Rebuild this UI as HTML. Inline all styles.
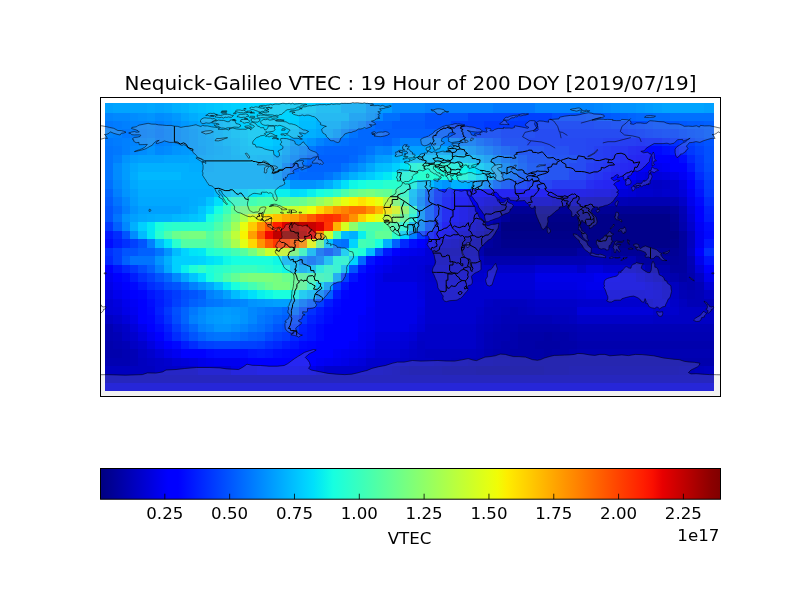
<!DOCTYPE html>
<html lang="en"><head><meta charset="utf-8"><title>Nequick-Galileo VTEC</title>
<style>html,body{margin:0;padding:0;background:#fff}svg{display:block}text{font-family:"DejaVu Sans","Liberation Sans",sans-serif;fill:#000}</style></head><body>
<svg width="800" height="600" viewBox="0 0 800 600">
<rect width="800" height="600" fill="#fff"/>
<defs><linearGradient id="jet" x1="0" x2="1" y1="0" y2="0"><stop offset="0.0000" stop-color="#000080"/><stop offset="0.0156" stop-color="#000092"/><stop offset="0.0312" stop-color="#0000a4"/><stop offset="0.0469" stop-color="#0000b6"/><stop offset="0.0625" stop-color="#0000c8"/><stop offset="0.0781" stop-color="#0000da"/><stop offset="0.0938" stop-color="#0000ed"/><stop offset="0.1094" stop-color="#0000ff"/><stop offset="0.1250" stop-color="#0000ff"/><stop offset="0.1406" stop-color="#0010ff"/><stop offset="0.1562" stop-color="#0020ff"/><stop offset="0.1719" stop-color="#0030ff"/><stop offset="0.1875" stop-color="#0040ff"/><stop offset="0.2031" stop-color="#0050ff"/><stop offset="0.2188" stop-color="#0060ff"/><stop offset="0.2344" stop-color="#0070ff"/><stop offset="0.2500" stop-color="#0080ff"/><stop offset="0.2656" stop-color="#0090ff"/><stop offset="0.2812" stop-color="#00a0ff"/><stop offset="0.2969" stop-color="#00b0ff"/><stop offset="0.3125" stop-color="#00c0ff"/><stop offset="0.3281" stop-color="#00d0ff"/><stop offset="0.3438" stop-color="#00e0fb"/><stop offset="0.3594" stop-color="#09f0ee"/><stop offset="0.3750" stop-color="#16ffe1"/><stop offset="0.3906" stop-color="#23ffd4"/><stop offset="0.4062" stop-color="#30ffc7"/><stop offset="0.4219" stop-color="#3cffba"/><stop offset="0.4375" stop-color="#49ffad"/><stop offset="0.4531" stop-color="#56ffa0"/><stop offset="0.4688" stop-color="#63ff94"/><stop offset="0.4844" stop-color="#70ff87"/><stop offset="0.5000" stop-color="#7dff7a"/><stop offset="0.5156" stop-color="#8aff6d"/><stop offset="0.5312" stop-color="#97ff60"/><stop offset="0.5469" stop-color="#a4ff53"/><stop offset="0.5625" stop-color="#b1ff46"/><stop offset="0.5781" stop-color="#beff39"/><stop offset="0.5938" stop-color="#caff2c"/><stop offset="0.6094" stop-color="#d7ff1f"/><stop offset="0.6250" stop-color="#e4ff13"/><stop offset="0.6406" stop-color="#f1fc06"/><stop offset="0.6562" stop-color="#feed00"/><stop offset="0.6719" stop-color="#ffde00"/><stop offset="0.6875" stop-color="#ffd000"/><stop offset="0.7031" stop-color="#ffc100"/><stop offset="0.7188" stop-color="#ffb200"/><stop offset="0.7344" stop-color="#ffa300"/><stop offset="0.7500" stop-color="#ff9400"/><stop offset="0.7656" stop-color="#ff8600"/><stop offset="0.7812" stop-color="#ff7700"/><stop offset="0.7969" stop-color="#ff6800"/><stop offset="0.8125" stop-color="#ff5900"/><stop offset="0.8281" stop-color="#ff4a00"/><stop offset="0.8438" stop-color="#ff3b00"/><stop offset="0.8594" stop-color="#ff2d00"/><stop offset="0.8750" stop-color="#ff1e00"/><stop offset="0.8906" stop-color="#fa0f00"/><stop offset="0.9062" stop-color="#e80000"/><stop offset="0.9219" stop-color="#d60000"/><stop offset="0.9375" stop-color="#c40000"/><stop offset="0.9531" stop-color="#b20000"/><stop offset="0.9688" stop-color="#9f0000"/><stop offset="0.9844" stop-color="#8d0000"/><stop offset="1.0000" stop-color="#800000"/></linearGradient>
<clipPath id="axclip"><rect x="100.5" y="97.5" width="620" height="299"/></clipPath></defs>
<g shape-rendering="crispEdges">
<rect x="104.66" y="102.90" width="8.74" height="9.90" fill="#00a0ff"/><rect x="113.10" y="102.90" width="34.06" height="9.90" fill="#00a4ff"/><rect x="146.86" y="102.90" width="8.74" height="9.90" fill="#00a8ff"/><rect x="155.30" y="102.90" width="8.74" height="9.90" fill="#00a4ff"/><rect x="163.74" y="102.90" width="8.74" height="9.90" fill="#00a8ff"/><rect x="172.18" y="102.90" width="8.74" height="9.90" fill="#00b0ff"/><rect x="180.62" y="102.90" width="8.74" height="9.90" fill="#00b4ff"/><rect x="189.06" y="102.90" width="8.74" height="9.90" fill="#00bcff"/><rect x="197.50" y="102.90" width="8.74" height="9.90" fill="#00c0ff"/><rect x="205.94" y="102.90" width="8.74" height="9.90" fill="#00c4ff"/><rect x="214.38" y="102.90" width="8.74" height="9.90" fill="#00c8ff"/><rect x="222.82" y="102.90" width="8.74" height="9.90" fill="#00ccff"/><rect x="231.26" y="102.90" width="17.18" height="9.90" fill="#00d0ff"/><rect x="248.14" y="102.90" width="42.50" height="9.90" fill="#00d4ff"/><rect x="290.34" y="102.90" width="17.18" height="9.90" fill="#00d0ff"/><rect x="307.22" y="102.90" width="8.74" height="9.90" fill="#00ccff"/><rect x="315.66" y="102.90" width="25.62" height="9.90" fill="#00c0ff"/><rect x="340.98" y="102.90" width="25.62" height="9.90" fill="#00b0ff"/><rect x="366.30" y="102.90" width="25.62" height="9.90" fill="#009cff"/><rect x="391.62" y="102.90" width="34.06" height="9.90" fill="#0088ff"/><rect x="425.38" y="102.90" width="67.82" height="9.90" fill="#0080ff"/><rect x="492.90" y="102.90" width="42.50" height="9.90" fill="#0078ff"/><rect x="535.10" y="102.90" width="59.38" height="9.90" fill="#0084ff"/><rect x="594.18" y="102.90" width="8.74" height="9.90" fill="#0088ff"/><rect x="602.62" y="102.90" width="8.74" height="9.90" fill="#008cff"/><rect x="611.06" y="102.90" width="8.74" height="9.90" fill="#0090ff"/><rect x="619.50" y="102.90" width="17.18" height="9.90" fill="#0094ff"/><rect x="636.38" y="102.90" width="8.74" height="9.90" fill="#0098ff"/><rect x="644.82" y="102.90" width="8.74" height="9.90" fill="#009cff"/><rect x="653.26" y="102.90" width="8.74" height="9.90" fill="#00a0ff"/><rect x="661.70" y="102.90" width="42.50" height="9.90" fill="#00a4ff"/><rect x="703.90" y="102.90" width="10.40" height="9.90" fill="#00a0ff"/>
<rect x="104.66" y="112.50" width="8.74" height="8.76" fill="#0084ff"/><rect x="113.10" y="112.50" width="17.18" height="8.76" fill="#0088ff"/><rect x="129.98" y="112.50" width="8.74" height="8.76" fill="#008cff"/><rect x="138.42" y="112.50" width="8.74" height="8.76" fill="#0090ff"/><rect x="146.86" y="112.50" width="8.74" height="8.76" fill="#0094ff"/><rect x="155.30" y="112.50" width="8.74" height="8.76" fill="#008cff"/><rect x="163.74" y="112.50" width="8.74" height="8.76" fill="#0090ff"/><rect x="172.18" y="112.50" width="8.74" height="8.76" fill="#0098ff"/><rect x="180.62" y="112.50" width="8.74" height="8.76" fill="#00a4ff"/><rect x="189.06" y="112.50" width="8.74" height="8.76" fill="#00acff"/><rect x="197.50" y="112.50" width="8.74" height="8.76" fill="#00b4ff"/><rect x="205.94" y="112.50" width="8.74" height="8.76" fill="#00b8ff"/><rect x="214.38" y="112.50" width="8.74" height="8.76" fill="#00c0ff"/><rect x="222.82" y="112.50" width="8.74" height="8.76" fill="#00c4ff"/><rect x="231.26" y="112.50" width="8.74" height="8.76" fill="#00ccff"/><rect x="239.70" y="112.50" width="8.74" height="8.76" fill="#00d0ff"/><rect x="248.14" y="112.50" width="42.50" height="8.76" fill="#00d4ff"/><rect x="290.34" y="112.50" width="8.74" height="8.76" fill="#00d0ff"/><rect x="298.78" y="112.50" width="17.18" height="8.76" fill="#00c0ff"/><rect x="315.66" y="112.50" width="34.06" height="8.76" fill="#00b8ff"/><rect x="349.42" y="112.50" width="17.18" height="8.76" fill="#00a0ff"/><rect x="366.30" y="112.50" width="8.74" height="8.76" fill="#0094ff"/><rect x="374.74" y="112.50" width="8.74" height="8.76" fill="#0088ff"/><rect x="383.18" y="112.50" width="17.18" height="8.76" fill="#0070ff"/><rect x="400.06" y="112.50" width="25.62" height="8.76" fill="#0060ff"/><rect x="425.38" y="112.50" width="42.50" height="8.76" fill="#0054ff"/><rect x="467.58" y="112.50" width="50.94" height="8.76" fill="#0044ff"/><rect x="518.22" y="112.50" width="34.06" height="8.76" fill="#0040ff"/><rect x="551.98" y="112.50" width="34.06" height="8.76" fill="#004cff"/><rect x="585.74" y="112.50" width="8.74" height="8.76" fill="#0050ff"/><rect x="594.18" y="112.50" width="8.74" height="8.76" fill="#0054ff"/><rect x="602.62" y="112.50" width="8.74" height="8.76" fill="#0058ff"/><rect x="611.06" y="112.50" width="8.74" height="8.76" fill="#005cff"/><rect x="619.50" y="112.50" width="8.74" height="8.76" fill="#0060ff"/><rect x="627.94" y="112.50" width="8.74" height="8.76" fill="#0064ff"/><rect x="636.38" y="112.50" width="17.18" height="8.76" fill="#0068ff"/><rect x="653.26" y="112.50" width="17.18" height="8.76" fill="#006cff"/><rect x="670.14" y="112.50" width="44.16" height="8.76" fill="#0070ff"/>
<rect x="104.66" y="120.96" width="8.74" height="8.76" fill="#0078ff"/><rect x="113.10" y="120.96" width="8.74" height="8.76" fill="#007cff"/><rect x="121.54" y="120.96" width="8.74" height="8.76" fill="#0080ff"/><rect x="129.98" y="120.96" width="17.18" height="8.76" fill="#0084ff"/><rect x="146.86" y="120.96" width="8.74" height="8.76" fill="#0088ff"/><rect x="155.30" y="120.96" width="8.74" height="8.76" fill="#0080ff"/><rect x="163.74" y="120.96" width="8.74" height="8.76" fill="#0088ff"/><rect x="172.18" y="120.96" width="8.74" height="8.76" fill="#0090ff"/><rect x="180.62" y="120.96" width="8.74" height="8.76" fill="#0098ff"/><rect x="189.06" y="120.96" width="8.74" height="8.76" fill="#00a0ff"/><rect x="197.50" y="120.96" width="8.74" height="8.76" fill="#00a8ff"/><rect x="205.94" y="120.96" width="8.74" height="8.76" fill="#00b0ff"/><rect x="214.38" y="120.96" width="8.74" height="8.76" fill="#00b8ff"/><rect x="222.82" y="120.96" width="8.74" height="8.76" fill="#00c0ff"/><rect x="231.26" y="120.96" width="8.74" height="8.76" fill="#00c8ff"/><rect x="239.70" y="120.96" width="8.74" height="8.76" fill="#00d0ff"/><rect x="248.14" y="120.96" width="34.06" height="8.76" fill="#00d4ff"/><rect x="281.90" y="120.96" width="8.74" height="8.76" fill="#00d0ff"/><rect x="290.34" y="120.96" width="8.74" height="8.76" fill="#00ccff"/><rect x="298.78" y="120.96" width="17.18" height="8.76" fill="#00bcff"/><rect x="315.66" y="120.96" width="25.62" height="8.76" fill="#00b0ff"/><rect x="340.98" y="120.96" width="8.74" height="8.76" fill="#00a0ff"/><rect x="349.42" y="120.96" width="8.74" height="8.76" fill="#0094ff"/><rect x="357.86" y="120.96" width="8.74" height="8.76" fill="#0088ff"/><rect x="366.30" y="120.96" width="8.74" height="8.76" fill="#0070ff"/><rect x="374.74" y="120.96" width="17.18" height="8.76" fill="#0064ff"/><rect x="391.62" y="120.96" width="34.06" height="8.76" fill="#005cff"/><rect x="425.38" y="120.96" width="25.62" height="8.76" fill="#0054ff"/><rect x="450.70" y="120.96" width="34.06" height="8.76" fill="#0040ff"/><rect x="484.46" y="120.96" width="110.02" height="8.76" fill="#0038ff"/><rect x="594.18" y="120.96" width="17.18" height="8.76" fill="#003cff"/><rect x="611.06" y="120.96" width="17.18" height="8.76" fill="#0040ff"/><rect x="627.94" y="120.96" width="8.74" height="8.76" fill="#0044ff"/><rect x="636.38" y="120.96" width="8.74" height="8.76" fill="#0048ff"/><rect x="644.82" y="120.96" width="8.74" height="8.76" fill="#004cff"/><rect x="653.26" y="120.96" width="17.18" height="8.76" fill="#0050ff"/><rect x="670.14" y="120.96" width="8.74" height="8.76" fill="#0054ff"/><rect x="678.58" y="120.96" width="8.74" height="8.76" fill="#0058ff"/><rect x="687.02" y="120.96" width="17.18" height="8.76" fill="#005cff"/><rect x="703.90" y="120.96" width="10.40" height="8.76" fill="#0060ff"/>
<rect x="104.66" y="129.41" width="8.74" height="8.76" fill="#0084ff"/><rect x="113.10" y="129.41" width="8.74" height="8.76" fill="#0080ff"/><rect x="121.54" y="129.41" width="8.74" height="8.76" fill="#0078ff"/><rect x="129.98" y="129.41" width="8.74" height="8.76" fill="#007cff"/><rect x="138.42" y="129.41" width="8.74" height="8.76" fill="#0080ff"/><rect x="146.86" y="129.41" width="8.74" height="8.76" fill="#0084ff"/><rect x="155.30" y="129.41" width="8.74" height="8.76" fill="#007cff"/><rect x="163.74" y="129.41" width="8.74" height="8.76" fill="#0084ff"/><rect x="172.18" y="129.41" width="8.74" height="8.76" fill="#008cff"/><rect x="180.62" y="129.41" width="8.74" height="8.76" fill="#0094ff"/><rect x="189.06" y="129.41" width="8.74" height="8.76" fill="#009cff"/><rect x="197.50" y="129.41" width="8.74" height="8.76" fill="#00a4ff"/><rect x="205.94" y="129.41" width="8.74" height="8.76" fill="#00acff"/><rect x="214.38" y="129.41" width="8.74" height="8.76" fill="#00b4ff"/><rect x="222.82" y="129.41" width="8.74" height="8.76" fill="#00bcff"/><rect x="231.26" y="129.41" width="8.74" height="8.76" fill="#00c4ff"/><rect x="239.70" y="129.41" width="8.74" height="8.76" fill="#00c8ff"/><rect x="248.14" y="129.41" width="34.06" height="8.76" fill="#00d0ff"/><rect x="281.90" y="129.41" width="8.74" height="8.76" fill="#00ccff"/><rect x="290.34" y="129.41" width="8.74" height="8.76" fill="#00c0ff"/><rect x="298.78" y="129.41" width="17.18" height="8.76" fill="#00b0ff"/><rect x="315.66" y="129.41" width="17.18" height="8.76" fill="#00a8ff"/><rect x="332.54" y="129.41" width="8.74" height="8.76" fill="#009cff"/><rect x="340.98" y="129.41" width="8.74" height="8.76" fill="#0088ff"/><rect x="349.42" y="129.41" width="8.74" height="8.76" fill="#0074ff"/><rect x="357.86" y="129.41" width="25.62" height="8.76" fill="#0068ff"/><rect x="383.18" y="129.41" width="67.82" height="8.76" fill="#0060ff"/><rect x="450.70" y="129.41" width="25.62" height="8.76" fill="#0050ff"/><rect x="476.02" y="129.41" width="25.62" height="8.76" fill="#0040ff"/><rect x="501.34" y="129.41" width="34.06" height="8.76" fill="#0038ff"/><rect x="535.10" y="129.41" width="93.14" height="8.76" fill="#0030ff"/><rect x="627.94" y="129.41" width="8.74" height="8.76" fill="#0034ff"/><rect x="636.38" y="129.41" width="8.74" height="8.76" fill="#0038ff"/><rect x="644.82" y="129.41" width="8.74" height="8.76" fill="#003cff"/><rect x="653.26" y="129.41" width="8.74" height="8.76" fill="#0040ff"/><rect x="661.70" y="129.41" width="17.18" height="8.76" fill="#0044ff"/><rect x="678.58" y="129.41" width="8.74" height="8.76" fill="#004cff"/><rect x="687.02" y="129.41" width="8.74" height="8.76" fill="#0050ff"/><rect x="695.46" y="129.41" width="8.74" height="8.76" fill="#0054ff"/><rect x="703.90" y="129.41" width="10.40" height="8.76" fill="#005cff"/>
<rect x="104.66" y="137.87" width="8.74" height="8.76" fill="#0078ff"/><rect x="113.10" y="137.87" width="8.74" height="8.76" fill="#007cff"/><rect x="121.54" y="137.87" width="8.74" height="8.76" fill="#0080ff"/><rect x="129.98" y="137.87" width="8.74" height="8.76" fill="#0084ff"/><rect x="138.42" y="137.87" width="8.74" height="8.76" fill="#0088ff"/><rect x="146.86" y="137.87" width="8.74" height="8.76" fill="#008cff"/><rect x="155.30" y="137.87" width="8.74" height="8.76" fill="#0080ff"/><rect x="163.74" y="137.87" width="8.74" height="8.76" fill="#0084ff"/><rect x="172.18" y="137.87" width="8.74" height="8.76" fill="#008cff"/><rect x="180.62" y="137.87" width="8.74" height="8.76" fill="#0094ff"/><rect x="189.06" y="137.87" width="8.74" height="8.76" fill="#009cff"/><rect x="197.50" y="137.87" width="8.74" height="8.76" fill="#00a4ff"/><rect x="205.94" y="137.87" width="8.74" height="8.76" fill="#00a8ff"/><rect x="214.38" y="137.87" width="8.74" height="8.76" fill="#00b0ff"/><rect x="222.82" y="137.87" width="8.74" height="8.76" fill="#00b8ff"/><rect x="231.26" y="137.87" width="8.74" height="8.76" fill="#00bcff"/><rect x="239.70" y="137.87" width="8.74" height="8.76" fill="#00c4ff"/><rect x="248.14" y="137.87" width="25.62" height="8.76" fill="#00ccff"/><rect x="273.46" y="137.87" width="8.74" height="8.76" fill="#00c4ff"/><rect x="281.90" y="137.87" width="8.74" height="8.76" fill="#00b8ff"/><rect x="290.34" y="137.87" width="17.18" height="8.76" fill="#00a0ff"/><rect x="307.22" y="137.87" width="8.74" height="8.76" fill="#0094ff"/><rect x="315.66" y="137.87" width="8.74" height="8.76" fill="#0084ff"/><rect x="324.10" y="137.87" width="8.74" height="8.76" fill="#0078ff"/><rect x="332.54" y="137.87" width="8.74" height="8.76" fill="#0074ff"/><rect x="340.98" y="137.87" width="8.74" height="8.76" fill="#0070ff"/><rect x="349.42" y="137.87" width="34.06" height="8.76" fill="#0068ff"/><rect x="383.18" y="137.87" width="8.74" height="8.76" fill="#0064ff"/><rect x="391.62" y="137.87" width="8.74" height="8.76" fill="#0070ff"/><rect x="400.06" y="137.87" width="34.06" height="8.76" fill="#0080ff"/><rect x="433.82" y="137.87" width="25.62" height="8.76" fill="#0084ff"/><rect x="459.14" y="137.87" width="17.18" height="8.76" fill="#0078ff"/><rect x="476.02" y="137.87" width="8.74" height="8.76" fill="#0068ff"/><rect x="484.46" y="137.87" width="8.74" height="8.76" fill="#005cff"/><rect x="492.90" y="137.87" width="8.74" height="8.76" fill="#0050ff"/><rect x="501.34" y="137.87" width="25.62" height="8.76" fill="#003cff"/><rect x="526.66" y="137.87" width="34.06" height="8.76" fill="#0030ff"/><rect x="560.42" y="137.87" width="25.62" height="8.76" fill="#002cff"/><rect x="585.74" y="137.87" width="17.18" height="8.76" fill="#0028ff"/><rect x="602.62" y="137.87" width="17.18" height="8.76" fill="#0024ff"/><rect x="619.50" y="137.87" width="17.18" height="8.76" fill="#0020ff"/><rect x="636.38" y="137.87" width="8.74" height="8.76" fill="#001cff"/><rect x="644.82" y="137.87" width="17.18" height="8.76" fill="#0020ff"/><rect x="661.70" y="137.87" width="8.74" height="8.76" fill="#0028ff"/><rect x="670.14" y="137.87" width="8.74" height="8.76" fill="#0030ff"/><rect x="678.58" y="137.87" width="8.74" height="8.76" fill="#0038ff"/><rect x="687.02" y="137.87" width="8.74" height="8.76" fill="#0040ff"/><rect x="695.46" y="137.87" width="8.74" height="8.76" fill="#004cff"/><rect x="703.90" y="137.87" width="10.40" height="8.76" fill="#0054ff"/>
<rect x="104.66" y="146.32" width="8.74" height="8.76" fill="#0074ff"/><rect x="113.10" y="146.32" width="8.74" height="8.76" fill="#0078ff"/><rect x="121.54" y="146.32" width="8.74" height="8.76" fill="#0080ff"/><rect x="129.98" y="146.32" width="8.74" height="8.76" fill="#0088ff"/><rect x="138.42" y="146.32" width="8.74" height="8.76" fill="#008cff"/><rect x="146.86" y="146.32" width="8.74" height="8.76" fill="#0094ff"/><rect x="155.30" y="146.32" width="8.74" height="8.76" fill="#0088ff"/><rect x="163.74" y="146.32" width="8.74" height="8.76" fill="#008cff"/><rect x="172.18" y="146.32" width="8.74" height="8.76" fill="#0094ff"/><rect x="180.62" y="146.32" width="8.74" height="8.76" fill="#0098ff"/><rect x="189.06" y="146.32" width="8.74" height="8.76" fill="#009cff"/><rect x="197.50" y="146.32" width="8.74" height="8.76" fill="#00a0ff"/><rect x="205.94" y="146.32" width="8.74" height="8.76" fill="#00a8ff"/><rect x="214.38" y="146.32" width="8.74" height="8.76" fill="#00acff"/><rect x="222.82" y="146.32" width="8.74" height="8.76" fill="#00b0ff"/><rect x="231.26" y="146.32" width="8.74" height="8.76" fill="#00b8ff"/><rect x="239.70" y="146.32" width="8.74" height="8.76" fill="#00c0ff"/><rect x="248.14" y="146.32" width="25.62" height="8.76" fill="#00c4ff"/><rect x="273.46" y="146.32" width="8.74" height="8.76" fill="#00bcff"/><rect x="281.90" y="146.32" width="8.74" height="8.76" fill="#00a8ff"/><rect x="290.34" y="146.32" width="8.74" height="8.76" fill="#0094ff"/><rect x="298.78" y="146.32" width="8.74" height="8.76" fill="#0088ff"/><rect x="307.22" y="146.32" width="8.74" height="8.76" fill="#0078ff"/><rect x="315.66" y="146.32" width="8.74" height="8.76" fill="#0068ff"/><rect x="324.10" y="146.32" width="34.06" height="8.76" fill="#0064ff"/><rect x="357.86" y="146.32" width="8.74" height="8.76" fill="#0068ff"/><rect x="366.30" y="146.32" width="8.74" height="8.76" fill="#0074ff"/><rect x="374.74" y="146.32" width="8.74" height="8.76" fill="#0084ff"/><rect x="383.18" y="146.32" width="8.74" height="8.76" fill="#0080ff"/><rect x="391.62" y="146.32" width="8.74" height="8.76" fill="#0094ff"/><rect x="400.06" y="146.32" width="25.62" height="8.76" fill="#00a0ff"/><rect x="425.38" y="146.32" width="25.62" height="8.76" fill="#00a8ff"/><rect x="450.70" y="146.32" width="17.18" height="8.76" fill="#00a0ff"/><rect x="467.58" y="146.32" width="8.74" height="8.76" fill="#0098ff"/><rect x="476.02" y="146.32" width="8.74" height="8.76" fill="#0088ff"/><rect x="484.46" y="146.32" width="8.74" height="8.76" fill="#0078ff"/><rect x="492.90" y="146.32" width="8.74" height="8.76" fill="#0068ff"/><rect x="501.34" y="146.32" width="8.74" height="8.76" fill="#005cff"/><rect x="509.78" y="146.32" width="8.74" height="8.76" fill="#0050ff"/><rect x="518.22" y="146.32" width="25.62" height="8.76" fill="#0040ff"/><rect x="543.54" y="146.32" width="25.62" height="8.76" fill="#0038ff"/><rect x="568.86" y="146.32" width="17.18" height="8.76" fill="#002cff"/><rect x="585.74" y="146.32" width="8.74" height="8.76" fill="#0028ff"/><rect x="594.18" y="146.32" width="8.74" height="8.76" fill="#0020ff"/><rect x="602.62" y="146.32" width="8.74" height="8.76" fill="#001cff"/><rect x="611.06" y="146.32" width="8.74" height="8.76" fill="#0018ff"/><rect x="619.50" y="146.32" width="8.74" height="8.76" fill="#0014ff"/><rect x="627.94" y="146.32" width="8.74" height="8.76" fill="#000cff"/><rect x="636.38" y="146.32" width="25.62" height="8.76" fill="#0008ff"/><rect x="661.70" y="146.32" width="8.74" height="8.76" fill="#0010ff"/><rect x="670.14" y="146.32" width="8.74" height="8.76" fill="#0018ff"/><rect x="678.58" y="146.32" width="8.74" height="8.76" fill="#0028ff"/><rect x="687.02" y="146.32" width="8.74" height="8.76" fill="#0038ff"/><rect x="695.46" y="146.32" width="8.74" height="8.76" fill="#0044ff"/><rect x="703.90" y="146.32" width="10.40" height="8.76" fill="#0050ff"/>
<rect x="104.66" y="154.78" width="8.74" height="8.76" fill="#0074ff"/><rect x="113.10" y="154.78" width="8.74" height="8.76" fill="#0080ff"/><rect x="121.54" y="154.78" width="8.74" height="8.76" fill="#0094ff"/><rect x="129.98" y="154.78" width="8.74" height="8.76" fill="#009cff"/><rect x="138.42" y="154.78" width="25.62" height="8.76" fill="#00a0ff"/><rect x="163.74" y="154.78" width="25.62" height="8.76" fill="#00a4ff"/><rect x="189.06" y="154.78" width="17.18" height="8.76" fill="#00a8ff"/><rect x="205.94" y="154.78" width="8.74" height="8.76" fill="#00acff"/><rect x="214.38" y="154.78" width="17.18" height="8.76" fill="#00b0ff"/><rect x="231.26" y="154.78" width="8.74" height="8.76" fill="#00b4ff"/><rect x="239.70" y="154.78" width="8.74" height="8.76" fill="#00b8ff"/><rect x="248.14" y="154.78" width="8.74" height="8.76" fill="#00bcff"/><rect x="256.58" y="154.78" width="17.18" height="8.76" fill="#00b8ff"/><rect x="273.46" y="154.78" width="8.74" height="8.76" fill="#00a8ff"/><rect x="281.90" y="154.78" width="8.74" height="8.76" fill="#009cff"/><rect x="290.34" y="154.78" width="8.74" height="8.76" fill="#0088ff"/><rect x="298.78" y="154.78" width="8.74" height="8.76" fill="#0078ff"/><rect x="307.22" y="154.78" width="8.74" height="8.76" fill="#0068ff"/><rect x="315.66" y="154.78" width="34.06" height="8.76" fill="#0060ff"/><rect x="349.42" y="154.78" width="8.74" height="8.76" fill="#0068ff"/><rect x="357.86" y="154.78" width="8.74" height="8.76" fill="#0078ff"/><rect x="366.30" y="154.78" width="8.74" height="8.76" fill="#0088ff"/><rect x="374.74" y="154.78" width="8.74" height="8.76" fill="#009cff"/><rect x="383.18" y="154.78" width="8.74" height="8.76" fill="#00a0ff"/><rect x="391.62" y="154.78" width="8.74" height="8.76" fill="#00b0ff"/><rect x="400.06" y="154.78" width="25.62" height="8.76" fill="#00c0ff"/><rect x="425.38" y="154.78" width="8.74" height="8.76" fill="#00c4ff"/><rect x="433.82" y="154.78" width="25.62" height="8.76" fill="#00ccff"/><rect x="459.14" y="154.78" width="8.74" height="8.76" fill="#00c4ff"/><rect x="467.58" y="154.78" width="8.74" height="8.76" fill="#00bcff"/><rect x="476.02" y="154.78" width="8.74" height="8.76" fill="#00acff"/><rect x="484.46" y="154.78" width="8.74" height="8.76" fill="#009cff"/><rect x="492.90" y="154.78" width="8.74" height="8.76" fill="#0088ff"/><rect x="501.34" y="154.78" width="8.74" height="8.76" fill="#0074ff"/><rect x="509.78" y="154.78" width="8.74" height="8.76" fill="#0064ff"/><rect x="518.22" y="154.78" width="8.74" height="8.76" fill="#0054ff"/><rect x="526.66" y="154.78" width="25.62" height="8.76" fill="#0044ff"/><rect x="551.98" y="154.78" width="25.62" height="8.76" fill="#003cff"/><rect x="577.30" y="154.78" width="8.74" height="8.76" fill="#0030ff"/><rect x="585.74" y="154.78" width="8.74" height="8.76" fill="#0028ff"/><rect x="594.18" y="154.78" width="8.74" height="8.76" fill="#0020ff"/><rect x="602.62" y="154.78" width="8.74" height="8.76" fill="#001cff"/><rect x="611.06" y="154.78" width="8.74" height="8.76" fill="#0014ff"/><rect x="619.50" y="154.78" width="8.74" height="8.76" fill="#000cff"/><rect x="627.94" y="154.78" width="8.74" height="8.76" fill="#0004ff"/><rect x="636.38" y="154.78" width="42.50" height="8.76" fill="#0000ff"/><rect x="678.58" y="154.78" width="8.74" height="8.76" fill="#000cff"/><rect x="687.02" y="154.78" width="8.74" height="8.76" fill="#0028ff"/><rect x="695.46" y="154.78" width="8.74" height="8.76" fill="#003cff"/><rect x="703.90" y="154.78" width="10.40" height="8.76" fill="#0050ff"/>
<rect x="104.66" y="163.24" width="8.74" height="8.76" fill="#0074ff"/><rect x="113.10" y="163.24" width="8.74" height="8.76" fill="#008cff"/><rect x="121.54" y="163.24" width="8.74" height="8.76" fill="#009cff"/><rect x="129.98" y="163.24" width="8.74" height="8.76" fill="#00a8ff"/><rect x="138.42" y="163.24" width="50.94" height="8.76" fill="#00b0ff"/><rect x="189.06" y="163.24" width="25.62" height="8.76" fill="#00acff"/><rect x="214.38" y="163.24" width="59.38" height="8.76" fill="#00b0ff"/><rect x="273.46" y="163.24" width="8.74" height="8.76" fill="#00a8ff"/><rect x="281.90" y="163.24" width="8.74" height="8.76" fill="#0088ff"/><rect x="290.34" y="163.24" width="8.74" height="8.76" fill="#0060ff"/><rect x="298.78" y="163.24" width="8.74" height="8.76" fill="#0070ff"/><rect x="307.22" y="163.24" width="34.06" height="8.76" fill="#0064ff"/><rect x="340.98" y="163.24" width="8.74" height="8.76" fill="#0074ff"/><rect x="349.42" y="163.24" width="8.74" height="8.76" fill="#0084ff"/><rect x="357.86" y="163.24" width="8.74" height="8.76" fill="#0094ff"/><rect x="366.30" y="163.24" width="8.74" height="8.76" fill="#00a8ff"/><rect x="374.74" y="163.24" width="8.74" height="8.76" fill="#00bcff"/><rect x="383.18" y="163.24" width="8.74" height="8.76" fill="#00c0ff"/><rect x="391.62" y="163.24" width="8.74" height="8.76" fill="#00d0ff"/><rect x="400.06" y="163.24" width="8.74" height="8.76" fill="#00e4f8"/><rect x="408.50" y="163.24" width="8.74" height="8.76" fill="#16ffe1"/><rect x="416.94" y="163.24" width="17.18" height="8.76" fill="#1fffd7"/><rect x="433.82" y="163.24" width="17.18" height="8.76" fill="#1cffdb"/><rect x="450.70" y="163.24" width="17.18" height="8.76" fill="#0ff8e7"/><rect x="467.58" y="163.24" width="8.74" height="8.76" fill="#02e8f4"/><rect x="476.02" y="163.24" width="8.74" height="8.76" fill="#00d4ff"/><rect x="484.46" y="163.24" width="8.74" height="8.76" fill="#00c0ff"/><rect x="492.90" y="163.24" width="8.74" height="8.76" fill="#00a8ff"/><rect x="501.34" y="163.24" width="8.74" height="8.76" fill="#0088ff"/><rect x="509.78" y="163.24" width="8.74" height="8.76" fill="#0070ff"/><rect x="518.22" y="163.24" width="8.74" height="8.76" fill="#005cff"/><rect x="526.66" y="163.24" width="17.18" height="8.76" fill="#004cff"/><rect x="543.54" y="163.24" width="25.62" height="8.76" fill="#003cff"/><rect x="568.86" y="163.24" width="17.18" height="8.76" fill="#0030ff"/><rect x="585.74" y="163.24" width="8.74" height="8.76" fill="#0020ff"/><rect x="594.18" y="163.24" width="8.74" height="8.76" fill="#001cff"/><rect x="602.62" y="163.24" width="8.74" height="8.76" fill="#0014ff"/><rect x="611.06" y="163.24" width="8.74" height="8.76" fill="#000cff"/><rect x="619.50" y="163.24" width="8.74" height="8.76" fill="#0004ff"/><rect x="627.94" y="163.24" width="8.74" height="8.76" fill="#0000ff"/><rect x="636.38" y="163.24" width="17.18" height="8.76" fill="#0000f6"/><rect x="653.26" y="163.24" width="8.74" height="8.76" fill="#0000f1"/><rect x="661.70" y="163.24" width="8.74" height="8.76" fill="#0000f6"/><rect x="670.14" y="163.24" width="17.18" height="8.76" fill="#0000ff"/><rect x="687.02" y="163.24" width="8.74" height="8.76" fill="#0018ff"/><rect x="695.46" y="163.24" width="8.74" height="8.76" fill="#0038ff"/><rect x="703.90" y="163.24" width="10.40" height="8.76" fill="#004cff"/>
<rect x="104.66" y="171.69" width="8.74" height="8.76" fill="#0074ff"/><rect x="113.10" y="171.69" width="8.74" height="8.76" fill="#008cff"/><rect x="121.54" y="171.69" width="8.74" height="8.76" fill="#009cff"/><rect x="129.98" y="171.69" width="8.74" height="8.76" fill="#00acff"/><rect x="138.42" y="171.69" width="42.50" height="8.76" fill="#00b8ff"/><rect x="180.62" y="171.69" width="84.70" height="8.76" fill="#00b0ff"/><rect x="265.02" y="171.69" width="8.74" height="8.76" fill="#00acff"/><rect x="273.46" y="171.69" width="8.74" height="8.76" fill="#009cff"/><rect x="281.90" y="171.69" width="8.74" height="8.76" fill="#0080ff"/><rect x="290.34" y="171.69" width="8.74" height="8.76" fill="#0070ff"/><rect x="298.78" y="171.69" width="25.62" height="8.76" fill="#0068ff"/><rect x="324.10" y="171.69" width="8.74" height="8.76" fill="#0074ff"/><rect x="332.54" y="171.69" width="8.74" height="8.76" fill="#0084ff"/><rect x="340.98" y="171.69" width="8.74" height="8.76" fill="#009cff"/><rect x="349.42" y="171.69" width="8.74" height="8.76" fill="#00b0ff"/><rect x="357.86" y="171.69" width="8.74" height="8.76" fill="#00c0ff"/><rect x="366.30" y="171.69" width="8.74" height="8.76" fill="#00ccff"/><rect x="374.74" y="171.69" width="8.74" height="8.76" fill="#00dcfe"/><rect x="383.18" y="171.69" width="8.74" height="8.76" fill="#02e8f4"/><rect x="391.62" y="171.69" width="8.74" height="8.76" fill="#0ff8e7"/><rect x="400.06" y="171.69" width="8.74" height="8.76" fill="#19ffde"/><rect x="408.50" y="171.69" width="8.74" height="8.76" fill="#1fffd7"/><rect x="416.94" y="171.69" width="17.18" height="8.76" fill="#29ffce"/><rect x="433.82" y="171.69" width="8.74" height="8.76" fill="#1fffd7"/><rect x="442.26" y="171.69" width="8.74" height="8.76" fill="#1cffdb"/><rect x="450.70" y="171.69" width="17.18" height="8.76" fill="#16ffe1"/><rect x="467.58" y="171.69" width="8.74" height="8.76" fill="#09f0ee"/><rect x="476.02" y="171.69" width="8.74" height="8.76" fill="#00dcfe"/><rect x="484.46" y="171.69" width="8.74" height="8.76" fill="#00c4ff"/><rect x="492.90" y="171.69" width="8.74" height="8.76" fill="#00a8ff"/><rect x="501.34" y="171.69" width="8.74" height="8.76" fill="#0084ff"/><rect x="509.78" y="171.69" width="8.74" height="8.76" fill="#0068ff"/><rect x="518.22" y="171.69" width="8.74" height="8.76" fill="#0054ff"/><rect x="526.66" y="171.69" width="17.18" height="8.76" fill="#0044ff"/><rect x="543.54" y="171.69" width="25.62" height="8.76" fill="#003cff"/><rect x="568.86" y="171.69" width="17.18" height="8.76" fill="#002cff"/><rect x="585.74" y="171.69" width="8.74" height="8.76" fill="#001cff"/><rect x="594.18" y="171.69" width="8.74" height="8.76" fill="#0014ff"/><rect x="602.62" y="171.69" width="8.74" height="8.76" fill="#000cff"/><rect x="611.06" y="171.69" width="8.74" height="8.76" fill="#0004ff"/><rect x="619.50" y="171.69" width="8.74" height="8.76" fill="#0000ff"/><rect x="627.94" y="171.69" width="8.74" height="8.76" fill="#0000f6"/><rect x="636.38" y="171.69" width="8.74" height="8.76" fill="#0000e8"/><rect x="644.82" y="171.69" width="8.74" height="8.76" fill="#0000df"/><rect x="653.26" y="171.69" width="8.74" height="8.76" fill="#0000da"/><rect x="661.70" y="171.69" width="8.74" height="8.76" fill="#0000df"/><rect x="670.14" y="171.69" width="8.74" height="8.76" fill="#0000e8"/><rect x="678.58" y="171.69" width="8.74" height="8.76" fill="#0000f6"/><rect x="687.02" y="171.69" width="8.74" height="8.76" fill="#0008ff"/><rect x="695.46" y="171.69" width="8.74" height="8.76" fill="#002cff"/><rect x="703.90" y="171.69" width="10.40" height="8.76" fill="#0044ff"/>
<rect x="104.66" y="180.15" width="8.74" height="8.76" fill="#0070ff"/><rect x="113.10" y="180.15" width="8.74" height="8.76" fill="#0088ff"/><rect x="121.54" y="180.15" width="8.74" height="8.76" fill="#0098ff"/><rect x="129.98" y="180.15" width="8.74" height="8.76" fill="#00a8ff"/><rect x="138.42" y="180.15" width="152.22" height="8.76" fill="#00b0ff"/><rect x="290.34" y="180.15" width="25.62" height="8.76" fill="#0094ff"/><rect x="315.66" y="180.15" width="8.74" height="8.76" fill="#009cff"/><rect x="324.10" y="180.15" width="8.74" height="8.76" fill="#00acff"/><rect x="332.54" y="180.15" width="8.74" height="8.76" fill="#00c4ff"/><rect x="340.98" y="180.15" width="8.74" height="8.76" fill="#00e0fb"/><rect x="349.42" y="180.15" width="8.74" height="8.76" fill="#0ff8e7"/><rect x="357.86" y="180.15" width="8.74" height="8.76" fill="#16ffe1"/><rect x="366.30" y="180.15" width="17.18" height="8.76" fill="#1fffd7"/><rect x="383.18" y="180.15" width="17.18" height="8.76" fill="#29ffce"/><rect x="400.06" y="180.15" width="8.74" height="8.76" fill="#1fffd7"/><rect x="408.50" y="180.15" width="8.74" height="8.76" fill="#0ff8e7"/><rect x="416.94" y="180.15" width="8.74" height="8.76" fill="#00c4ff"/><rect x="425.38" y="180.15" width="8.74" height="8.76" fill="#00bcff"/><rect x="433.82" y="180.15" width="8.74" height="8.76" fill="#00a0ff"/><rect x="442.26" y="180.15" width="8.74" height="8.76" fill="#0094ff"/><rect x="450.70" y="180.15" width="17.18" height="8.76" fill="#00b0ff"/><rect x="467.58" y="180.15" width="8.74" height="8.76" fill="#00a8ff"/><rect x="476.02" y="180.15" width="8.74" height="8.76" fill="#0094ff"/><rect x="484.46" y="180.15" width="8.74" height="8.76" fill="#0080ff"/><rect x="492.90" y="180.15" width="8.74" height="8.76" fill="#0064ff"/><rect x="501.34" y="180.15" width="8.74" height="8.76" fill="#0050ff"/><rect x="509.78" y="180.15" width="8.74" height="8.76" fill="#0040ff"/><rect x="518.22" y="180.15" width="8.74" height="8.76" fill="#0038ff"/><rect x="526.66" y="180.15" width="25.62" height="8.76" fill="#0028ff"/><rect x="551.98" y="180.15" width="34.06" height="8.76" fill="#001cff"/><rect x="585.74" y="180.15" width="8.74" height="8.76" fill="#000cff"/><rect x="594.18" y="180.15" width="8.74" height="8.76" fill="#0004ff"/><rect x="602.62" y="180.15" width="17.18" height="8.76" fill="#0000ff"/><rect x="619.50" y="180.15" width="8.74" height="8.76" fill="#0000f1"/><rect x="627.94" y="180.15" width="8.74" height="8.76" fill="#0000df"/><rect x="636.38" y="180.15" width="8.74" height="8.76" fill="#0000cd"/><rect x="644.82" y="180.15" width="8.74" height="8.76" fill="#0000c8"/><rect x="653.26" y="180.15" width="8.74" height="8.76" fill="#0000c4"/><rect x="661.70" y="180.15" width="8.74" height="8.76" fill="#0000c8"/><rect x="670.14" y="180.15" width="8.74" height="8.76" fill="#0000cd"/><rect x="678.58" y="180.15" width="8.74" height="8.76" fill="#0000df"/><rect x="687.02" y="180.15" width="8.74" height="8.76" fill="#0000ff"/><rect x="695.46" y="180.15" width="8.74" height="8.76" fill="#001cff"/><rect x="703.90" y="180.15" width="10.40" height="8.76" fill="#003cff"/>
<rect x="104.66" y="188.60" width="8.74" height="8.76" fill="#0064ff"/><rect x="113.10" y="188.60" width="8.74" height="8.76" fill="#0080ff"/><rect x="121.54" y="188.60" width="8.74" height="8.76" fill="#0094ff"/><rect x="129.98" y="188.60" width="8.74" height="8.76" fill="#00a0ff"/><rect x="138.42" y="188.60" width="76.26" height="8.76" fill="#00acff"/><rect x="214.38" y="188.60" width="8.74" height="8.76" fill="#00bcff"/><rect x="222.82" y="188.60" width="8.74" height="8.76" fill="#00c4ff"/><rect x="231.26" y="188.60" width="8.74" height="8.76" fill="#00d0ff"/><rect x="239.70" y="188.60" width="8.74" height="8.76" fill="#00d4ff"/><rect x="248.14" y="188.60" width="8.74" height="8.76" fill="#00e0fb"/><rect x="256.58" y="188.60" width="8.74" height="8.76" fill="#02e8f4"/><rect x="265.02" y="188.60" width="25.62" height="8.76" fill="#09f0ee"/><rect x="290.34" y="188.60" width="8.74" height="8.76" fill="#00dcfe"/><rect x="298.78" y="188.60" width="8.74" height="8.76" fill="#00e0fb"/><rect x="307.22" y="188.60" width="8.74" height="8.76" fill="#09f0ee"/><rect x="315.66" y="188.60" width="8.74" height="8.76" fill="#16ffe1"/><rect x="324.10" y="188.60" width="8.74" height="8.76" fill="#1fffd7"/><rect x="332.54" y="188.60" width="8.74" height="8.76" fill="#30ffc7"/><rect x="340.98" y="188.60" width="8.74" height="8.76" fill="#4dffaa"/><rect x="349.42" y="188.60" width="8.74" height="8.76" fill="#63ff94"/><rect x="357.86" y="188.60" width="8.74" height="8.76" fill="#70ff87"/><rect x="366.30" y="188.60" width="8.74" height="8.76" fill="#77ff80"/><rect x="374.74" y="188.60" width="8.74" height="8.76" fill="#6aff8d"/><rect x="383.18" y="188.60" width="8.74" height="8.76" fill="#63ff94"/><rect x="391.62" y="188.60" width="8.74" height="8.76" fill="#4dffaa"/><rect x="400.06" y="188.60" width="8.74" height="8.76" fill="#29ffce"/><rect x="408.50" y="188.60" width="8.74" height="8.76" fill="#00c4ff"/><rect x="416.94" y="188.60" width="8.74" height="8.76" fill="#0098ff"/><rect x="425.38" y="188.60" width="8.74" height="8.76" fill="#005cff"/><rect x="433.82" y="188.60" width="8.74" height="8.76" fill="#0030ff"/><rect x="442.26" y="188.60" width="8.74" height="8.76" fill="#0018ff"/><rect x="450.70" y="188.60" width="8.74" height="8.76" fill="#000cff"/><rect x="459.14" y="188.60" width="8.74" height="8.76" fill="#0008ff"/><rect x="467.58" y="188.60" width="84.70" height="8.76" fill="#0000ff"/><rect x="551.98" y="188.60" width="34.06" height="8.76" fill="#0000f1"/><rect x="585.74" y="188.60" width="8.74" height="8.76" fill="#0000ed"/><rect x="594.18" y="188.60" width="17.18" height="8.76" fill="#0000e8"/><rect x="611.06" y="188.60" width="8.74" height="8.76" fill="#0000df"/><rect x="619.50" y="188.60" width="8.74" height="8.76" fill="#0000da"/><rect x="627.94" y="188.60" width="8.74" height="8.76" fill="#0000d6"/><rect x="636.38" y="188.60" width="17.18" height="8.76" fill="#0000cd"/><rect x="653.26" y="188.60" width="8.74" height="8.76" fill="#0000c8"/><rect x="661.70" y="188.60" width="17.18" height="8.76" fill="#0000cd"/><rect x="678.58" y="188.60" width="8.74" height="8.76" fill="#0000da"/><rect x="687.02" y="188.60" width="8.74" height="8.76" fill="#0000f6"/><rect x="695.46" y="188.60" width="8.74" height="8.76" fill="#0014ff"/><rect x="703.90" y="188.60" width="10.40" height="8.76" fill="#0038ff"/>
<rect x="104.66" y="197.06" width="8.74" height="8.76" fill="#005cff"/><rect x="113.10" y="197.06" width="8.74" height="8.76" fill="#0074ff"/><rect x="121.54" y="197.06" width="8.74" height="8.76" fill="#0088ff"/><rect x="129.98" y="197.06" width="8.74" height="8.76" fill="#009cff"/><rect x="138.42" y="197.06" width="50.94" height="8.76" fill="#00a8ff"/><rect x="189.06" y="197.06" width="8.74" height="8.76" fill="#00acff"/><rect x="197.50" y="197.06" width="8.74" height="8.76" fill="#00b0ff"/><rect x="205.94" y="197.06" width="8.74" height="8.76" fill="#00c4ff"/><rect x="214.38" y="197.06" width="8.74" height="8.76" fill="#00e0fb"/><rect x="222.82" y="197.06" width="8.74" height="8.76" fill="#1fffd7"/><rect x="231.26" y="197.06" width="8.74" height="8.76" fill="#30ffc7"/><rect x="239.70" y="197.06" width="8.74" height="8.76" fill="#39ffbe"/><rect x="248.14" y="197.06" width="8.74" height="8.76" fill="#43ffb4"/><rect x="256.58" y="197.06" width="17.18" height="8.76" fill="#4dffaa"/><rect x="273.46" y="197.06" width="8.74" height="8.76" fill="#56ffa0"/><rect x="281.90" y="197.06" width="8.74" height="8.76" fill="#5aff9d"/><rect x="290.34" y="197.06" width="8.74" height="8.76" fill="#63ff94"/><rect x="298.78" y="197.06" width="8.74" height="8.76" fill="#6aff8d"/><rect x="307.22" y="197.06" width="8.74" height="8.76" fill="#7dff7a"/><rect x="315.66" y="197.06" width="8.74" height="8.76" fill="#94ff63"/><rect x="324.10" y="197.06" width="8.74" height="8.76" fill="#aaff4d"/><rect x="332.54" y="197.06" width="8.74" height="8.76" fill="#caff2c"/><rect x="340.98" y="197.06" width="8.74" height="8.76" fill="#e7ff0f"/><rect x="349.42" y="197.06" width="8.74" height="8.76" fill="#f8f500"/><rect x="357.86" y="197.06" width="8.74" height="8.76" fill="#ffe200"/><rect x="366.30" y="197.06" width="8.74" height="8.76" fill="#f8f500"/><rect x="374.74" y="197.06" width="8.74" height="8.76" fill="#e7ff0f"/><rect x="383.18" y="197.06" width="8.74" height="8.76" fill="#baff3c"/><rect x="391.62" y="197.06" width="8.74" height="8.76" fill="#7dff7a"/><rect x="400.06" y="197.06" width="8.74" height="8.76" fill="#3cffba"/><rect x="408.50" y="197.06" width="8.74" height="8.76" fill="#00bcff"/><rect x="416.94" y="197.06" width="8.74" height="8.76" fill="#0088ff"/><rect x="425.38" y="197.06" width="8.74" height="8.76" fill="#0054ff"/><rect x="433.82" y="197.06" width="8.74" height="8.76" fill="#002cff"/><rect x="442.26" y="197.06" width="8.74" height="8.76" fill="#0010ff"/><rect x="450.70" y="197.06" width="17.18" height="8.76" fill="#0000ff"/><rect x="467.58" y="197.06" width="8.74" height="8.76" fill="#0000f1"/><rect x="476.02" y="197.06" width="8.74" height="8.76" fill="#0000e8"/><rect x="484.46" y="197.06" width="8.74" height="8.76" fill="#0000da"/><rect x="492.90" y="197.06" width="8.74" height="8.76" fill="#0000d6"/><rect x="501.34" y="197.06" width="50.94" height="8.76" fill="#0000cd"/><rect x="551.98" y="197.06" width="34.06" height="8.76" fill="#0000c4"/><rect x="585.74" y="197.06" width="8.74" height="8.76" fill="#0000bf"/><rect x="594.18" y="197.06" width="17.18" height="8.76" fill="#0000bb"/><rect x="611.06" y="197.06" width="17.18" height="8.76" fill="#0000b6"/><rect x="627.94" y="197.06" width="42.50" height="8.76" fill="#0000b2"/><rect x="670.14" y="197.06" width="8.74" height="8.76" fill="#0000b6"/><rect x="678.58" y="197.06" width="8.74" height="8.76" fill="#0000c8"/><rect x="687.02" y="197.06" width="8.74" height="8.76" fill="#0000ed"/><rect x="695.46" y="197.06" width="8.74" height="8.76" fill="#0008ff"/><rect x="703.90" y="197.06" width="10.40" height="8.76" fill="#002cff"/>
<rect x="104.66" y="205.52" width="8.74" height="8.76" fill="#0054ff"/><rect x="113.10" y="205.52" width="8.74" height="8.76" fill="#0068ff"/><rect x="121.54" y="205.52" width="8.74" height="8.76" fill="#0080ff"/><rect x="129.98" y="205.52" width="8.74" height="8.76" fill="#0094ff"/><rect x="138.42" y="205.52" width="42.50" height="8.76" fill="#00a0ff"/><rect x="180.62" y="205.52" width="8.74" height="8.76" fill="#00a8ff"/><rect x="189.06" y="205.52" width="8.74" height="8.76" fill="#00b0ff"/><rect x="197.50" y="205.52" width="8.74" height="8.76" fill="#00c4ff"/><rect x="205.94" y="205.52" width="8.74" height="8.76" fill="#00dcfe"/><rect x="214.38" y="205.52" width="8.74" height="8.76" fill="#16ffe1"/><rect x="222.82" y="205.52" width="8.74" height="8.76" fill="#39ffbe"/><rect x="231.26" y="205.52" width="8.74" height="8.76" fill="#63ff94"/><rect x="239.70" y="205.52" width="8.74" height="8.76" fill="#77ff80"/><rect x="248.14" y="205.52" width="8.74" height="8.76" fill="#7dff7a"/><rect x="256.58" y="205.52" width="8.74" height="8.76" fill="#8dff6a"/><rect x="265.02" y="205.52" width="8.74" height="8.76" fill="#a0ff56"/><rect x="273.46" y="205.52" width="8.74" height="8.76" fill="#aaff4d"/><rect x="281.90" y="205.52" width="8.74" height="8.76" fill="#beff39"/><rect x="290.34" y="205.52" width="8.74" height="8.76" fill="#caff2c"/><rect x="298.78" y="205.52" width="8.74" height="8.76" fill="#d7ff1f"/><rect x="307.22" y="205.52" width="8.74" height="8.76" fill="#eeff09"/><rect x="315.66" y="205.52" width="8.74" height="8.76" fill="#ffd700"/><rect x="324.10" y="205.52" width="8.74" height="8.76" fill="#ffb600"/><rect x="332.54" y="205.52" width="8.74" height="8.76" fill="#ff9400"/><rect x="340.98" y="205.52" width="8.74" height="8.76" fill="#ff8200"/><rect x="349.42" y="205.52" width="17.18" height="8.76" fill="#ff6f00"/><rect x="366.30" y="205.52" width="8.74" height="8.76" fill="#ff8d00"/><rect x="374.74" y="205.52" width="8.74" height="8.76" fill="#ffb600"/><rect x="383.18" y="205.52" width="8.74" height="8.76" fill="#feed00"/><rect x="391.62" y="205.52" width="8.74" height="8.76" fill="#dbff1c"/><rect x="400.06" y="205.52" width="8.74" height="8.76" fill="#8dff6a"/><rect x="408.50" y="205.52" width="8.74" height="8.76" fill="#30ffc7"/><rect x="416.94" y="205.52" width="8.74" height="8.76" fill="#0094ff"/><rect x="425.38" y="205.52" width="8.74" height="8.76" fill="#005cff"/><rect x="433.82" y="205.52" width="8.74" height="8.76" fill="#002cff"/><rect x="442.26" y="205.52" width="8.74" height="8.76" fill="#000cff"/><rect x="450.70" y="205.52" width="8.74" height="8.76" fill="#0000ff"/><rect x="459.14" y="205.52" width="8.74" height="8.76" fill="#0000f1"/><rect x="467.58" y="205.52" width="8.74" height="8.76" fill="#0000df"/><rect x="476.02" y="205.52" width="8.74" height="8.76" fill="#0000cd"/><rect x="484.46" y="205.52" width="8.74" height="8.76" fill="#0000bf"/><rect x="492.90" y="205.52" width="8.74" height="8.76" fill="#0000ad"/><rect x="501.34" y="205.52" width="8.74" height="8.76" fill="#00009f"/><rect x="509.78" y="205.52" width="160.66" height="8.76" fill="#000096"/><rect x="670.14" y="205.52" width="8.74" height="8.76" fill="#00009f"/><rect x="678.58" y="205.52" width="8.74" height="8.76" fill="#0000b6"/><rect x="687.02" y="205.52" width="8.74" height="8.76" fill="#0000df"/><rect x="695.46" y="205.52" width="8.74" height="8.76" fill="#0000ff"/><rect x="703.90" y="205.52" width="10.40" height="8.76" fill="#0020ff"/>
<rect x="104.66" y="213.97" width="8.74" height="8.76" fill="#0054ff"/><rect x="113.10" y="213.97" width="8.74" height="8.76" fill="#0074ff"/><rect x="121.54" y="213.97" width="8.74" height="8.76" fill="#0094ff"/><rect x="129.98" y="213.97" width="8.74" height="8.76" fill="#00a0ff"/><rect x="138.42" y="213.97" width="8.74" height="8.76" fill="#00a8ff"/><rect x="146.86" y="213.97" width="8.74" height="8.76" fill="#00acff"/><rect x="155.30" y="213.97" width="17.18" height="8.76" fill="#00b0ff"/><rect x="172.18" y="213.97" width="8.74" height="8.76" fill="#00b8ff"/><rect x="180.62" y="213.97" width="8.74" height="8.76" fill="#00bcff"/><rect x="189.06" y="213.97" width="8.74" height="8.76" fill="#00c4ff"/><rect x="197.50" y="213.97" width="8.74" height="8.76" fill="#00ccff"/><rect x="205.94" y="213.97" width="8.74" height="8.76" fill="#16ffe1"/><rect x="214.38" y="213.97" width="8.74" height="8.76" fill="#30ffc7"/><rect x="222.82" y="213.97" width="8.74" height="8.76" fill="#56ffa0"/><rect x="231.26" y="213.97" width="8.74" height="8.76" fill="#7dff7a"/><rect x="239.70" y="213.97" width="8.74" height="8.76" fill="#aaff4d"/><rect x="248.14" y="213.97" width="8.74" height="8.76" fill="#dbff1c"/><rect x="256.58" y="213.97" width="8.74" height="8.76" fill="#f8f500"/><rect x="265.02" y="213.97" width="8.74" height="8.76" fill="#ffd700"/><rect x="273.46" y="213.97" width="8.74" height="8.76" fill="#ffc100"/><rect x="281.90" y="213.97" width="8.74" height="8.76" fill="#ffab00"/><rect x="290.34" y="213.97" width="8.74" height="8.76" fill="#ff9c00"/><rect x="298.78" y="213.97" width="8.74" height="8.76" fill="#ff7a00"/><rect x="307.22" y="213.97" width="8.74" height="8.76" fill="#ff5900"/><rect x="315.66" y="213.97" width="8.74" height="8.76" fill="#ff3800"/><rect x="324.10" y="213.97" width="8.74" height="8.76" fill="#ff2d00"/><rect x="332.54" y="213.97" width="8.74" height="8.76" fill="#ff3800"/><rect x="340.98" y="213.97" width="8.74" height="8.76" fill="#ff6000"/><rect x="349.42" y="213.97" width="8.74" height="8.76" fill="#ff9100"/><rect x="357.86" y="213.97" width="8.74" height="8.76" fill="#ffd000"/><rect x="366.30" y="213.97" width="8.74" height="8.76" fill="#f8f500"/><rect x="374.74" y="213.97" width="8.74" height="8.76" fill="#e4ff13"/><rect x="383.18" y="213.97" width="8.74" height="8.76" fill="#c1ff36"/><rect x="391.62" y="213.97" width="8.74" height="8.76" fill="#90ff66"/><rect x="400.06" y="213.97" width="8.74" height="8.76" fill="#5aff9d"/><rect x="408.50" y="213.97" width="8.74" height="8.76" fill="#16ffe1"/><rect x="416.94" y="213.97" width="8.74" height="8.76" fill="#0098ff"/><rect x="425.38" y="213.97" width="8.74" height="8.76" fill="#005cff"/><rect x="433.82" y="213.97" width="8.74" height="8.76" fill="#002cff"/><rect x="442.26" y="213.97" width="8.74" height="8.76" fill="#000cff"/><rect x="450.70" y="213.97" width="8.74" height="8.76" fill="#0000ff"/><rect x="459.14" y="213.97" width="8.74" height="8.76" fill="#0000f1"/><rect x="467.58" y="213.97" width="8.74" height="8.76" fill="#0000df"/><rect x="476.02" y="213.97" width="8.74" height="8.76" fill="#0000cd"/><rect x="484.46" y="213.97" width="8.74" height="8.76" fill="#0000bf"/><rect x="492.90" y="213.97" width="8.74" height="8.76" fill="#0000ad"/><rect x="501.34" y="213.97" width="8.74" height="8.76" fill="#00009b"/><rect x="509.78" y="213.97" width="160.66" height="8.76" fill="#000089"/><rect x="670.14" y="213.97" width="8.74" height="8.76" fill="#000096"/><rect x="678.58" y="213.97" width="8.74" height="8.76" fill="#0000b2"/><rect x="687.02" y="213.97" width="8.74" height="8.76" fill="#0000d6"/><rect x="695.46" y="213.97" width="8.74" height="8.76" fill="#0000ff"/><rect x="703.90" y="213.97" width="10.40" height="8.76" fill="#001cff"/>
<rect x="104.66" y="222.43" width="8.74" height="8.76" fill="#0038ff"/><rect x="113.10" y="222.43" width="8.74" height="8.76" fill="#0060ff"/><rect x="121.54" y="222.43" width="8.74" height="8.76" fill="#0088ff"/><rect x="129.98" y="222.43" width="8.74" height="8.76" fill="#00b0ff"/><rect x="138.42" y="222.43" width="8.74" height="8.76" fill="#00d0ff"/><rect x="146.86" y="222.43" width="8.74" height="8.76" fill="#02e8f4"/><rect x="155.30" y="222.43" width="8.74" height="8.76" fill="#1cffdb"/><rect x="163.74" y="222.43" width="8.74" height="8.76" fill="#29ffce"/><rect x="172.18" y="222.43" width="34.06" height="8.76" fill="#2cffca"/><rect x="205.94" y="222.43" width="8.74" height="8.76" fill="#30ffc7"/><rect x="214.38" y="222.43" width="8.74" height="8.76" fill="#4dffaa"/><rect x="222.82" y="222.43" width="8.74" height="8.76" fill="#6aff8d"/><rect x="231.26" y="222.43" width="8.74" height="8.76" fill="#a0ff56"/><rect x="239.70" y="222.43" width="8.74" height="8.76" fill="#e7ff0f"/><rect x="248.14" y="222.43" width="8.74" height="8.76" fill="#ffcc00"/><rect x="256.58" y="222.43" width="8.74" height="8.76" fill="#ff8d00"/><rect x="265.02" y="222.43" width="8.74" height="8.76" fill="#ff5500"/><rect x="273.46" y="222.43" width="8.74" height="8.76" fill="#ff1e00"/><rect x="281.90" y="222.43" width="8.74" height="8.76" fill="#df0000"/><rect x="290.34" y="222.43" width="8.74" height="8.76" fill="#a40000"/><rect x="298.78" y="222.43" width="8.74" height="8.76" fill="#bf0000"/><rect x="307.22" y="222.43" width="8.74" height="8.76" fill="#c80000"/><rect x="315.66" y="222.43" width="8.74" height="8.76" fill="#df0000"/><rect x="324.10" y="222.43" width="8.74" height="8.76" fill="#ff3400"/><rect x="332.54" y="222.43" width="8.74" height="8.76" fill="#ffb200"/><rect x="340.98" y="222.43" width="8.74" height="8.76" fill="#d7ff1f"/><rect x="349.42" y="222.43" width="8.74" height="8.76" fill="#8dff6a"/><rect x="357.86" y="222.43" width="8.74" height="8.76" fill="#56ffa0"/><rect x="366.30" y="222.43" width="17.18" height="8.76" fill="#4dffaa"/><rect x="383.18" y="222.43" width="8.74" height="8.76" fill="#56ffa0"/><rect x="391.62" y="222.43" width="8.74" height="8.76" fill="#43ffb4"/><rect x="400.06" y="222.43" width="8.74" height="8.76" fill="#1cffdb"/><rect x="408.50" y="222.43" width="8.74" height="8.76" fill="#00bcff"/><rect x="416.94" y="222.43" width="8.74" height="8.76" fill="#0088ff"/><rect x="425.38" y="222.43" width="8.74" height="8.76" fill="#0050ff"/><rect x="433.82" y="222.43" width="8.74" height="8.76" fill="#0020ff"/><rect x="442.26" y="222.43" width="8.74" height="8.76" fill="#0000ff"/><rect x="450.70" y="222.43" width="8.74" height="8.76" fill="#0000f1"/><rect x="459.14" y="222.43" width="8.74" height="8.76" fill="#0000df"/><rect x="467.58" y="222.43" width="8.74" height="8.76" fill="#0000cd"/><rect x="476.02" y="222.43" width="8.74" height="8.76" fill="#0000c4"/><rect x="484.46" y="222.43" width="8.74" height="8.76" fill="#0000b2"/><rect x="492.90" y="222.43" width="8.74" height="8.76" fill="#00009f"/><rect x="501.34" y="222.43" width="84.70" height="8.76" fill="#000084"/><rect x="585.74" y="222.43" width="84.70" height="8.76" fill="#000089"/><rect x="670.14" y="222.43" width="8.74" height="8.76" fill="#000092"/><rect x="678.58" y="222.43" width="8.74" height="8.76" fill="#0000ad"/><rect x="687.02" y="222.43" width="8.74" height="8.76" fill="#0000cd"/><rect x="695.46" y="222.43" width="8.74" height="8.76" fill="#0000f6"/><rect x="703.90" y="222.43" width="10.40" height="8.76" fill="#000cff"/>
<rect x="104.66" y="230.88" width="8.74" height="8.76" fill="#0018ff"/><rect x="113.10" y="230.88" width="8.74" height="8.76" fill="#002cff"/><rect x="121.54" y="230.88" width="8.74" height="8.76" fill="#0054ff"/><rect x="129.98" y="230.88" width="8.74" height="8.76" fill="#008cff"/><rect x="138.42" y="230.88" width="8.74" height="8.76" fill="#00bcff"/><rect x="146.86" y="230.88" width="8.74" height="8.76" fill="#02e8f4"/><rect x="155.30" y="230.88" width="8.74" height="8.76" fill="#29ffce"/><rect x="163.74" y="230.88" width="8.74" height="8.76" fill="#4dffaa"/><rect x="172.18" y="230.88" width="8.74" height="8.76" fill="#6aff8d"/><rect x="180.62" y="230.88" width="8.74" height="8.76" fill="#73ff83"/><rect x="189.06" y="230.88" width="17.18" height="8.76" fill="#77ff80"/><rect x="205.94" y="230.88" width="8.74" height="8.76" fill="#56ffa0"/><rect x="214.38" y="230.88" width="8.74" height="8.76" fill="#6aff8d"/><rect x="222.82" y="230.88" width="8.74" height="8.76" fill="#8dff6a"/><rect x="231.26" y="230.88" width="8.74" height="8.76" fill="#beff39"/><rect x="239.70" y="230.88" width="8.74" height="8.76" fill="#f8f500"/><rect x="248.14" y="230.88" width="8.74" height="8.76" fill="#ff9f00"/><rect x="256.58" y="230.88" width="8.74" height="8.76" fill="#ff5500"/><rect x="265.02" y="230.88" width="8.74" height="8.76" fill="#f10800"/><rect x="273.46" y="230.88" width="8.74" height="8.76" fill="#bf0000"/><rect x="281.90" y="230.88" width="8.74" height="8.76" fill="#8d0000"/><rect x="290.34" y="230.88" width="8.74" height="8.76" fill="#890000"/><rect x="298.78" y="230.88" width="8.74" height="8.76" fill="#ad0000"/><rect x="307.22" y="230.88" width="8.74" height="8.76" fill="#df0000"/><rect x="315.66" y="230.88" width="8.74" height="8.76" fill="#ff8d00"/><rect x="324.10" y="230.88" width="8.74" height="8.76" fill="#ceff29"/><rect x="332.54" y="230.88" width="8.74" height="8.76" fill="#43ffb4"/><rect x="340.98" y="230.88" width="8.74" height="8.76" fill="#00bcff"/><rect x="349.42" y="230.88" width="8.74" height="8.76" fill="#00b0ff"/><rect x="357.86" y="230.88" width="8.74" height="8.76" fill="#09f0ee"/><rect x="366.30" y="230.88" width="8.74" height="8.76" fill="#43ffb4"/><rect x="374.74" y="230.88" width="8.74" height="8.76" fill="#63ff94"/><rect x="383.18" y="230.88" width="8.74" height="8.76" fill="#60ff97"/><rect x="391.62" y="230.88" width="8.74" height="8.76" fill="#2cffca"/><rect x="400.06" y="230.88" width="8.74" height="8.76" fill="#00d4ff"/><rect x="408.50" y="230.88" width="8.74" height="8.76" fill="#0080ff"/><rect x="416.94" y="230.88" width="8.74" height="8.76" fill="#003cff"/><rect x="425.38" y="230.88" width="8.74" height="8.76" fill="#0018ff"/><rect x="433.82" y="230.88" width="8.74" height="8.76" fill="#0000ff"/><rect x="442.26" y="230.88" width="8.74" height="8.76" fill="#0000f1"/><rect x="450.70" y="230.88" width="8.74" height="8.76" fill="#0000df"/><rect x="459.14" y="230.88" width="8.74" height="8.76" fill="#0000cd"/><rect x="467.58" y="230.88" width="8.74" height="8.76" fill="#0000c4"/><rect x="476.02" y="230.88" width="8.74" height="8.76" fill="#0000b6"/><rect x="484.46" y="230.88" width="8.74" height="8.76" fill="#0000a4"/><rect x="492.90" y="230.88" width="8.74" height="8.76" fill="#000096"/><rect x="501.34" y="230.88" width="177.54" height="8.76" fill="#000089"/><rect x="678.58" y="230.88" width="8.74" height="8.76" fill="#00009f"/><rect x="687.02" y="230.88" width="8.74" height="8.76" fill="#0000bf"/><rect x="695.46" y="230.88" width="8.74" height="8.76" fill="#0000f1"/><rect x="703.90" y="230.88" width="10.40" height="8.76" fill="#0008ff"/>
<rect x="104.66" y="239.34" width="8.74" height="8.76" fill="#000cff"/><rect x="113.10" y="239.34" width="8.74" height="8.76" fill="#0020ff"/><rect x="121.54" y="239.34" width="8.74" height="8.76" fill="#0030ff"/><rect x="129.98" y="239.34" width="8.74" height="8.76" fill="#0040ff"/><rect x="138.42" y="239.34" width="8.74" height="8.76" fill="#0054ff"/><rect x="146.86" y="239.34" width="8.74" height="8.76" fill="#0080ff"/><rect x="155.30" y="239.34" width="8.74" height="8.76" fill="#00bcff"/><rect x="163.74" y="239.34" width="8.74" height="8.76" fill="#00e4f8"/><rect x="172.18" y="239.34" width="8.74" height="8.76" fill="#29ffce"/><rect x="180.62" y="239.34" width="25.62" height="8.76" fill="#53ffa4"/><rect x="205.94" y="239.34" width="8.74" height="8.76" fill="#4dffaa"/><rect x="214.38" y="239.34" width="8.74" height="8.76" fill="#63ff94"/><rect x="222.82" y="239.34" width="8.74" height="8.76" fill="#7dff7a"/><rect x="231.26" y="239.34" width="8.74" height="8.76" fill="#aaff4d"/><rect x="239.70" y="239.34" width="8.74" height="8.76" fill="#e4ff13"/><rect x="248.14" y="239.34" width="8.74" height="8.76" fill="#ffd700"/><rect x="256.58" y="239.34" width="8.74" height="8.76" fill="#ff9400"/><rect x="265.02" y="239.34" width="8.74" height="8.76" fill="#ff5d00"/><rect x="273.46" y="239.34" width="8.74" height="8.76" fill="#ff3800"/><rect x="281.90" y="239.34" width="8.74" height="8.76" fill="#ff3f00"/><rect x="290.34" y="239.34" width="8.74" height="8.76" fill="#ff5900"/><rect x="298.78" y="239.34" width="8.74" height="8.76" fill="#ff8d00"/><rect x="307.22" y="239.34" width="8.74" height="8.76" fill="#ebff0c"/><rect x="315.66" y="239.34" width="8.74" height="8.76" fill="#6aff8d"/><rect x="324.10" y="239.34" width="8.74" height="8.76" fill="#00c4ff"/><rect x="332.54" y="239.34" width="8.74" height="8.76" fill="#0078ff"/><rect x="340.98" y="239.34" width="8.74" height="8.76" fill="#0070ff"/><rect x="349.42" y="239.34" width="8.74" height="8.76" fill="#00d4ff"/><rect x="357.86" y="239.34" width="8.74" height="8.76" fill="#43ffb4"/><rect x="366.30" y="239.34" width="8.74" height="8.76" fill="#3cffba"/><rect x="374.74" y="239.34" width="8.74" height="8.76" fill="#19ffde"/><rect x="383.18" y="239.34" width="8.74" height="8.76" fill="#00b0ff"/><rect x="391.62" y="239.34" width="8.74" height="8.76" fill="#0060ff"/><rect x="400.06" y="239.34" width="8.74" height="8.76" fill="#0028ff"/><rect x="408.50" y="239.34" width="8.74" height="8.76" fill="#000cff"/><rect x="416.94" y="239.34" width="8.74" height="8.76" fill="#0000ff"/><rect x="425.38" y="239.34" width="8.74" height="8.76" fill="#0000ed"/><rect x="433.82" y="239.34" width="8.74" height="8.76" fill="#0000da"/><rect x="442.26" y="239.34" width="8.74" height="8.76" fill="#0000c8"/><rect x="450.70" y="239.34" width="8.74" height="8.76" fill="#0000c4"/><rect x="459.14" y="239.34" width="8.74" height="8.76" fill="#0000b6"/><rect x="467.58" y="239.34" width="8.74" height="8.76" fill="#0000b2"/><rect x="476.02" y="239.34" width="8.74" height="8.76" fill="#0000ad"/><rect x="484.46" y="239.34" width="8.74" height="8.76" fill="#00009f"/><rect x="492.90" y="239.34" width="8.74" height="8.76" fill="#000096"/><rect x="501.34" y="239.34" width="84.70" height="8.76" fill="#00008d"/><rect x="585.74" y="239.34" width="84.70" height="8.76" fill="#000089"/><rect x="670.14" y="239.34" width="8.74" height="8.76" fill="#00008d"/><rect x="678.58" y="239.34" width="8.74" height="8.76" fill="#00009f"/><rect x="687.02" y="239.34" width="8.74" height="8.76" fill="#0000bf"/><rect x="695.46" y="239.34" width="8.74" height="8.76" fill="#0000f1"/><rect x="703.90" y="239.34" width="10.40" height="8.76" fill="#0018ff"/>
<rect x="104.66" y="247.80" width="8.74" height="8.76" fill="#0030ff"/><rect x="113.10" y="247.80" width="8.74" height="8.76" fill="#0040ff"/><rect x="121.54" y="247.80" width="17.18" height="8.76" fill="#0054ff"/><rect x="138.42" y="247.80" width="17.18" height="8.76" fill="#0060ff"/><rect x="155.30" y="247.80" width="8.74" height="8.76" fill="#0074ff"/><rect x="163.74" y="247.80" width="8.74" height="8.76" fill="#0094ff"/><rect x="172.18" y="247.80" width="8.74" height="8.76" fill="#00bcff"/><rect x="180.62" y="247.80" width="8.74" height="8.76" fill="#00d4ff"/><rect x="189.06" y="247.80" width="8.74" height="8.76" fill="#00e4f8"/><rect x="197.50" y="247.80" width="8.74" height="8.76" fill="#02e8f4"/><rect x="205.94" y="247.80" width="8.74" height="8.76" fill="#1fffd7"/><rect x="214.38" y="247.80" width="8.74" height="8.76" fill="#29ffce"/><rect x="222.82" y="247.80" width="8.74" height="8.76" fill="#30ffc7"/><rect x="231.26" y="247.80" width="8.74" height="8.76" fill="#43ffb4"/><rect x="239.70" y="247.80" width="8.74" height="8.76" fill="#56ffa0"/><rect x="248.14" y="247.80" width="8.74" height="8.76" fill="#77ff80"/><rect x="256.58" y="247.80" width="8.74" height="8.76" fill="#a0ff56"/><rect x="265.02" y="247.80" width="8.74" height="8.76" fill="#caff2c"/><rect x="273.46" y="247.80" width="8.74" height="8.76" fill="#d1ff26"/><rect x="281.90" y="247.80" width="8.74" height="8.76" fill="#ceff29"/><rect x="290.34" y="247.80" width="8.74" height="8.76" fill="#77ff80"/><rect x="298.78" y="247.80" width="8.74" height="8.76" fill="#30ffc7"/><rect x="307.22" y="247.80" width="8.74" height="8.76" fill="#00bcff"/><rect x="315.66" y="247.80" width="8.74" height="8.76" fill="#0070ff"/><rect x="324.10" y="247.80" width="8.74" height="8.76" fill="#0054ff"/><rect x="332.54" y="247.80" width="8.74" height="8.76" fill="#0074ff"/><rect x="340.98" y="247.80" width="8.74" height="8.76" fill="#00d4ff"/><rect x="349.42" y="247.80" width="8.74" height="8.76" fill="#29ffce"/><rect x="357.86" y="247.80" width="8.74" height="8.76" fill="#1fffd7"/><rect x="366.30" y="247.80" width="8.74" height="8.76" fill="#00bcff"/><rect x="374.74" y="247.80" width="8.74" height="8.76" fill="#0054ff"/><rect x="383.18" y="247.80" width="8.74" height="8.76" fill="#0018ff"/><rect x="391.62" y="247.80" width="8.74" height="8.76" fill="#0000ff"/><rect x="400.06" y="247.80" width="8.74" height="8.76" fill="#0000f1"/><rect x="408.50" y="247.80" width="8.74" height="8.76" fill="#0000ed"/><rect x="416.94" y="247.80" width="8.74" height="8.76" fill="#0000e8"/><rect x="425.38" y="247.80" width="8.74" height="8.76" fill="#0000d6"/><rect x="433.82" y="247.80" width="42.50" height="8.76" fill="#0000b6"/><rect x="476.02" y="247.80" width="8.74" height="8.76" fill="#0000ad"/><rect x="484.46" y="247.80" width="93.14" height="8.76" fill="#000096"/><rect x="577.30" y="247.80" width="34.06" height="8.76" fill="#0000a4"/><rect x="611.06" y="247.80" width="67.82" height="8.76" fill="#000096"/><rect x="678.58" y="247.80" width="8.74" height="8.76" fill="#00009f"/><rect x="687.02" y="247.80" width="8.74" height="8.76" fill="#0000c4"/><rect x="695.46" y="247.80" width="8.74" height="8.76" fill="#0000ff"/><rect x="703.90" y="247.80" width="10.40" height="8.76" fill="#0030ff"/>
<rect x="104.66" y="256.25" width="8.74" height="8.76" fill="#0028ff"/><rect x="113.10" y="256.25" width="8.74" height="8.76" fill="#0040ff"/><rect x="121.54" y="256.25" width="8.74" height="8.76" fill="#0060ff"/><rect x="129.98" y="256.25" width="25.62" height="8.76" fill="#0074ff"/><rect x="155.30" y="256.25" width="8.74" height="8.76" fill="#0094ff"/><rect x="163.74" y="256.25" width="8.74" height="8.76" fill="#00b0ff"/><rect x="172.18" y="256.25" width="25.62" height="8.76" fill="#00d0ff"/><rect x="197.50" y="256.25" width="8.74" height="8.76" fill="#00d4ff"/><rect x="205.94" y="256.25" width="8.74" height="8.76" fill="#00e0fb"/><rect x="214.38" y="256.25" width="8.74" height="8.76" fill="#02e8f4"/><rect x="222.82" y="256.25" width="8.74" height="8.76" fill="#0ff8e7"/><rect x="231.26" y="256.25" width="8.74" height="8.76" fill="#16ffe1"/><rect x="239.70" y="256.25" width="34.06" height="8.76" fill="#19ffde"/><rect x="273.46" y="256.25" width="8.74" height="8.76" fill="#0ff8e7"/><rect x="281.90" y="256.25" width="17.18" height="8.76" fill="#00bcff"/><rect x="298.78" y="256.25" width="8.74" height="8.76" fill="#0088ff"/><rect x="307.22" y="256.25" width="8.74" height="8.76" fill="#0070ff"/><rect x="315.66" y="256.25" width="8.74" height="8.76" fill="#0088ff"/><rect x="324.10" y="256.25" width="8.74" height="8.76" fill="#00c4ff"/><rect x="332.54" y="256.25" width="8.74" height="8.76" fill="#19ffde"/><rect x="340.98" y="256.25" width="8.74" height="8.76" fill="#1fffd7"/><rect x="349.42" y="256.25" width="8.74" height="8.76" fill="#00d4ff"/><rect x="357.86" y="256.25" width="8.74" height="8.76" fill="#0068ff"/><rect x="366.30" y="256.25" width="8.74" height="8.76" fill="#0014ff"/><rect x="374.74" y="256.25" width="8.74" height="8.76" fill="#0000ff"/><rect x="383.18" y="256.25" width="8.74" height="8.76" fill="#0000f6"/><rect x="391.62" y="256.25" width="8.74" height="8.76" fill="#0000e8"/><rect x="400.06" y="256.25" width="8.74" height="8.76" fill="#0000df"/><rect x="408.50" y="256.25" width="17.18" height="8.76" fill="#0000da"/><rect x="425.38" y="256.25" width="8.74" height="8.76" fill="#0000d6"/><rect x="433.82" y="256.25" width="50.94" height="8.76" fill="#0000bf"/><rect x="484.46" y="256.25" width="50.94" height="8.76" fill="#0000ad"/><rect x="535.10" y="256.25" width="50.94" height="8.76" fill="#0000b2"/><rect x="585.74" y="256.25" width="17.18" height="8.76" fill="#0000b6"/><rect x="602.62" y="256.25" width="34.06" height="8.76" fill="#0000b2"/><rect x="636.38" y="256.25" width="34.06" height="8.76" fill="#00009f"/><rect x="670.14" y="256.25" width="8.74" height="8.76" fill="#00009b"/><rect x="678.58" y="256.25" width="8.74" height="8.76" fill="#00009f"/><rect x="687.02" y="256.25" width="8.74" height="8.76" fill="#0000b6"/><rect x="695.46" y="256.25" width="8.74" height="8.76" fill="#0000ed"/><rect x="703.90" y="256.25" width="10.40" height="8.76" fill="#0014ff"/>
<rect x="104.66" y="264.71" width="8.74" height="8.76" fill="#0000ff"/><rect x="113.10" y="264.71" width="8.74" height="8.76" fill="#0014ff"/><rect x="121.54" y="264.71" width="8.74" height="8.76" fill="#0028ff"/><rect x="129.98" y="264.71" width="8.74" height="8.76" fill="#0038ff"/><rect x="138.42" y="264.71" width="8.74" height="8.76" fill="#004cff"/><rect x="146.86" y="264.71" width="8.74" height="8.76" fill="#0060ff"/><rect x="155.30" y="264.71" width="8.74" height="8.76" fill="#0080ff"/><rect x="163.74" y="264.71" width="8.74" height="8.76" fill="#00a8ff"/><rect x="172.18" y="264.71" width="8.74" height="8.76" fill="#00d0ff"/><rect x="180.62" y="264.71" width="8.74" height="8.76" fill="#09f0ee"/><rect x="189.06" y="264.71" width="8.74" height="8.76" fill="#1fffd7"/><rect x="197.50" y="264.71" width="8.74" height="8.76" fill="#30ffc7"/><rect x="205.94" y="264.71" width="8.74" height="8.76" fill="#1fffd7"/><rect x="214.38" y="264.71" width="8.74" height="8.76" fill="#29ffce"/><rect x="222.82" y="264.71" width="8.74" height="8.76" fill="#30ffc7"/><rect x="231.26" y="264.71" width="25.62" height="8.76" fill="#39ffbe"/><rect x="256.58" y="264.71" width="8.74" height="8.76" fill="#30ffc7"/><rect x="265.02" y="264.71" width="8.74" height="8.76" fill="#29ffce"/><rect x="273.46" y="264.71" width="8.74" height="8.76" fill="#1fffd7"/><rect x="281.90" y="264.71" width="8.74" height="8.76" fill="#0ff8e7"/><rect x="290.34" y="264.71" width="8.74" height="8.76" fill="#00c4ff"/><rect x="298.78" y="264.71" width="8.74" height="8.76" fill="#00b0ff"/><rect x="307.22" y="264.71" width="8.74" height="8.76" fill="#00c4ff"/><rect x="315.66" y="264.71" width="8.74" height="8.76" fill="#0ff8e7"/><rect x="324.10" y="264.71" width="8.74" height="8.76" fill="#29ffce"/><rect x="332.54" y="264.71" width="8.74" height="8.76" fill="#1cffdb"/><rect x="340.98" y="264.71" width="8.74" height="8.76" fill="#00c4ff"/><rect x="349.42" y="264.71" width="8.74" height="8.76" fill="#0054ff"/><rect x="357.86" y="264.71" width="8.74" height="8.76" fill="#0014ff"/><rect x="366.30" y="264.71" width="8.74" height="8.76" fill="#0000ff"/><rect x="374.74" y="264.71" width="8.74" height="8.76" fill="#0000f1"/><rect x="383.18" y="264.71" width="8.74" height="8.76" fill="#0000e8"/><rect x="391.62" y="264.71" width="8.74" height="8.76" fill="#0000df"/><rect x="400.06" y="264.71" width="17.18" height="8.76" fill="#0000da"/><rect x="416.94" y="264.71" width="8.74" height="8.76" fill="#0000d6"/><rect x="425.38" y="264.71" width="110.02" height="8.76" fill="#0000c8"/><rect x="535.10" y="264.71" width="42.50" height="8.76" fill="#0000d6"/><rect x="577.30" y="264.71" width="8.74" height="8.76" fill="#0000c8"/><rect x="585.74" y="264.71" width="17.18" height="8.76" fill="#0000da"/><rect x="602.62" y="264.71" width="34.06" height="8.76" fill="#0000cd"/><rect x="636.38" y="264.71" width="8.74" height="8.76" fill="#0000c4"/><rect x="644.82" y="264.71" width="25.62" height="8.76" fill="#0000ad"/><rect x="670.14" y="264.71" width="17.18" height="8.76" fill="#00009f"/><rect x="687.02" y="264.71" width="8.74" height="8.76" fill="#0000b2"/><rect x="695.46" y="264.71" width="8.74" height="8.76" fill="#0000da"/><rect x="703.90" y="264.71" width="10.40" height="8.76" fill="#0000ff"/>
<rect x="104.66" y="273.16" width="8.74" height="8.76" fill="#0000f1"/><rect x="113.10" y="273.16" width="8.74" height="8.76" fill="#0000ff"/><rect x="121.54" y="273.16" width="8.74" height="8.76" fill="#0008ff"/><rect x="129.98" y="273.16" width="8.74" height="8.76" fill="#001cff"/><rect x="138.42" y="273.16" width="8.74" height="8.76" fill="#0030ff"/><rect x="146.86" y="273.16" width="8.74" height="8.76" fill="#0040ff"/><rect x="155.30" y="273.16" width="8.74" height="8.76" fill="#0054ff"/><rect x="163.74" y="273.16" width="8.74" height="8.76" fill="#0068ff"/><rect x="172.18" y="273.16" width="8.74" height="8.76" fill="#0088ff"/><rect x="180.62" y="273.16" width="8.74" height="8.76" fill="#00a8ff"/><rect x="189.06" y="273.16" width="8.74" height="8.76" fill="#00c4ff"/><rect x="197.50" y="273.16" width="8.74" height="8.76" fill="#00e0fb"/><rect x="205.94" y="273.16" width="8.74" height="8.76" fill="#19ffde"/><rect x="214.38" y="273.16" width="8.74" height="8.76" fill="#30ffc7"/><rect x="222.82" y="273.16" width="8.74" height="8.76" fill="#4dffaa"/><rect x="231.26" y="273.16" width="8.74" height="8.76" fill="#63ff94"/><rect x="239.70" y="273.16" width="8.74" height="8.76" fill="#77ff80"/><rect x="248.14" y="273.16" width="25.62" height="8.76" fill="#7dff7a"/><rect x="273.46" y="273.16" width="8.74" height="8.76" fill="#77ff80"/><rect x="281.90" y="273.16" width="8.74" height="8.76" fill="#6aff8d"/><rect x="290.34" y="273.16" width="8.74" height="8.76" fill="#63ff94"/><rect x="298.78" y="273.16" width="8.74" height="8.76" fill="#56ffa0"/><rect x="307.22" y="273.16" width="8.74" height="8.76" fill="#43ffb4"/><rect x="315.66" y="273.16" width="8.74" height="8.76" fill="#39ffbe"/><rect x="324.10" y="273.16" width="8.74" height="8.76" fill="#30ffc7"/><rect x="332.54" y="273.16" width="8.74" height="8.76" fill="#00acff"/><rect x="340.98" y="273.16" width="8.74" height="8.76" fill="#0040ff"/><rect x="349.42" y="273.16" width="8.74" height="8.76" fill="#0014ff"/><rect x="357.86" y="273.16" width="8.74" height="8.76" fill="#0000ff"/><rect x="366.30" y="273.16" width="8.74" height="8.76" fill="#0000f6"/><rect x="374.74" y="273.16" width="8.74" height="8.76" fill="#0000e8"/><rect x="383.18" y="273.16" width="34.06" height="8.76" fill="#0000da"/><rect x="416.94" y="273.16" width="8.74" height="8.76" fill="#0000d6"/><rect x="425.38" y="273.16" width="59.38" height="8.76" fill="#0000cd"/><rect x="484.46" y="273.16" width="50.94" height="8.76" fill="#0000d6"/><rect x="535.10" y="273.16" width="59.38" height="8.76" fill="#0000e8"/><rect x="594.18" y="273.16" width="25.62" height="8.76" fill="#0000f1"/><rect x="619.50" y="273.16" width="17.18" height="8.76" fill="#0000e8"/><rect x="636.38" y="273.16" width="8.74" height="8.76" fill="#0000da"/><rect x="644.82" y="273.16" width="8.74" height="8.76" fill="#0000cd"/><rect x="653.26" y="273.16" width="8.74" height="8.76" fill="#0000c4"/><rect x="661.70" y="273.16" width="8.74" height="8.76" fill="#0000b6"/><rect x="670.14" y="273.16" width="8.74" height="8.76" fill="#0000ad"/><rect x="678.58" y="273.16" width="8.74" height="8.76" fill="#0000a4"/><rect x="687.02" y="273.16" width="8.74" height="8.76" fill="#0000ad"/><rect x="695.46" y="273.16" width="8.74" height="8.76" fill="#0000c4"/><rect x="703.90" y="273.16" width="10.40" height="8.76" fill="#0000ed"/>
<rect x="104.66" y="281.62" width="8.74" height="8.76" fill="#0000e8"/><rect x="113.10" y="281.62" width="8.74" height="8.76" fill="#0000f6"/><rect x="121.54" y="281.62" width="8.74" height="8.76" fill="#0000ff"/><rect x="129.98" y="281.62" width="8.74" height="8.76" fill="#0008ff"/><rect x="138.42" y="281.62" width="8.74" height="8.76" fill="#0018ff"/><rect x="146.86" y="281.62" width="8.74" height="8.76" fill="#002cff"/><rect x="155.30" y="281.62" width="8.74" height="8.76" fill="#0038ff"/><rect x="163.74" y="281.62" width="8.74" height="8.76" fill="#004cff"/><rect x="172.18" y="281.62" width="8.74" height="8.76" fill="#0054ff"/><rect x="180.62" y="281.62" width="8.74" height="8.76" fill="#0068ff"/><rect x="189.06" y="281.62" width="8.74" height="8.76" fill="#0080ff"/><rect x="197.50" y="281.62" width="8.74" height="8.76" fill="#0094ff"/><rect x="205.94" y="281.62" width="8.74" height="8.76" fill="#00a8ff"/><rect x="214.38" y="281.62" width="8.74" height="8.76" fill="#00c4ff"/><rect x="222.82" y="281.62" width="8.74" height="8.76" fill="#02e8f4"/><rect x="231.26" y="281.62" width="8.74" height="8.76" fill="#19ffde"/><rect x="239.70" y="281.62" width="8.74" height="8.76" fill="#30ffc7"/><rect x="248.14" y="281.62" width="8.74" height="8.76" fill="#43ffb4"/><rect x="256.58" y="281.62" width="8.74" height="8.76" fill="#56ffa0"/><rect x="265.02" y="281.62" width="8.74" height="8.76" fill="#6aff8d"/><rect x="273.46" y="281.62" width="17.18" height="8.76" fill="#77ff80"/><rect x="290.34" y="281.62" width="8.74" height="8.76" fill="#63ff94"/><rect x="298.78" y="281.62" width="8.74" height="8.76" fill="#5aff9d"/><rect x="307.22" y="281.62" width="8.74" height="8.76" fill="#29ffce"/><rect x="315.66" y="281.62" width="8.74" height="8.76" fill="#00dcfe"/><rect x="324.10" y="281.62" width="8.74" height="8.76" fill="#00a0ff"/><rect x="332.54" y="281.62" width="8.74" height="8.76" fill="#0040ff"/><rect x="340.98" y="281.62" width="8.74" height="8.76" fill="#0014ff"/><rect x="349.42" y="281.62" width="17.18" height="8.76" fill="#0000ff"/><rect x="366.30" y="281.62" width="8.74" height="8.76" fill="#0000f6"/><rect x="374.74" y="281.62" width="42.50" height="8.76" fill="#0000e8"/><rect x="416.94" y="281.62" width="8.74" height="8.76" fill="#0000da"/><rect x="425.38" y="281.62" width="59.38" height="8.76" fill="#0000d1"/><rect x="484.46" y="281.62" width="50.94" height="8.76" fill="#0000d6"/><rect x="535.10" y="281.62" width="42.50" height="8.76" fill="#0000e3"/><rect x="577.30" y="281.62" width="8.74" height="8.76" fill="#0000e8"/><rect x="585.74" y="281.62" width="34.06" height="8.76" fill="#0000ed"/><rect x="619.50" y="281.62" width="25.62" height="8.76" fill="#0000e8"/><rect x="644.82" y="281.62" width="8.74" height="8.76" fill="#0000df"/><rect x="653.26" y="281.62" width="8.74" height="8.76" fill="#0000d6"/><rect x="661.70" y="281.62" width="8.74" height="8.76" fill="#0000c8"/><rect x="670.14" y="281.62" width="8.74" height="8.76" fill="#0000bf"/><rect x="678.58" y="281.62" width="8.74" height="8.76" fill="#0000b2"/><rect x="687.02" y="281.62" width="8.74" height="8.76" fill="#0000ad"/><rect x="695.46" y="281.62" width="8.74" height="8.76" fill="#0000b6"/><rect x="703.90" y="281.62" width="10.40" height="8.76" fill="#0000d6"/>
<rect x="104.66" y="290.08" width="8.74" height="8.76" fill="#0000df"/><rect x="113.10" y="290.08" width="8.74" height="8.76" fill="#0000ed"/><rect x="121.54" y="290.08" width="8.74" height="8.76" fill="#0000f6"/><rect x="129.98" y="290.08" width="8.74" height="8.76" fill="#0000ff"/><rect x="138.42" y="290.08" width="8.74" height="8.76" fill="#0004ff"/><rect x="146.86" y="290.08" width="8.74" height="8.76" fill="#0014ff"/><rect x="155.30" y="290.08" width="8.74" height="8.76" fill="#0020ff"/><rect x="163.74" y="290.08" width="8.74" height="8.76" fill="#0030ff"/><rect x="172.18" y="290.08" width="8.74" height="8.76" fill="#003cff"/><rect x="180.62" y="290.08" width="8.74" height="8.76" fill="#004cff"/><rect x="189.06" y="290.08" width="8.74" height="8.76" fill="#0054ff"/><rect x="197.50" y="290.08" width="8.74" height="8.76" fill="#0060ff"/><rect x="205.94" y="290.08" width="8.74" height="8.76" fill="#0080ff"/><rect x="214.38" y="290.08" width="8.74" height="8.76" fill="#008cff"/><rect x="222.82" y="290.08" width="8.74" height="8.76" fill="#00a0ff"/><rect x="231.26" y="290.08" width="8.74" height="8.76" fill="#00bcff"/><rect x="239.70" y="290.08" width="8.74" height="8.76" fill="#00d0ff"/><rect x="248.14" y="290.08" width="8.74" height="8.76" fill="#00e0fb"/><rect x="256.58" y="290.08" width="8.74" height="8.76" fill="#09f0ee"/><rect x="265.02" y="290.08" width="8.74" height="8.76" fill="#0ff8e7"/><rect x="273.46" y="290.08" width="17.18" height="8.76" fill="#19ffde"/><rect x="290.34" y="290.08" width="8.74" height="8.76" fill="#0ff8e7"/><rect x="298.78" y="290.08" width="8.74" height="8.76" fill="#00d0ff"/><rect x="307.22" y="290.08" width="8.74" height="8.76" fill="#00bcff"/><rect x="315.66" y="290.08" width="8.74" height="8.76" fill="#0088ff"/><rect x="324.10" y="290.08" width="8.74" height="8.76" fill="#0060ff"/><rect x="332.54" y="290.08" width="8.74" height="8.76" fill="#001cff"/><rect x="340.98" y="290.08" width="8.74" height="8.76" fill="#0004ff"/><rect x="349.42" y="290.08" width="17.18" height="8.76" fill="#0000ff"/><rect x="366.30" y="290.08" width="8.74" height="8.76" fill="#0000f6"/><rect x="374.74" y="290.08" width="42.50" height="8.76" fill="#0000e8"/><rect x="416.94" y="290.08" width="8.74" height="8.76" fill="#0000df"/><rect x="425.38" y="290.08" width="110.02" height="8.76" fill="#0000cd"/><rect x="535.10" y="290.08" width="42.50" height="8.76" fill="#0000d6"/><rect x="577.30" y="290.08" width="8.74" height="8.76" fill="#0000da"/><rect x="585.74" y="290.08" width="34.06" height="8.76" fill="#0000df"/><rect x="619.50" y="290.08" width="25.62" height="8.76" fill="#0000da"/><rect x="644.82" y="290.08" width="8.74" height="8.76" fill="#0000df"/><rect x="653.26" y="290.08" width="8.74" height="8.76" fill="#0000da"/><rect x="661.70" y="290.08" width="8.74" height="8.76" fill="#0000cd"/><rect x="670.14" y="290.08" width="8.74" height="8.76" fill="#0000c4"/><rect x="678.58" y="290.08" width="8.74" height="8.76" fill="#0000b6"/><rect x="687.02" y="290.08" width="8.74" height="8.76" fill="#0000b2"/><rect x="695.46" y="290.08" width="8.74" height="8.76" fill="#0000b6"/><rect x="703.90" y="290.08" width="10.40" height="8.76" fill="#0000c4"/>
<rect x="104.66" y="298.53" width="8.74" height="8.76" fill="#0000d6"/><rect x="113.10" y="298.53" width="8.74" height="8.76" fill="#0000df"/><rect x="121.54" y="298.53" width="8.74" height="8.76" fill="#0000ed"/><rect x="129.98" y="298.53" width="8.74" height="8.76" fill="#0000f6"/><rect x="138.42" y="298.53" width="8.74" height="8.76" fill="#0000ff"/><rect x="146.86" y="298.53" width="8.74" height="8.76" fill="#000cff"/><rect x="155.30" y="298.53" width="8.74" height="8.76" fill="#001cff"/><rect x="163.74" y="298.53" width="8.74" height="8.76" fill="#002cff"/><rect x="172.18" y="298.53" width="8.74" height="8.76" fill="#0040ff"/><rect x="180.62" y="298.53" width="8.74" height="8.76" fill="#0050ff"/><rect x="189.06" y="298.53" width="8.74" height="8.76" fill="#0060ff"/><rect x="197.50" y="298.53" width="8.74" height="8.76" fill="#0068ff"/><rect x="205.94" y="298.53" width="8.74" height="8.76" fill="#0074ff"/><rect x="214.38" y="298.53" width="8.74" height="8.76" fill="#0078ff"/><rect x="222.82" y="298.53" width="8.74" height="8.76" fill="#0080ff"/><rect x="231.26" y="298.53" width="8.74" height="8.76" fill="#0084ff"/><rect x="239.70" y="298.53" width="8.74" height="8.76" fill="#0088ff"/><rect x="248.14" y="298.53" width="8.74" height="8.76" fill="#0094ff"/><rect x="256.58" y="298.53" width="8.74" height="8.76" fill="#0098ff"/><rect x="265.02" y="298.53" width="8.74" height="8.76" fill="#009cff"/><rect x="273.46" y="298.53" width="17.18" height="8.76" fill="#00a0ff"/><rect x="290.34" y="298.53" width="8.74" height="8.76" fill="#0094ff"/><rect x="298.78" y="298.53" width="8.74" height="8.76" fill="#0078ff"/><rect x="307.22" y="298.53" width="8.74" height="8.76" fill="#0060ff"/><rect x="315.66" y="298.53" width="8.74" height="8.76" fill="#0040ff"/><rect x="324.10" y="298.53" width="8.74" height="8.76" fill="#001cff"/><rect x="332.54" y="298.53" width="8.74" height="8.76" fill="#0008ff"/><rect x="340.98" y="298.53" width="25.62" height="8.76" fill="#0000ff"/><rect x="366.30" y="298.53" width="8.74" height="8.76" fill="#0000f6"/><rect x="374.74" y="298.53" width="42.50" height="8.76" fill="#0000e8"/><rect x="416.94" y="298.53" width="8.74" height="8.76" fill="#0000e3"/><rect x="425.38" y="298.53" width="59.38" height="8.76" fill="#0000cd"/><rect x="484.46" y="298.53" width="8.74" height="8.76" fill="#0000c4"/><rect x="492.90" y="298.53" width="34.06" height="8.76" fill="#0000bf"/><rect x="526.66" y="298.53" width="8.74" height="8.76" fill="#0000c4"/><rect x="535.10" y="298.53" width="42.50" height="8.76" fill="#0000c8"/><rect x="577.30" y="298.53" width="76.26" height="8.76" fill="#0000cd"/><rect x="653.26" y="298.53" width="17.18" height="8.76" fill="#0000d6"/><rect x="670.14" y="298.53" width="8.74" height="8.76" fill="#0000c8"/><rect x="678.58" y="298.53" width="8.74" height="8.76" fill="#0000bf"/><rect x="687.02" y="298.53" width="27.28" height="8.76" fill="#0000b6"/>
<rect x="104.66" y="306.99" width="8.74" height="8.76" fill="#0000d6"/><rect x="113.10" y="306.99" width="8.74" height="8.76" fill="#0000da"/><rect x="121.54" y="306.99" width="8.74" height="8.76" fill="#0000e8"/><rect x="129.98" y="306.99" width="8.74" height="8.76" fill="#0000f1"/><rect x="138.42" y="306.99" width="8.74" height="8.76" fill="#0000ff"/><rect x="146.86" y="306.99" width="8.74" height="8.76" fill="#0008ff"/><rect x="155.30" y="306.99" width="8.74" height="8.76" fill="#0020ff"/><rect x="163.74" y="306.99" width="8.74" height="8.76" fill="#0038ff"/><rect x="172.18" y="306.99" width="8.74" height="8.76" fill="#0050ff"/><rect x="180.62" y="306.99" width="8.74" height="8.76" fill="#0064ff"/><rect x="189.06" y="306.99" width="8.74" height="8.76" fill="#0078ff"/><rect x="197.50" y="306.99" width="8.74" height="8.76" fill="#0088ff"/><rect x="205.94" y="306.99" width="8.74" height="8.76" fill="#0094ff"/><rect x="214.38" y="306.99" width="8.74" height="8.76" fill="#0098ff"/><rect x="222.82" y="306.99" width="8.74" height="8.76" fill="#009cff"/><rect x="231.26" y="306.99" width="8.74" height="8.76" fill="#0098ff"/><rect x="239.70" y="306.99" width="8.74" height="8.76" fill="#0094ff"/><rect x="248.14" y="306.99" width="8.74" height="8.76" fill="#0088ff"/><rect x="256.58" y="306.99" width="8.74" height="8.76" fill="#0080ff"/><rect x="265.02" y="306.99" width="8.74" height="8.76" fill="#0078ff"/><rect x="273.46" y="306.99" width="8.74" height="8.76" fill="#0074ff"/><rect x="281.90" y="306.99" width="8.74" height="8.76" fill="#0068ff"/><rect x="290.34" y="306.99" width="8.74" height="8.76" fill="#0070ff"/><rect x="298.78" y="306.99" width="8.74" height="8.76" fill="#004cff"/><rect x="307.22" y="306.99" width="8.74" height="8.76" fill="#0030ff"/><rect x="315.66" y="306.99" width="8.74" height="8.76" fill="#001cff"/><rect x="324.10" y="306.99" width="8.74" height="8.76" fill="#000cff"/><rect x="332.54" y="306.99" width="8.74" height="8.76" fill="#0004ff"/><rect x="340.98" y="306.99" width="25.62" height="8.76" fill="#0000ff"/><rect x="366.30" y="306.99" width="8.74" height="8.76" fill="#0000f1"/><rect x="374.74" y="306.99" width="42.50" height="8.76" fill="#0000e8"/><rect x="416.94" y="306.99" width="8.74" height="8.76" fill="#0000df"/><rect x="425.38" y="306.99" width="50.94" height="8.76" fill="#0000cd"/><rect x="476.02" y="306.99" width="8.74" height="8.76" fill="#0000c8"/><rect x="484.46" y="306.99" width="17.18" height="8.76" fill="#0000bf"/><rect x="501.34" y="306.99" width="8.74" height="8.76" fill="#0000bb"/><rect x="509.78" y="306.99" width="8.74" height="8.76" fill="#0000b6"/><rect x="518.22" y="306.99" width="8.74" height="8.76" fill="#0000bb"/><rect x="526.66" y="306.99" width="8.74" height="8.76" fill="#0000bf"/><rect x="535.10" y="306.99" width="42.50" height="8.76" fill="#0000c4"/><rect x="577.30" y="306.99" width="76.26" height="8.76" fill="#0000da"/><rect x="653.26" y="306.99" width="25.62" height="8.76" fill="#0000cd"/><rect x="678.58" y="306.99" width="35.72" height="8.76" fill="#0000c4"/>
<rect x="104.66" y="315.44" width="8.74" height="8.76" fill="#0000c4"/><rect x="113.10" y="315.44" width="8.74" height="8.76" fill="#0000cd"/><rect x="121.54" y="315.44" width="8.74" height="8.76" fill="#0000da"/><rect x="129.98" y="315.44" width="8.74" height="8.76" fill="#0000e8"/><rect x="138.42" y="315.44" width="8.74" height="8.76" fill="#0000ff"/><rect x="146.86" y="315.44" width="8.74" height="8.76" fill="#0004ff"/><rect x="155.30" y="315.44" width="8.74" height="8.76" fill="#0018ff"/><rect x="163.74" y="315.44" width="8.74" height="8.76" fill="#0030ff"/><rect x="172.18" y="315.44" width="8.74" height="8.76" fill="#004cff"/><rect x="180.62" y="315.44" width="8.74" height="8.76" fill="#0064ff"/><rect x="189.06" y="315.44" width="8.74" height="8.76" fill="#0080ff"/><rect x="197.50" y="315.44" width="8.74" height="8.76" fill="#008cff"/><rect x="205.94" y="315.44" width="8.74" height="8.76" fill="#0098ff"/><rect x="214.38" y="315.44" width="8.74" height="8.76" fill="#009cff"/><rect x="222.82" y="315.44" width="8.74" height="8.76" fill="#00a0ff"/><rect x="231.26" y="315.44" width="8.74" height="8.76" fill="#009cff"/><rect x="239.70" y="315.44" width="8.74" height="8.76" fill="#0094ff"/><rect x="248.14" y="315.44" width="8.74" height="8.76" fill="#0088ff"/><rect x="256.58" y="315.44" width="8.74" height="8.76" fill="#0078ff"/><rect x="265.02" y="315.44" width="8.74" height="8.76" fill="#0070ff"/><rect x="273.46" y="315.44" width="8.74" height="8.76" fill="#0064ff"/><rect x="281.90" y="315.44" width="8.74" height="8.76" fill="#005cff"/><rect x="290.34" y="315.44" width="8.74" height="8.76" fill="#004cff"/><rect x="298.78" y="315.44" width="8.74" height="8.76" fill="#0038ff"/><rect x="307.22" y="315.44" width="8.74" height="8.76" fill="#0020ff"/><rect x="315.66" y="315.44" width="8.74" height="8.76" fill="#0014ff"/><rect x="324.10" y="315.44" width="8.74" height="8.76" fill="#0008ff"/><rect x="332.54" y="315.44" width="25.62" height="8.76" fill="#0000ff"/><rect x="357.86" y="315.44" width="8.74" height="8.76" fill="#0000f6"/><rect x="366.30" y="315.44" width="8.74" height="8.76" fill="#0000f1"/><rect x="374.74" y="315.44" width="42.50" height="8.76" fill="#0000e8"/><rect x="416.94" y="315.44" width="8.74" height="8.76" fill="#0000da"/><rect x="425.38" y="315.44" width="50.94" height="8.76" fill="#0000cd"/><rect x="476.02" y="315.44" width="8.74" height="8.76" fill="#0000c4"/><rect x="484.46" y="315.44" width="8.74" height="8.76" fill="#0000bf"/><rect x="492.90" y="315.44" width="8.74" height="8.76" fill="#0000bb"/><rect x="501.34" y="315.44" width="50.94" height="8.76" fill="#0000b6"/><rect x="551.98" y="315.44" width="17.18" height="8.76" fill="#0000bb"/><rect x="568.86" y="315.44" width="8.74" height="8.76" fill="#0000bf"/><rect x="577.30" y="315.44" width="76.26" height="8.76" fill="#0000c8"/><rect x="653.26" y="315.44" width="61.04" height="8.76" fill="#0000c4"/>
<rect x="104.66" y="323.90" width="8.74" height="8.76" fill="#0000b2"/><rect x="113.10" y="323.90" width="8.74" height="8.76" fill="#0000bf"/><rect x="121.54" y="323.90" width="8.74" height="8.76" fill="#0000c8"/><rect x="129.98" y="323.90" width="8.74" height="8.76" fill="#0000da"/><rect x="138.42" y="323.90" width="8.74" height="8.76" fill="#0000ed"/><rect x="146.86" y="323.90" width="8.74" height="8.76" fill="#0000ff"/><rect x="155.30" y="323.90" width="8.74" height="8.76" fill="#000cff"/><rect x="163.74" y="323.90" width="8.74" height="8.76" fill="#0020ff"/><rect x="172.18" y="323.90" width="8.74" height="8.76" fill="#003cff"/><rect x="180.62" y="323.90" width="8.74" height="8.76" fill="#0054ff"/><rect x="189.06" y="323.90" width="8.74" height="8.76" fill="#0068ff"/><rect x="197.50" y="323.90" width="8.74" height="8.76" fill="#0080ff"/><rect x="205.94" y="323.90" width="8.74" height="8.76" fill="#0088ff"/><rect x="214.38" y="323.90" width="17.18" height="8.76" fill="#0094ff"/><rect x="231.26" y="323.90" width="8.74" height="8.76" fill="#008cff"/><rect x="239.70" y="323.90" width="8.74" height="8.76" fill="#0084ff"/><rect x="248.14" y="323.90" width="8.74" height="8.76" fill="#0078ff"/><rect x="256.58" y="323.90" width="8.74" height="8.76" fill="#0070ff"/><rect x="265.02" y="323.90" width="8.74" height="8.76" fill="#0064ff"/><rect x="273.46" y="323.90" width="8.74" height="8.76" fill="#0054ff"/><rect x="281.90" y="323.90" width="8.74" height="8.76" fill="#004cff"/><rect x="290.34" y="323.90" width="8.74" height="8.76" fill="#003cff"/><rect x="298.78" y="323.90" width="8.74" height="8.76" fill="#0020ff"/><rect x="307.22" y="323.90" width="8.74" height="8.76" fill="#0014ff"/><rect x="315.66" y="323.90" width="8.74" height="8.76" fill="#0008ff"/><rect x="324.10" y="323.90" width="34.06" height="8.76" fill="#0000ff"/><rect x="357.86" y="323.90" width="8.74" height="8.76" fill="#0000f6"/><rect x="366.30" y="323.90" width="8.74" height="8.76" fill="#0000f1"/><rect x="374.74" y="323.90" width="34.06" height="8.76" fill="#0000e8"/><rect x="408.50" y="323.90" width="8.74" height="8.76" fill="#0000df"/><rect x="416.94" y="323.90" width="8.74" height="8.76" fill="#0000d6"/><rect x="425.38" y="323.90" width="50.94" height="8.76" fill="#0000c8"/><rect x="476.02" y="323.90" width="8.74" height="8.76" fill="#0000bf"/><rect x="484.46" y="323.90" width="8.74" height="8.76" fill="#0000bb"/><rect x="492.90" y="323.90" width="8.74" height="8.76" fill="#0000b6"/><rect x="501.34" y="323.90" width="17.18" height="8.76" fill="#0000b2"/><rect x="518.22" y="323.90" width="42.50" height="8.76" fill="#0000ad"/><rect x="560.42" y="323.90" width="17.18" height="8.76" fill="#0000b2"/><rect x="577.30" y="323.90" width="137.00" height="8.76" fill="#0000b6"/>
<rect x="104.66" y="332.36" width="8.74" height="8.76" fill="#0000b2"/><rect x="113.10" y="332.36" width="8.74" height="8.76" fill="#0000b6"/><rect x="121.54" y="332.36" width="8.74" height="8.76" fill="#0000c4"/><rect x="129.98" y="332.36" width="8.74" height="8.76" fill="#0000cd"/><rect x="138.42" y="332.36" width="8.74" height="8.76" fill="#0000df"/><rect x="146.86" y="332.36" width="8.74" height="8.76" fill="#0000f1"/><rect x="155.30" y="332.36" width="8.74" height="8.76" fill="#0000ff"/><rect x="163.74" y="332.36" width="8.74" height="8.76" fill="#0014ff"/><rect x="172.18" y="332.36" width="8.74" height="8.76" fill="#002cff"/><rect x="180.62" y="332.36" width="8.74" height="8.76" fill="#0040ff"/><rect x="189.06" y="332.36" width="8.74" height="8.76" fill="#0054ff"/><rect x="197.50" y="332.36" width="8.74" height="8.76" fill="#0064ff"/><rect x="205.94" y="332.36" width="8.74" height="8.76" fill="#0070ff"/><rect x="214.38" y="332.36" width="17.18" height="8.76" fill="#0074ff"/><rect x="231.26" y="332.36" width="8.74" height="8.76" fill="#0070ff"/><rect x="239.70" y="332.36" width="8.74" height="8.76" fill="#0068ff"/><rect x="248.14" y="332.36" width="8.74" height="8.76" fill="#0060ff"/><rect x="256.58" y="332.36" width="8.74" height="8.76" fill="#005cff"/><rect x="265.02" y="332.36" width="8.74" height="8.76" fill="#004cff"/><rect x="273.46" y="332.36" width="8.74" height="8.76" fill="#0040ff"/><rect x="281.90" y="332.36" width="8.74" height="8.76" fill="#0038ff"/><rect x="290.34" y="332.36" width="8.74" height="8.76" fill="#0028ff"/><rect x="298.78" y="332.36" width="8.74" height="8.76" fill="#001cff"/><rect x="307.22" y="332.36" width="8.74" height="8.76" fill="#0014ff"/><rect x="315.66" y="332.36" width="8.74" height="8.76" fill="#0008ff"/><rect x="324.10" y="332.36" width="34.06" height="8.76" fill="#0000ff"/><rect x="357.86" y="332.36" width="8.74" height="8.76" fill="#0000f1"/><rect x="366.30" y="332.36" width="8.74" height="8.76" fill="#0000ed"/><rect x="374.74" y="332.36" width="25.62" height="8.76" fill="#0000df"/><rect x="400.06" y="332.36" width="8.74" height="8.76" fill="#0000da"/><rect x="408.50" y="332.36" width="8.74" height="8.76" fill="#0000d6"/><rect x="416.94" y="332.36" width="59.38" height="8.76" fill="#0000c8"/><rect x="476.02" y="332.36" width="8.74" height="8.76" fill="#0000bf"/><rect x="484.46" y="332.36" width="8.74" height="8.76" fill="#0000b6"/><rect x="492.90" y="332.36" width="17.18" height="8.76" fill="#0000b2"/><rect x="509.78" y="332.36" width="8.74" height="8.76" fill="#0000ad"/><rect x="518.22" y="332.36" width="25.62" height="8.76" fill="#0000a8"/><rect x="543.54" y="332.36" width="8.74" height="8.76" fill="#0000a4"/><rect x="551.98" y="332.36" width="17.18" height="8.76" fill="#0000a8"/><rect x="568.86" y="332.36" width="8.74" height="8.76" fill="#0000ad"/><rect x="577.30" y="332.36" width="137.00" height="8.76" fill="#0000b2"/>
<rect x="104.66" y="340.81" width="8.74" height="8.76" fill="#0000ad"/><rect x="113.10" y="340.81" width="8.74" height="8.76" fill="#0000b2"/><rect x="121.54" y="340.81" width="8.74" height="8.76" fill="#0000b6"/><rect x="129.98" y="340.81" width="8.74" height="8.76" fill="#0000c4"/><rect x="138.42" y="340.81" width="8.74" height="8.76" fill="#0000cd"/><rect x="146.86" y="340.81" width="8.74" height="8.76" fill="#0000df"/><rect x="155.30" y="340.81" width="8.74" height="8.76" fill="#0000f1"/><rect x="163.74" y="340.81" width="8.74" height="8.76" fill="#0000ff"/><rect x="172.18" y="340.81" width="8.74" height="8.76" fill="#0008ff"/><rect x="180.62" y="340.81" width="8.74" height="8.76" fill="#001cff"/><rect x="189.06" y="340.81" width="8.74" height="8.76" fill="#002cff"/><rect x="197.50" y="340.81" width="8.74" height="8.76" fill="#003cff"/><rect x="205.94" y="340.81" width="8.74" height="8.76" fill="#0040ff"/><rect x="214.38" y="340.81" width="25.62" height="8.76" fill="#0044ff"/><rect x="239.70" y="340.81" width="17.18" height="8.76" fill="#0040ff"/><rect x="256.58" y="340.81" width="8.74" height="8.76" fill="#003cff"/><rect x="265.02" y="340.81" width="8.74" height="8.76" fill="#0030ff"/><rect x="273.46" y="340.81" width="8.74" height="8.76" fill="#0028ff"/><rect x="281.90" y="340.81" width="8.74" height="8.76" fill="#001cff"/><rect x="290.34" y="340.81" width="8.74" height="8.76" fill="#0014ff"/><rect x="298.78" y="340.81" width="8.74" height="8.76" fill="#0008ff"/><rect x="307.22" y="340.81" width="8.74" height="8.76" fill="#0004ff"/><rect x="315.66" y="340.81" width="34.06" height="8.76" fill="#0000ff"/><rect x="349.42" y="340.81" width="8.74" height="8.76" fill="#0000f6"/><rect x="357.86" y="340.81" width="8.74" height="8.76" fill="#0000f1"/><rect x="366.30" y="340.81" width="8.74" height="8.76" fill="#0000e8"/><rect x="374.74" y="340.81" width="25.62" height="8.76" fill="#0000da"/><rect x="400.06" y="340.81" width="8.74" height="8.76" fill="#0000d6"/><rect x="408.50" y="340.81" width="8.74" height="8.76" fill="#0000cd"/><rect x="416.94" y="340.81" width="8.74" height="8.76" fill="#0000c4"/><rect x="425.38" y="340.81" width="50.94" height="8.76" fill="#0000c8"/><rect x="476.02" y="340.81" width="8.74" height="8.76" fill="#0000bf"/><rect x="484.46" y="340.81" width="8.74" height="8.76" fill="#0000b6"/><rect x="492.90" y="340.81" width="8.74" height="8.76" fill="#0000b2"/><rect x="501.34" y="340.81" width="17.18" height="8.76" fill="#0000ad"/><rect x="518.22" y="340.81" width="17.18" height="8.76" fill="#0000a8"/><rect x="535.10" y="340.81" width="25.62" height="8.76" fill="#0000a4"/><rect x="560.42" y="340.81" width="17.18" height="8.76" fill="#0000a8"/><rect x="577.30" y="340.81" width="137.00" height="8.76" fill="#0000ad"/>
<rect x="104.66" y="349.27" width="17.18" height="8.76" fill="#0000ad"/><rect x="121.54" y="349.27" width="8.74" height="8.76" fill="#0000b2"/><rect x="129.98" y="349.27" width="8.74" height="8.76" fill="#0000b6"/><rect x="138.42" y="349.27" width="8.74" height="8.76" fill="#0000c4"/><rect x="146.86" y="349.27" width="8.74" height="8.76" fill="#0000cd"/><rect x="155.30" y="349.27" width="8.74" height="8.76" fill="#0000da"/><rect x="163.74" y="349.27" width="8.74" height="8.76" fill="#0000e8"/><rect x="172.18" y="349.27" width="8.74" height="8.76" fill="#0000f1"/><rect x="180.62" y="349.27" width="25.62" height="8.76" fill="#0000ff"/><rect x="205.94" y="349.27" width="8.74" height="8.76" fill="#0008ff"/><rect x="214.38" y="349.27" width="34.06" height="8.76" fill="#000cff"/><rect x="248.14" y="349.27" width="8.74" height="8.76" fill="#0014ff"/><rect x="256.58" y="349.27" width="8.74" height="8.76" fill="#0018ff"/><rect x="265.02" y="349.27" width="8.74" height="8.76" fill="#0014ff"/><rect x="273.46" y="349.27" width="8.74" height="8.76" fill="#000cff"/><rect x="281.90" y="349.27" width="8.74" height="8.76" fill="#0008ff"/><rect x="290.34" y="349.27" width="8.74" height="8.76" fill="#0004ff"/><rect x="298.78" y="349.27" width="34.06" height="8.76" fill="#0000ff"/><rect x="332.54" y="349.27" width="8.74" height="8.76" fill="#0000f6"/><rect x="340.98" y="349.27" width="8.74" height="8.76" fill="#0000f1"/><rect x="349.42" y="349.27" width="8.74" height="8.76" fill="#0000ed"/><rect x="357.86" y="349.27" width="8.74" height="8.76" fill="#0000e8"/><rect x="366.30" y="349.27" width="8.74" height="8.76" fill="#0000df"/><rect x="374.74" y="349.27" width="25.62" height="8.76" fill="#0000d6"/><rect x="400.06" y="349.27" width="8.74" height="8.76" fill="#0000cd"/><rect x="408.50" y="349.27" width="8.74" height="8.76" fill="#0000c8"/><rect x="416.94" y="349.27" width="8.74" height="8.76" fill="#0000c4"/><rect x="425.38" y="349.27" width="50.94" height="8.76" fill="#0000bf"/><rect x="476.02" y="349.27" width="8.74" height="8.76" fill="#0000bb"/><rect x="484.46" y="349.27" width="8.74" height="8.76" fill="#0000b2"/><rect x="492.90" y="349.27" width="17.18" height="8.76" fill="#0000ad"/><rect x="509.78" y="349.27" width="34.06" height="8.76" fill="#0000a8"/><rect x="543.54" y="349.27" width="8.74" height="8.76" fill="#0000a4"/><rect x="551.98" y="349.27" width="17.18" height="8.76" fill="#0000a8"/><rect x="568.86" y="349.27" width="8.74" height="8.76" fill="#0000ad"/><rect x="577.30" y="349.27" width="137.00" height="8.76" fill="#0000b2"/>
<rect x="104.66" y="357.72" width="25.62" height="8.76" fill="#0000b2"/><rect x="129.98" y="357.72" width="8.74" height="8.76" fill="#0000b6"/><rect x="138.42" y="357.72" width="8.74" height="8.76" fill="#0000bf"/><rect x="146.86" y="357.72" width="8.74" height="8.76" fill="#0000c4"/><rect x="155.30" y="357.72" width="8.74" height="8.76" fill="#0000c8"/><rect x="163.74" y="357.72" width="8.74" height="8.76" fill="#0000cd"/><rect x="172.18" y="357.72" width="8.74" height="8.76" fill="#0000d6"/><rect x="180.62" y="357.72" width="8.74" height="8.76" fill="#0000da"/><rect x="189.06" y="357.72" width="8.74" height="8.76" fill="#0000df"/><rect x="197.50" y="357.72" width="8.74" height="8.76" fill="#0000e8"/><rect x="205.94" y="357.72" width="8.74" height="8.76" fill="#0000ed"/><rect x="214.38" y="357.72" width="25.62" height="8.76" fill="#0000f1"/><rect x="239.70" y="357.72" width="8.74" height="8.76" fill="#0000f6"/><rect x="248.14" y="357.72" width="67.82" height="8.76" fill="#0000ff"/><rect x="315.66" y="357.72" width="8.74" height="8.76" fill="#0000f6"/><rect x="324.10" y="357.72" width="8.74" height="8.76" fill="#0000f1"/><rect x="332.54" y="357.72" width="8.74" height="8.76" fill="#0000ed"/><rect x="340.98" y="357.72" width="8.74" height="8.76" fill="#0000e8"/><rect x="349.42" y="357.72" width="8.74" height="8.76" fill="#0000df"/><rect x="357.86" y="357.72" width="8.74" height="8.76" fill="#0000da"/><rect x="366.30" y="357.72" width="34.06" height="8.76" fill="#0000cd"/><rect x="400.06" y="357.72" width="8.74" height="8.76" fill="#0000c8"/><rect x="408.50" y="357.72" width="25.62" height="8.76" fill="#0000c4"/><rect x="433.82" y="357.72" width="17.18" height="8.76" fill="#0000bf"/><rect x="450.70" y="357.72" width="17.18" height="8.76" fill="#0000bb"/><rect x="467.58" y="357.72" width="25.62" height="8.76" fill="#0000b6"/><rect x="492.90" y="357.72" width="17.18" height="8.76" fill="#0000b2"/><rect x="509.78" y="357.72" width="204.52" height="8.76" fill="#0000ad"/>
<rect x="104.66" y="366.18" width="50.94" height="8.76" fill="#0000bf"/><rect x="155.30" y="366.18" width="42.50" height="8.76" fill="#0000c8"/><rect x="197.50" y="366.18" width="34.06" height="8.76" fill="#0000d6"/><rect x="231.26" y="366.18" width="25.62" height="8.76" fill="#0000e8"/><rect x="256.58" y="366.18" width="42.50" height="8.76" fill="#0000f1"/><rect x="298.78" y="366.18" width="8.74" height="8.76" fill="#0000ed"/><rect x="307.22" y="366.18" width="8.74" height="8.76" fill="#0000e8"/><rect x="315.66" y="366.18" width="8.74" height="8.76" fill="#0000da"/><rect x="324.10" y="366.18" width="42.50" height="8.76" fill="#0000cd"/><rect x="366.30" y="366.18" width="17.18" height="8.76" fill="#0000c8"/><rect x="383.18" y="366.18" width="8.74" height="8.76" fill="#0000c4"/><rect x="391.62" y="366.18" width="8.74" height="8.76" fill="#0000bf"/><rect x="400.06" y="366.18" width="8.74" height="8.76" fill="#0000b6"/><rect x="408.50" y="366.18" width="34.06" height="8.76" fill="#0000b2"/><rect x="442.26" y="366.18" width="34.06" height="8.76" fill="#0000ad"/><rect x="476.02" y="366.18" width="67.82" height="8.76" fill="#0000a8"/><rect x="543.54" y="366.18" width="25.62" height="8.76" fill="#0000ad"/><rect x="568.86" y="366.18" width="110.02" height="8.76" fill="#0000b2"/><rect x="678.58" y="366.18" width="17.18" height="8.76" fill="#0000b6"/><rect x="695.46" y="366.18" width="8.74" height="8.76" fill="#0000bb"/><rect x="703.90" y="366.18" width="10.40" height="8.76" fill="#0000bf"/>
<rect x="104.66" y="374.64" width="609.64" height="8.76" fill="#0000bf"/>
<rect x="104.66" y="383.09" width="609.64" height="8.11" fill="#0000df"/>
</g>
<g clip-path="url(#axclip)">
<path d="M128.7 133.0L131.7 132.0L134.8 131.5L136.0 132.2L139.3 132.0L138.1 130.8L135.1 129.5L131.4 128.5L131.9 127.4L136.5 126.8L137.5 125.8L139.2 125.1L143.2 124.3L148.1 123.3L151.7 124.1L155.5 124.2L158.4 124.8L162.6 125.1L166.8 125.5L171.1 125.4L174.4 126.2L177.8 126.4L180.9 127.4L183.7 126.8L185.9 126.4L188.3 126.3L191.3 125.7L193.3 125.3L196.0 124.7L197.2 125.3L200.9 126.5L202.5 125.4L204.8 125.9L207.4 125.9L211.6 126.8L215.8 127.4L219.7 128.0L218.0 129.2L221.7 129.5L225.9 129.1L228.8 130.0L230.1 129.1L229.1 128.4L233.0 128.0L236.1 128.9L239.9 129.3L242.8 129.2L246.4 129.3L247.0 128.2L248.4 128.1L250.1 128.5L250.7 130.1L251.2 128.9L252.9 127.8L254.5 126.4L252.9 125.1L249.9 124.6L249.7 123.5L252.8 122.3L255.5 123.4L256.6 125.1L258.0 126.3L259.3 126.4L260.5 127.8L263.7 127.6L263.9 128.5L264.8 130.0L266.4 129.5L267.8 127.9L268.1 126.1L273.2 126.0L275.2 126.9L274.0 128.0L275.2 129.6L273.2 131.3L269.3 131.9L267.3 132.2L265.9 131.5L266.4 132.8L264.4 133.5L265.6 134.8L262.9 135.5L260.5 135.8L259.2 136.7L256.6 137.6L254.8 139.2L253.3 140.9L252.6 142.2L252.8 144.2L255.1 144.5L256.1 147.1L258.8 147.0L262.2 147.7L264.6 149.0L267.8 149.8L270.3 150.4L273.4 150.5L273.7 153.2L273.9 154.7L275.4 155.5L276.6 157.0L278.3 156.8L279.4 155.8L279.4 153.5L278.8 152.1L277.9 151.1L279.9 150.1L282.6 148.8L283.1 146.9L281.8 145.3L279.9 144.4L281.5 142.9L281.6 141.6L280.6 140.2L280.8 138.5L283.3 138.4L286.7 138.6L289.6 139.5L291.4 140.0L293.4 140.6L295.0 141.7L295.1 143.6L296.8 144.5L298.5 145.3L300.5 144.6L301.9 142.7L303.6 141.8L304.4 143.2L306.1 144.9L308.1 147.1L308.8 149.0L310.7 150.3L313.7 151.5L315.7 152.0L317.1 153.5L318.3 155.2L316.6 156.7L313.7 157.2L310.7 158.9L307.8 158.8L304.4 158.8L300.5 158.9L299.0 160.2L296.5 161.0L294.5 162.7L292.8 164.3L293.8 164.1L296.0 162.4L298.8 160.9L302.4 160.5L303.9 161.1L302.2 162.6L302.7 163.9L303.2 165.4L305.3 166.1L307.8 166.2L309.3 166.5L311.0 164.6L311.5 165.9L309.5 167.2L306.4 168.0L304.1 168.9L301.7 170.1L300.7 169.1L301.9 167.9L303.9 166.9L301.4 167.3L299.4 167.5L297.8 168.4L296.0 169.1L294.3 169.7L293.1 170.8L292.9 171.8L294.0 172.7L294.4 173.1L293.1 173.4L291.9 173.5L290.1 173.9L287.9 174.5L287.5 175.2L287.4 176.5L286.0 177.8L285.2 177.0L285.7 178.5L284.3 180.7L283.7 178.4L283.3 180.0L283.7 181.1L284.3 181.7L284.9 184.0L283.3 184.9L281.5 185.9L279.8 186.3L278.6 187.4L276.6 188.9L275.4 190.3L274.9 192.0L275.4 193.6L276.4 195.5L277.2 198.0L276.9 200.4L275.7 200.9L274.5 199.7L273.7 198.2L272.9 196.5L272.9 194.6L271.5 193.1L270.2 192.7L268.5 193.3L266.8 192.1L264.2 192.3L262.4 192.1L261.2 192.5L261.7 194.1L260.0 194.1L258.3 193.8L256.3 193.5L254.1 193.3L252.4 193.8L250.9 194.8L248.9 196.2L248.0 197.5L248.5 199.6L247.7 202.0L247.4 204.9L248.2 207.1L249.2 209.8L250.4 211.1L251.8 211.8L253.4 212.6L256.0 212.0L258.0 212.1L259.3 210.8L259.9 208.4L261.4 207.4L263.9 206.9L265.6 207.1L265.9 208.3L264.8 209.9L264.2 212.3L263.4 213.6L263.4 215.3L262.4 216.5L263.9 216.7L266.4 216.7L269.0 216.4L271.2 217.3L272.0 218.1L271.5 220.5L271.3 222.5L271.0 224.6L271.7 225.8L273.0 227.2L274.5 228.1L275.9 228.3L277.7 227.5L279.1 227.2L280.8 227.6L281.9 228.7L282.6 229.3L283.7 228.2L284.8 227.1L285.0 225.5L286.0 224.6L287.2 224.2L288.9 224.2L290.6 223.2L291.9 222.4L292.4 223.0L291.1 223.8L291.8 224.8L292.1 226.4L292.4 227.6L291.6 227.9L292.5 224.9L294.0 224.0L294.0 222.9L294.6 222.7L294.8 223.9L297.0 224.5L297.3 225.4L300.5 225.4L302.6 226.2L303.9 225.7L306.1 225.2L308.0 225.2L306.4 225.7L307.3 226.7L309.5 227.2L309.8 228.8L311.3 229.3L313.5 230.9L313.9 231.8L315.9 233.1L318.1 233.3L321.0 233.4L323.0 234.0L324.8 235.5L326.0 236.3L326.9 239.5L328.2 241.4L327.4 242.9L326.4 243.4L327.4 243.7L329.2 243.5L330.8 243.7L330.6 245.6L332.3 244.3L334.5 245.0L336.8 246.0L337.3 247.6L339.0 247.2L341.7 248.0L344.9 248.0L347.5 249.4L349.7 251.3L352.7 251.9L353.6 255.1L353.4 257.8L352.0 259.7L350.0 261.7L349.1 263.5L347.5 265.0L346.6 267.6L346.8 270.1L346.3 272.9L345.4 274.4L345.3 276.3L344.3 277.8L343.2 280.0L341.7 281.7L339.5 281.8L337.2 282.3L335.8 283.2L334.1 283.6L331.6 285.4L330.4 286.9L330.4 289.4L330.1 291.2L328.2 292.8L326.9 294.9L324.8 297.1L323.5 298.9L322.3 299.9L321.6 301.0L319.8 301.9L317.6 301.8L314.9 301.1L313.9 300.2L313.7 301.2L315.6 302.3L315.7 303.8L316.7 304.7L315.2 307.2L312.9 308.1L309.5 308.6L307.5 308.5L307.5 310.9L306.6 312.1L302.7 311.7L302.7 313.9L303.9 314.4L305.1 314.9L302.9 315.3L302.2 317.1L301.7 318.9L298.7 320.1L298.5 321.3L301.4 322.5L301.2 323.8L298.5 325.7L296.1 327.7L295.6 328.9L297.0 331.1L295.1 330.9L292.9 331.9L292.6 333.6L290.9 333.2L288.4 331.9L286.5 330.6L285.3 328.5L285.0 326.0L285.0 323.5L286.5 322.0L284.8 321.5L286.4 320.0L288.2 318.8L289.2 316.3L289.6 314.1L288.9 313.3L287.9 312.9L288.0 310.4L288.7 309.2L288.2 306.4L289.1 305.4L289.6 303.3L290.9 301.2L291.6 298.6L291.6 296.1L291.9 293.4L291.9 291.6L292.8 288.9L293.3 286.7L293.6 283.5L293.6 282.0L294.1 279.0L294.0 276.3L293.7 274.1L292.1 272.8L290.1 271.4L287.5 270.1L285.5 268.9L283.7 266.7L283.5 265.7L282.3 263.5L281.3 261.7L280.3 259.7L279.4 257.6L278.3 255.8L277.1 254.3L275.6 253.3L275.2 251.1L276.7 249.1L277.6 247.6L275.9 247.1L275.9 245.0L276.9 243.9L277.2 242.2L278.8 241.4L279.4 240.2L279.9 238.8L281.5 238.5L282.1 236.8L281.6 234.8L281.8 232.6L281.0 231.1L280.1 229.8L279.3 228.1L278.1 228.2L276.9 229.3L276.9 230.6L275.9 231.0L274.5 229.8L272.5 229.4L271.3 228.9L271.2 228.1L269.3 226.9L267.8 226.4L267.6 224.9L266.3 223.2L264.6 221.4L264.2 220.9L262.2 220.7L260.2 220.1L258.0 219.7L256.6 218.7L254.6 216.8L252.8 216.0L250.4 216.8L247.9 216.4L245.7 215.5L243.7 214.6L240.6 213.0L237.9 212.5L235.5 210.9L234.2 209.1L234.7 207.1L233.9 205.2L232.2 203.6L230.3 201.5L228.0 200.0L227.6 198.3L225.9 197.0L224.2 195.5L222.2 193.1L221.5 191.0L219.0 189.9L218.7 191.5L219.8 193.3L221.7 195.3L222.9 197.3L224.4 199.7L225.6 202.0L227.6 204.2L226.6 204.6L224.7 202.5L223.1 201.4L223.1 199.5L220.9 198.3L218.7 197.0L219.7 195.5L217.3 193.5L215.8 191.1L214.8 188.6L212.8 186.4L211.1 185.7L208.9 185.2L207.9 183.4L206.5 181.5L205.7 179.9L204.5 178.4L203.3 176.3L202.6 175.3L203.0 173.0L202.3 171.3L203.0 169.3L203.1 165.6L202.0 162.1L204.5 162.4L205.8 163.6L205.7 161.7L204.7 160.7L202.5 159.4L200.4 158.4L197.6 157.5L196.7 155.8L195.0 154.0L193.0 152.5L192.5 150.8L190.5 150.1L189.5 148.6L187.4 147.3L186.3 145.6L183.7 144.6L181.9 145.4L179.5 144.2L176.5 142.9L173.6 142.4L169.7 142.4L166.8 141.6L164.3 140.9L162.1 142.1L159.8 142.7L157.6 143.6L156.2 143.4L157.1 141.4L159.2 140.4L156.7 140.9L154.9 142.2L153.3 143.6L152.2 145.3L150.0 146.3L147.4 147.8L144.9 149.1L141.5 150.1L138.1 150.9L134.4 151.6L136.8 150.6L139.8 149.6L141.9 148.8L144.6 147.4L146.4 145.6L147.3 144.4L144.9 144.5L142.2 144.6L139.2 144.7L139.0 143.6L139.0 142.4L136.1 142.7L133.6 141.2L133.9 139.9L132.2 139.0L134.3 137.4L137.3 137.2L140.0 136.5L140.9 135.2L139.3 134.8L137.3 134.8L134.3 134.9L131.7 134.7L130.9 133.7L128.7 133.0ZM337.8 142.6L335.6 141.9L333.7 140.7L331.4 140.7L329.8 140.1L328.9 138.7L327.6 137.6L326.4 136.5L326.0 134.9L324.7 134.0L323.0 133.1L322.1 131.3L321.6 129.3L323.3 128.0L324.6 126.7L326.4 126.4L323.8 125.6L322.0 125.2L320.3 124.6L320.8 122.9L318.6 121.2L317.1 118.9L315.7 117.9L314.5 116.7L312.3 116.4L310.3 115.5L308.2 115.1L306.1 115.2L304.3 115.7L302.3 114.9L300.5 115.6L298.6 115.7L296.8 115.2L295.1 114.8L293.4 114.2L291.9 113.0L293.5 112.4L295.1 112.5L293.3 111.9L291.5 111.7L289.6 111.8L290.9 110.8L292.9 110.7L294.9 110.6L296.8 110.1L298.7 109.8L300.3 108.9L302.2 108.8L299.4 108.0L301.4 107.9L303.2 106.9L305.3 106.8L307.3 106.1L309.5 105.7L311.2 105.9L312.9 105.4L314.6 105.4L316.2 104.9L317.9 105.0L319.6 104.6L321.3 104.7L323.0 104.7L324.7 104.5L326.4 104.9L328.0 104.5L329.7 104.6L331.4 103.8L333.1 104.3L334.8 104.1L336.5 103.9L338.2 104.0L339.9 104.1L341.5 103.3L343.2 103.4L344.9 103.3L346.5 103.4L348.1 103.4L349.6 103.4L351.2 103.2L352.7 102.5L354.3 102.9L355.9 102.8L357.6 102.7L359.3 103.0L361.0 103.2L362.6 103.3L364.4 102.8L366.0 103.4L367.6 103.3L369.1 103.7L370.6 103.7L372.2 103.6L373.6 104.3L372.0 104.9L370.2 105.4L372.2 105.5L374.2 105.7L376.2 105.6L377.7 105.4L379.2 105.7L380.7 106.1L382.3 105.3L383.8 105.9L385.3 106.6L386.8 106.4L388.3 106.2L389.8 105.5L391.3 106.1L389.7 106.9L388.0 107.5L385.8 107.7L383.8 108.5L381.6 108.7L379.5 108.8L381.2 110.5L379.7 111.6L377.8 111.7L379.1 112.5L380.4 113.3L377.8 114.5L379.5 115.9L377.8 117.2L379.9 118.2L378.0 118.6L376.2 118.9L374.5 120.2L373.0 120.8L371.4 121.2L372.9 122.0L374.5 122.6L375.7 124.3L372.8 125.1L371.1 124.7L369.4 124.4L370.5 125.6L371.9 126.1L370.1 127.2L368.1 127.8L366.3 128.4L364.4 127.6L362.7 128.5L360.6 129.0L358.4 129.0L357.0 130.1L355.4 131.0L353.2 131.5L351.2 132.5L349.3 132.4L347.5 133.0L346.0 133.5L344.6 134.0L343.7 135.7L341.9 137.4L340.6 138.3L340.2 139.9L339.5 141.9L337.8 142.6ZM308.6 131.5L306.8 132.5L305.3 134.0L302.7 133.2L301.0 133.0L299.4 132.7L300.2 134.1L301.7 134.8L302.7 136.0L300.2 137.0L297.7 136.0L299.3 137.0L300.5 138.5L302.4 139.0L300.2 139.2L298.2 138.3L296.0 138.2L293.8 138.3L291.8 137.4L290.0 136.3L288.4 135.2L286.7 134.7L285.0 135.8L283.3 134.7L281.6 135.2L280.8 134.0L282.5 133.8L284.2 134.0L285.8 133.5L287.5 133.7L288.4 132.0L290.1 130.1L288.4 129.2L286.7 128.3L285.1 127.4L283.4 126.6L281.6 125.9L279.9 125.3L277.4 125.9L275.9 125.4L274.4 125.8L272.9 125.6L271.3 125.7L269.8 125.6L267.9 125.1L265.9 125.4L263.9 125.1L261.4 123.9L260.5 121.9L262.2 120.2L263.8 119.4L265.6 119.7L267.3 119.2L269.8 120.2L271.9 119.8L274.0 119.4L276.6 120.7L278.7 120.9L280.8 120.9L282.5 121.3L284.2 121.7L286.0 121.8L287.5 122.7L289.5 123.8L291.8 123.9L293.4 124.4L295.1 124.8L297.7 126.1L298.8 127.3L300.4 128.1L301.9 129.0L303.4 129.9L305.3 130.1L307.0 130.7L308.6 131.5ZM281.6 114.5L279.9 114.5L278.3 115.5L276.6 115.2L274.6 115.6L272.6 114.9L270.7 114.8L269.1 114.7L267.6 114.8L266.1 114.1L264.6 114.3L263.1 114.7L261.4 113.3L263.4 112.5L265.6 112.3L267.3 112.1L269.0 111.8L267.4 110.9L265.6 110.8L267.2 109.9L269.0 109.6L266.4 108.3L268.4 107.5L270.4 107.9L272.3 107.8L270.6 108.2L269.0 107.0L267.2 107.8L265.6 107.1L263.9 107.3L262.3 106.3L260.5 106.9L258.8 106.4L260.4 105.6L262.1 105.4L263.9 105.3L265.6 105.5L267.3 105.1L269.0 105.1L270.6 104.3L272.4 105.0L274.0 104.3L275.7 104.0L277.4 104.1L279.1 104.2L280.8 103.7L282.4 103.3L284.1 103.3L285.9 103.8L287.5 103.6L289.2 103.3L290.9 104.0L292.6 103.2L294.3 104.2L296.0 103.9L297.7 103.8L299.2 103.6L300.8 103.6L302.3 104.1L303.9 104.2L305.4 104.1L306.9 104.6L304.8 105.0L302.7 105.9L300.9 105.7L299.4 106.9L297.7 107.1L296.1 108.1L294.5 108.9L292.6 109.1L290.8 109.1L289.2 109.6L287.4 109.7L285.9 110.5L284.2 112.2L282.7 113.2L281.6 114.5ZM277.4 117.9L275.7 118.1L274.0 118.0L272.3 118.3L270.7 117.4L269.0 117.8L267.3 118.0L265.6 117.9L263.9 117.8L262.2 117.6L260.5 117.9L258.7 117.9L257.2 116.9L257.2 114.8L258.8 115.5L260.5 115.0L262.2 115.2L264.0 114.9L265.6 115.6L267.3 115.7L269.0 116.0L270.6 116.4L272.3 116.6L274.0 116.0L275.7 116.2L278.3 116.9L277.4 117.9ZM263.9 111.7L262.2 111.3L260.5 112.1L258.8 111.8L257.2 111.0L255.5 110.5L253.4 109.6L251.2 109.5L249.6 108.1L251.4 107.1L253.6 107.5L255.5 106.8L257.2 107.0L258.9 107.6L260.5 108.1L262.3 108.2L264.0 108.6L265.6 109.5L263.9 111.7ZM240.8 126.1L238.6 127.4L236.5 127.2L234.4 127.1L232.7 127.4L231.0 128.0L229.3 127.8L227.3 127.8L225.4 128.5L223.4 128.0L221.2 128.0L219.2 126.9L217.4 126.1L215.5 126.4L214.1 124.8L215.8 125.3L217.4 123.9L219.2 124.4L217.5 124.0L215.9 123.2L214.1 123.2L211.6 122.7L212.9 121.6L214.6 120.5L216.6 120.9L218.3 120.1L220.0 120.3L221.7 120.4L223.4 120.4L225.1 120.9L227.1 121.7L229.3 121.7L230.1 120.2L232.2 119.8L234.4 119.7L235.2 121.4L236.1 123.6L238.2 124.0L240.3 124.8L240.8 126.1ZM204.0 123.6L202.1 123.5L200.6 122.2L200.5 120.6L201.4 119.2L203.1 118.2L204.8 117.8L206.5 118.0L208.2 118.2L210.2 118.1L212.1 118.9L214.1 118.5L216.6 120.1L215.1 121.1L213.2 121.3L211.6 122.2L210.0 123.1L208.2 123.2L206.0 122.8L204.0 123.6ZM231.8 117.2L230.1 117.3L228.4 116.9L226.8 117.5L225.1 117.1L223.4 118.1L221.7 117.2L220.0 117.7L218.3 117.4L216.6 117.1L215.0 116.9L216.6 115.2L218.6 115.2L220.6 115.5L222.5 115.0L224.2 114.4L225.9 114.4L227.6 114.3L229.6 114.5L231.5 115.3L233.5 115.5L231.8 117.2ZM248.7 122.7L246.5 122.5L244.5 123.2L243.0 122.7L241.9 121.5L240.3 121.4L241.1 119.7L243.2 119.4L245.3 119.0L247.1 119.2L248.7 120.1L249.6 121.2L248.7 122.7ZM259.7 120.9L257.7 122.1L255.5 122.1L253.3 121.8L251.2 121.1L251.2 119.0L252.9 118.5L254.6 119.1L256.3 118.7L258.2 118.6L260.0 119.2L259.7 120.9ZM248.7 116.4L247.0 116.3L245.4 117.4L243.7 117.2L241.9 117.5L240.2 117.4L238.6 116.8L236.9 116.7L238.6 115.0L240.2 114.4L241.9 114.4L243.7 114.3L245.8 113.9L247.9 114.7L248.7 116.4ZM251.6 127.3L249.6 128.1L245.3 127.4L244.8 126.3L248.7 125.8L251.6 127.3ZM277.1 136.2L275.1 136.2L273.2 136.2L271.0 136.1L269.0 137.0L267.4 136.1L265.6 136.4L267.3 134.7L268.9 134.3L269.8 133.0L272.0 133.6L274.0 134.7L275.4 135.5L277.1 135.7L277.1 136.2ZM217.5 114.7L215.4 114.6L213.6 115.9L211.6 115.9L209.6 116.0L207.7 115.3L205.7 115.4L207.2 114.9L208.2 113.7L210.2 113.3L212.2 113.5L214.1 113.2L215.7 114.2L217.5 114.7ZM247.0 112.5L245.3 112.3L243.7 113.0L242.0 112.7L240.3 112.7L238.5 112.4L236.9 111.8L235.2 111.3L236.7 110.1L238.6 110.0L240.3 110.0L241.9 110.5L243.7 110.2L245.3 110.8L247.0 112.5ZM312.4 163.2L317.9 163.1L319.1 164.4L321.0 163.6L322.1 164.7L323.5 163.2L322.3 161.6L321.3 160.2L318.4 159.4L318.6 156.7L316.6 157.0L314.9 159.9L312.4 161.7L312.4 163.2ZM204.2 161.9L201.8 161.6L198.9 160.0L195.9 158.0L197.6 157.7L200.9 158.9L203.1 160.4L204.2 161.9ZM149.1 211.3L150.0 211.4L151.1 210.4L150.6 209.7L149.4 209.2L149.0 210.1L149.1 211.3ZM269.1 206.4L270.7 206.2L272.0 205.7L273.7 205.1L272.7 205.1L270.3 205.2L271.8 204.6L274.0 204.2L276.4 204.4L278.3 205.4L279.9 205.7L281.6 206.7L283.3 207.6L284.8 208.3L287.2 209.2L287.0 209.5L285.0 209.8L281.3 209.9L282.3 208.8L280.4 208.3L279.1 207.0L276.6 206.2L274.4 205.9L272.7 205.9L270.8 206.4L269.1 206.4ZM286.9 212.3L287.9 212.8L289.6 212.7L291.4 213.4L292.6 212.5L294.1 212.5L296.0 212.3L297.0 212.0L296.0 211.1L294.5 210.1L292.6 209.8L291.3 210.0L289.6 209.8L288.6 209.9L289.6 210.8L290.2 212.0L288.4 212.1L286.9 212.3ZM280.3 212.5L282.1 213.4L283.7 213.1L282.6 212.3L281.0 212.1L280.3 212.5ZM299.0 213.0L301.5 213.0L301.5 212.2L299.2 212.1L299.0 213.0ZM297.0 331.4L295.1 331.6L293.6 332.2L293.8 333.2L292.1 333.9L290.9 334.8L294.3 335.4L296.8 336.1L298.8 337.2L300.2 335.9L302.4 335.1L300.2 334.6L298.5 333.8L297.3 332.4L297.0 331.4ZM374.1 136.0L378.2 136.5L380.7 136.7L384.6 136.0L387.8 135.0L389.5 133.8L387.8 132.3L385.4 131.5L382.9 132.2L381.6 132.0L378.7 132.2L376.5 133.2L374.6 131.6L372.3 132.2L371.3 133.2L374.8 133.3L375.3 134.2L371.9 134.2L375.3 135.2L374.1 136.0ZM249.6 117.7L254.6 117.7L254.6 116.4L250.4 116.2L249.6 117.7ZM275.7 120.9L280.8 121.1L284.2 120.2L279.9 119.4L276.6 119.6L275.7 120.9ZM281.6 130.3L285.0 130.1L285.3 129.0L282.5 128.6L281.6 130.3ZM221.7 113.2L226.8 113.3L225.9 112.2L220.9 112.2L221.7 113.2ZM221.7 111.7L226.8 111.7L226.8 110.8L221.7 111.0L221.7 111.7ZM247.0 112.3L252.1 112.5L251.2 111.0L247.0 111.2L247.0 112.3ZM250.4 113.2L254.6 113.0L253.8 112.3L250.4 112.5L250.4 113.2ZM233.5 113.8L236.1 113.7L236.1 112.7L233.9 112.8L233.5 113.8ZM210.7 116.2L214.1 116.4L213.3 115.4L210.7 115.5L210.7 116.2ZM232.7 120.6L236.1 120.6L235.2 119.4L232.7 119.6L232.7 120.6ZM272.3 138.7L277.4 138.4L276.6 137.4L273.2 137.5L272.3 138.7ZM276.9 139.4L278.6 139.4L278.3 138.4L277.1 138.5L276.9 139.4ZM243.7 109.1L246.2 109.1L245.8 108.5L244.0 108.5L243.7 109.1ZM258.8 113.3L261.4 113.3L260.9 112.7L258.8 112.8L258.8 113.3ZM244.5 119.2L247.9 119.2L247.0 118.5L244.5 118.7L244.5 119.2ZM467.4 192.9L467.0 190.7L469.2 191.0L470.3 190.4L471.2 189.1L471.7 187.6L472.5 185.7L473.0 184.1L472.9 182.4L473.6 181.5L472.4 181.7L470.9 181.4L469.3 182.4L467.5 182.6L466.3 181.7L464.3 181.2L463.8 182.2L461.7 182.2L460.2 181.4L458.7 181.0L458.5 179.9L457.0 178.9L457.9 177.8L457.5 177.2L456.5 176.8L456.7 176.0L457.7 175.4L458.9 175.4L461.2 175.3L462.2 174.7L461.6 174.2L463.6 174.0L465.5 173.8L467.0 173.0L468.7 172.6L471.5 172.6L473.2 173.3L473.9 173.8L475.8 174.2L477.4 174.4L479.5 174.3L480.8 174.2L482.5 173.5L482.8 172.3L482.3 171.3L480.5 170.6L479.5 170.0L476.9 168.6L475.6 168.1L474.6 167.4L474.7 166.9L475.9 166.6L476.6 165.8L477.1 164.7L478.8 164.1L476.9 164.1L475.4 164.4L474.2 164.7L472.0 165.4L471.4 165.8L471.7 166.6L472.4 167.0L474.1 166.9L473.7 167.5L472.2 167.6L470.7 168.1L469.5 168.6L469.0 168.3L469.0 167.4L467.3 166.9L468.7 166.2L469.2 165.8L467.3 165.8L466.1 165.4L466.3 164.8L464.4 165.1L463.4 166.3L462.6 167.3L461.2 168.1L460.7 168.9L460.7 170.3L459.5 170.6L459.5 171.5L459.0 171.8L459.7 172.6L460.1 173.5L461.4 173.9L461.2 174.3L459.7 174.3L458.7 174.6L457.7 175.1L456.8 175.7L457.7 174.9L456.3 174.7L454.8 174.4L453.6 174.5L452.8 174.8L453.5 175.7L452.6 175.5L452.6 176.1L451.9 175.6L451.9 176.1L451.1 175.3L451.1 175.0L450.6 175.5L450.6 176.2L451.3 177.2L451.1 177.9L452.1 178.5L453.0 179.0L453.0 179.9L452.3 179.4L451.3 179.5L451.6 180.2L450.9 180.1L451.4 181.5L451.6 182.0L450.6 181.4L450.4 182.0L449.8 181.0L449.1 181.4L448.9 180.2L448.4 179.7L448.4 179.1L448.2 178.9L447.5 178.0L447.5 177.5L446.5 176.7L445.2 175.3L445.2 173.8L445.4 173.0L444.4 172.1L443.0 171.5L441.5 170.8L440.1 170.1L439.3 169.8L438.1 168.9L437.6 167.8L436.9 167.1L435.9 167.9L435.2 166.8L435.7 166.5L434.6 166.3L433.2 166.9L433.6 167.8L433.2 168.9L433.7 169.2L435.2 170.0L436.1 171.5L437.3 172.5L438.1 172.8L439.8 172.8L439.3 173.5L441.0 174.2L442.8 174.9L443.7 175.7L443.4 176.3L442.7 175.6L441.5 175.2L440.5 176.2L440.4 176.7L441.4 177.5L441.3 177.8L440.4 178.2L440.4 178.9L439.5 179.5L438.9 179.4L438.9 178.9L439.3 178.3L439.8 177.8L439.6 177.2L439.1 176.2L438.3 175.8L437.8 175.3L437.3 174.9L436.6 175.0L436.5 174.6L435.6 173.9L434.5 173.9L433.1 173.1L432.2 172.3L431.2 172.0L430.2 171.0L429.8 170.1L429.5 169.3L429.1 169.2L427.5 168.6L426.3 169.3L425.1 169.6L424.8 169.8L423.8 170.6L422.4 170.8L421.5 170.5L420.2 170.3L419.0 170.1L417.9 170.8L417.6 171.8L418.0 172.1L417.7 172.9L416.2 173.6L414.5 174.2L413.9 174.8L412.8 175.8L411.9 176.9L412.8 178.1L411.6 178.9L411.3 179.9L410.3 180.1L409.2 181.1L408.7 181.5L406.5 181.5L405.0 181.5L403.4 182.5L403.0 182.7L402.2 182.4L401.8 181.9L401.6 181.2L400.6 180.7L399.1 181.0L397.3 181.0L397.6 179.5L397.6 178.7L396.4 178.0L396.7 177.1L397.4 175.7L397.8 174.1L397.5 172.8L397.4 172.0L396.8 171.1L397.3 170.6L398.3 170.3L399.1 169.7L400.6 170.0L402.6 169.9L404.9 170.3L406.0 170.2L407.4 170.4L409.4 170.4L409.9 170.0L410.3 168.3L410.6 166.6L410.4 165.6L409.3 164.9L408.8 164.1L407.7 163.4L406.5 163.0L405.1 162.9L404.4 162.5L405.2 162.2L404.4 162.0L404.9 161.6L406.4 161.3L407.4 161.1L407.9 161.6L409.1 161.5L409.8 161.5L409.7 160.5L409.2 159.7L410.3 159.7L410.6 160.3L412.1 160.4L412.6 160.0L412.8 159.7L414.3 159.3L415.2 158.9L415.2 157.8L415.6 157.6L416.8 157.4L418.1 156.9L418.7 156.5L419.2 155.8L420.1 155.0L420.5 154.2L421.6 153.8L422.9 153.5L424.1 153.4L424.8 153.0L426.1 153.0L426.8 153.2L427.1 152.6L427.5 152.3L427.0 151.9L427.4 151.5L427.0 151.0L427.1 150.6L426.1 149.9L426.1 149.0L426.2 147.9L427.0 147.3L428.3 147.2L429.2 146.5L430.3 146.2L430.2 146.8L430.2 147.4L429.7 147.9L430.8 148.4L430.4 148.9L429.7 149.0L429.7 149.5L429.0 150.0L428.7 150.5L428.5 151.1L429.3 151.3L429.4 151.6L429.6 151.9L430.8 151.8L430.8 152.5L431.9 152.5L432.9 152.2L433.6 151.7L434.6 152.0L435.6 152.2L436.4 152.6L439.5 152.1L441.0 151.5L443.3 151.1L444.2 151.5L443.8 151.8L445.2 151.9L446.0 151.7L446.1 150.9L447.1 150.9L448.1 150.3L448.1 149.6L448.0 149.0L447.9 148.3L448.0 147.4L448.6 146.8L450.6 146.2L451.6 146.9L452.3 147.4L453.1 147.4L453.6 146.9L453.6 145.9L453.8 145.2L452.5 145.2L452.1 144.6L452.0 143.7L454.2 143.3L456.0 143.1L457.9 143.3L459.7 143.3L460.1 142.9L461.4 142.5L463.4 142.5L462.2 142.1L460.7 141.7L460.9 141.2L459.2 141.6L457.9 141.6L456.2 141.9L454.6 142.1L453.0 142.4L451.2 142.7L450.6 142.1L449.9 141.7L448.6 141.4L448.4 140.6L448.7 139.8L448.4 138.5L448.1 137.7L448.7 137.2L450.1 136.6L450.9 136.0L452.3 135.3L453.6 134.5L455.3 134.0L455.2 133.2L454.0 132.8L453.2 132.7L451.9 132.7L450.1 132.8L449.8 133.1L448.9 133.5L448.7 134.2L448.2 134.7L448.9 135.0L448.1 135.7L446.7 136.2L445.0 136.7L444.4 137.0L443.3 137.5L442.7 138.2L441.8 138.5L441.9 139.5L441.4 139.9L441.5 140.9L441.5 141.3L442.3 141.5L443.7 142.0L444.4 142.6L444.4 143.2L443.3 143.6L442.7 144.3L441.1 144.8L440.6 145.6L440.6 146.3L440.2 147.3L440.1 148.0L439.5 148.8L438.8 148.9L437.3 148.9L436.7 149.9L436.4 150.1L435.1 150.2L434.1 150.1L434.4 149.8L433.9 149.0L433.5 148.6L434.2 148.4L434.1 148.0L433.0 147.3L432.6 146.6L432.5 146.3L431.9 145.6L431.4 145.1L431.3 144.2L430.9 143.7L430.4 143.3L430.5 142.6L430.2 143.2L429.8 143.9L429.0 144.2L427.8 144.8L426.8 145.3L426.0 145.6L424.4 145.8L423.6 145.6L421.9 144.7L421.9 144.2L421.2 143.6L421.2 142.7L421.1 141.7L420.8 140.7L420.7 139.9L421.1 139.0L422.1 138.5L422.8 138.2L424.3 137.4L425.4 137.2L426.8 136.6L428.5 136.2L429.0 135.7L430.3 134.8L431.4 134.2L432.7 133.5L433.2 132.8L434.2 132.0L434.4 131.1L436.8 130.1L437.4 129.5L438.3 129.0L440.0 128.2L440.5 127.8L441.7 127.1L442.8 126.4L444.4 126.1L445.9 125.4L447.9 125.4L449.6 125.1L451.3 124.6L452.5 124.5L454.0 123.9L456.0 123.6L457.5 124.0L459.0 123.8L460.6 124.2L462.6 124.4L464.9 125.0L463.4 125.5L461.4 125.4L463.9 125.9L464.6 126.4L466.1 126.1L468.3 126.5L469.2 126.8L471.7 126.9L474.1 127.3L476.6 128.3L479.6 128.8L481.2 129.8L482.2 130.8L480.8 131.8L477.4 132.2L474.1 131.8L471.5 131.6L469.8 131.1L467.3 130.4L469.0 131.3L470.5 132.5L471.2 134.0L471.4 134.8L473.0 135.2L474.1 135.8L476.4 135.8L475.4 135.0L474.2 134.3L474.6 133.7L476.3 133.8L477.4 134.3L479.6 134.6L480.8 134.8L480.3 134.0L479.6 133.0L481.2 132.3L483.5 131.5L485.9 132.0L486.9 132.2L487.1 131.5L486.4 130.3L486.7 129.3L485.5 128.0L487.2 128.1L490.1 128.5L491.1 129.3L489.9 130.5L491.1 130.9L493.0 130.8L494.5 129.6L498.2 128.4L501.9 128.5L503.6 128.6L503.4 127.4L505.3 128.1L509.2 128.0L512.0 128.3L514.6 127.4L514.2 126.1L515.4 125.9L521.3 126.9L524.7 127.6L527.6 128.3L528.9 127.4L526.1 126.1L525.4 124.8L526.1 123.4L527.9 122.4L528.9 121.1L530.6 120.6L533.6 120.7L535.3 121.1L535.0 122.6L534.5 123.9L535.7 126.4L536.9 128.1L534.0 130.3L533.1 131.1L534.8 131.3L537.2 130.6L538.5 129.3L537.4 128.0L538.2 127.1L537.0 125.8L537.9 123.9L536.3 122.6L539.0 120.9L543.4 121.2L545.0 121.6L548.7 122.2L548.3 120.7L548.8 119.7L554.2 119.2L559.0 118.9L559.6 117.2L564.4 116.2L570.3 115.4L575.3 115.4L579.6 114.7L582.9 113.8L588.5 112.7L591.9 113.2L593.9 114.0L600.7 114.3L604.0 115.2L604.4 116.5L602.4 117.4L596.4 118.5L593.1 119.6L591.9 120.2L595.3 120.1L599.0 119.2L603.2 119.2L604.9 119.6L607.4 119.4L613.0 119.6L612.5 120.4L616.7 120.6L620.4 120.6L621.8 119.4L626.8 119.7L629.4 120.2L630.5 120.9L631.0 122.4L630.5 123.9L633.6 124.3L636.4 122.9L640.3 122.9L644.5 123.4L647.1 123.1L648.3 121.7L650.0 120.7L654.7 121.1L658.9 121.6L664.0 121.9L666.5 123.1L669.9 123.9L674.9 123.8L679.2 124.1L682.5 125.3L684.2 126.3L688.4 126.1L692.7 126.4L696.5 125.8L699.4 127.1L700.4 125.4L704.5 125.9L709.5 125.8L713.8 126.6L717.1 127.4L721.4 128.3L725.6 130.5L729.0 130.6L731.5 131.3L733.7 132.2L731.5 133.0L729.0 133.2L727.8 135.0L724.7 134.3L721.4 133.3L718.0 131.8L716.8 133.2L714.6 134.3L712.1 134.5L713.8 136.0L715.1 138.5L712.1 138.2L707.8 139.4L703.6 140.7L699.9 142.4L696.0 141.6L692.7 142.4L689.3 142.7L687.6 144.8L686.4 146.1L688.1 148.8L685.9 150.5L685.9 151.3L682.5 153.8L680.3 154.2L679.7 155.8L677.0 157.7L675.8 155.8L675.1 152.5L675.1 149.1L677.0 146.6L680.0 144.9L682.5 143.2L685.6 141.7L687.6 139.9L690.1 138.2L687.3 139.5L683.4 141.2L682.5 139.4L677.5 139.7L674.1 143.2L669.9 144.1L667.0 143.2L663.1 143.6L658.1 143.6L654.2 143.5L649.6 146.1L646.2 148.3L644.2 150.8L640.8 151.3L643.7 152.8L647.9 152.1L649.3 153.8L651.0 153.8L651.1 155.5L650.6 156.7L649.6 159.2L649.4 161.7L647.1 163.7L645.7 165.6L642.9 167.9L640.8 170.0L637.3 171.4L635.1 170.8L633.2 171.8L631.6 173.5L631.4 174.7L629.0 176.0L627.7 176.5L627.5 177.3L629.2 178.5L630.4 180.2L631.0 181.5L631.0 182.7L630.7 183.9L629.0 184.7L627.7 184.9L626.0 185.4L625.6 184.2L626.0 182.7L625.4 181.5L626.3 181.0L626.2 180.2L625.3 179.8L624.0 179.9L623.3 179.2L623.8 178.2L623.6 176.8L622.4 176.2L620.6 176.5L618.4 177.6L617.4 177.9L617.9 177.0L618.6 175.3L617.2 174.5L616.5 174.8L614.8 176.0L613.3 177.3L611.3 177.7L611.1 178.7L612.6 179.4L613.3 180.0L613.3 180.7L614.8 180.7L616.2 179.7L617.4 180.1L619.6 180.4L619.2 181.2L616.7 181.7L615.5 182.6L614.3 183.6L613.7 184.7L615.3 185.6L616.5 187.8L616.7 188.6L618.2 189.9L618.2 191.3L616.5 192.3L617.2 192.3L618.4 193.0L617.7 194.6L617.7 195.7L616.7 196.2L615.5 197.7L614.5 199.0L614.3 199.5L613.3 200.9L612.8 201.7L611.8 202.2L610.5 203.4L609.4 204.1L607.4 205.1L605.4 205.4L604.0 205.9L602.4 206.6L599.8 207.1L598.8 207.6L599.0 209.1L598.0 209.1L597.6 207.9L597.3 206.9L596.6 207.1L595.3 206.9L594.8 207.1L593.1 207.9L592.6 208.4L592.4 209.3L591.2 210.1L591.0 211.6L592.2 213.1L593.2 214.6L594.6 215.8L595.3 216.2L596.3 217.7L596.8 220.0L597.1 221.5L596.8 223.2L596.3 224.2L594.8 225.2L593.2 225.8L592.6 227.2L590.5 228.1L589.4 228.8L589.4 226.7L588.8 225.7L587.3 225.6L586.5 224.7L586.1 223.5L585.0 222.5L582.9 221.9L582.8 220.6L581.8 220.5L581.2 220.7L581.2 222.0L580.6 223.4L579.9 224.9L579.9 225.9L580.1 227.6L581.1 227.7L581.2 228.8L581.9 230.9L582.3 231.1L583.4 231.6L584.8 232.8L586.3 234.1L587.0 235.1L587.1 236.1L587.0 237.3L587.2 238.5L588.2 239.8L588.5 240.8L587.2 241.0L585.6 240.0L584.3 238.8L583.4 238.2L582.6 236.6L582.3 235.5L581.8 234.1L581.8 232.4L580.7 231.6L580.1 230.4L579.1 229.6L578.4 229.9L578.4 228.2L578.8 226.6L578.7 225.2L579.1 223.4L578.7 221.9L578.2 220.0L578.0 219.5L577.5 218.0L577.2 215.8L576.4 214.8L575.8 214.1L574.8 215.3L573.5 216.7L572.1 216.5L571.5 216.2L572.0 214.1L571.6 212.0L570.6 210.4L569.3 209.3L568.3 208.1L567.7 207.2L567.4 205.7L566.6 205.2L565.6 205.6L564.9 206.4L563.5 206.6L562.2 206.9L561.2 206.7L560.1 206.9L559.3 207.2L559.1 208.6L558.8 209.2L557.4 210.1L556.1 210.9L554.4 212.5L553.1 213.5L551.4 215.1L549.5 216.5L548.0 216.8L547.7 218.0L547.7 219.7L548.0 221.2L547.8 222.5L547.2 224.0L547.2 225.7L546.3 225.9L545.7 227.2L546.1 227.6L544.5 228.2L543.4 229.6L542.3 228.9L541.2 227.1L541.1 226.5L540.3 224.2L538.8 221.5L538.0 219.3L537.5 218.3L537.0 217.2L536.2 214.8L535.5 212.6L535.3 211.3L535.2 209.6L535.5 208.3L535.2 206.9L534.9 205.9L534.3 206.4L534.2 207.8L532.3 208.3L531.1 208.1L529.3 206.2L528.9 205.6L530.9 204.6L529.3 204.8L528.4 204.2L527.6 203.3L526.4 203.0L525.5 201.5L524.7 200.5L522.2 200.7L519.6 200.8L517.6 200.9L516.4 200.9L514.7 200.7L512.2 200.4L510.0 200.1L509.0 198.0L507.5 197.6L505.3 198.5L503.6 198.4L502.4 198.2L501.1 197.0L499.4 196.3L498.4 194.6L497.7 193.5L496.7 192.5L495.2 192.0L494.5 192.8L493.5 192.9L493.4 193.8L493.7 194.5L494.5 195.7L495.7 197.2L497.1 198.4L497.2 199.5L497.9 200.7L498.2 201.6L498.1 200.4L498.9 199.3L499.6 200.7L499.6 201.8L499.0 202.4L501.1 202.5L503.6 202.6L504.3 202.1L505.8 200.7L507.1 199.4L507.7 198.9L507.6 200.2L507.7 201.4L508.3 202.4L510.0 203.3L511.4 203.6L513.4 205.3L512.5 207.2L511.4 208.9L510.0 209.3L510.0 211.3L508.0 213.0L506.0 213.5L503.6 214.6L502.1 215.2L500.6 216.4L498.9 217.7L495.3 218.8L493.3 219.6L490.1 220.7L488.4 221.7L485.9 221.9L485.5 220.9L484.9 218.3L484.5 216.8L484.7 215.6L484.3 214.8L482.8 213.0L481.5 210.8L480.0 209.1L478.6 207.1L478.2 205.4L476.9 202.8L475.2 201.0L474.1 199.4L472.4 197.0L471.5 196.0L471.4 193.6L470.9 195.0L470.3 196.6L469.2 195.3L468.5 195.2L467.6 193.3L467.4 192.9ZM-140.3 192.9L-140.7 190.7L-138.5 191.0L-137.3 190.4L-136.5 189.1L-136.0 187.6L-135.1 185.7L-134.6 184.1L-134.8 182.4L-134.1 181.5L-135.3 181.7L-136.8 181.4L-138.3 182.4L-140.2 182.6L-141.4 181.7L-143.4 181.2L-143.9 182.2L-145.9 182.2L-147.5 181.4L-149.0 181.0L-149.1 179.9L-150.7 178.9L-149.8 177.8L-150.2 177.2L-151.2 176.8L-151.0 176.0L-150.0 175.4L-148.8 175.4L-146.4 175.3L-145.4 174.7L-146.1 174.2L-144.1 174.0L-142.2 173.8L-140.7 173.0L-139.0 172.6L-136.2 172.6L-134.5 173.3L-133.8 173.8L-131.9 174.2L-130.2 174.4L-128.2 174.3L-126.9 174.2L-125.2 173.5L-124.8 172.3L-125.3 171.3L-127.2 170.6L-128.2 170.0L-130.7 168.6L-132.1 168.1L-133.1 167.4L-132.9 166.9L-131.8 166.6L-131.1 165.8L-130.6 164.7L-128.9 164.1L-130.7 164.1L-132.3 164.4L-133.4 164.7L-135.6 165.4L-136.3 165.8L-136.0 166.6L-135.3 167.0L-133.6 166.9L-134.0 167.5L-135.5 167.6L-137.0 168.1L-138.2 168.6L-138.7 168.3L-138.7 167.4L-140.4 166.9L-139.0 166.2L-138.5 165.8L-140.4 165.8L-141.6 165.4L-141.4 164.8L-143.2 165.1L-144.3 166.3L-145.1 167.3L-146.4 168.1L-147.0 168.9L-147.0 170.3L-148.1 170.6L-148.1 171.5L-148.6 171.8L-148.0 172.6L-147.6 173.5L-146.3 173.9L-146.4 174.3L-148.0 174.3L-149.0 174.6L-150.0 175.1L-150.8 175.7L-150.0 174.9L-151.3 174.7L-152.9 174.4L-154.0 174.5L-154.9 174.8L-154.2 175.7L-155.1 175.5L-155.1 176.1L-155.7 175.6L-155.7 176.1L-156.6 175.3L-156.6 175.0L-157.1 175.5L-157.1 176.2L-156.4 177.2L-156.6 177.9L-155.6 178.5L-154.6 179.0L-154.6 179.9L-155.4 179.4L-156.4 179.5L-156.1 180.2L-156.8 180.1L-156.2 181.5L-156.1 182.0L-157.1 181.4L-157.2 182.0L-157.8 181.0L-158.6 181.4L-158.8 180.2L-159.3 179.7L-159.3 179.1L-159.5 178.9L-160.2 178.0L-160.2 177.5L-161.1 176.7L-162.5 175.3L-162.5 173.8L-162.3 173.0L-163.3 172.1L-164.7 171.5L-166.2 170.8L-167.5 170.1L-168.4 169.8L-169.6 168.9L-170.1 167.8L-170.8 167.1L-171.8 167.9L-172.4 166.8L-172.0 166.5L-173.1 166.3L-174.5 166.9L-174.1 167.8L-174.5 168.9L-174.0 169.2L-172.4 170.0L-171.6 171.5L-170.4 172.5L-169.6 172.8L-167.9 172.8L-168.4 173.5L-166.7 174.2L-164.8 174.9L-164.0 175.7L-164.3 176.3L-165.0 175.6L-166.2 175.2L-167.2 176.2L-167.3 176.7L-166.3 177.5L-166.4 177.8L-167.3 178.2L-167.3 178.9L-168.1 179.5L-168.8 179.4L-168.8 178.9L-168.4 178.3L-167.9 177.8L-168.1 177.2L-168.6 176.2L-169.4 175.8L-169.9 175.3L-170.3 174.9L-171.1 175.0L-171.2 174.6L-172.1 173.9L-173.2 173.9L-174.6 173.1L-175.5 172.3L-176.5 172.0L-177.5 171.0L-177.8 170.1L-178.2 169.3L-178.6 169.2L-180.2 168.6L-181.4 169.3L-182.6 169.6L-182.9 169.8L-183.9 170.6L-185.3 170.8L-186.2 170.5L-187.5 170.3L-188.6 170.1L-189.8 170.8L-190.1 171.8L-189.7 172.1L-190.0 172.9L-191.5 173.6L-193.2 174.2L-193.8 174.8L-194.9 175.8L-195.7 176.9L-194.9 178.1L-196.1 178.9L-196.4 179.9L-197.4 180.1L-198.4 181.1L-198.9 181.5L-201.1 181.5L-202.7 181.5L-204.3 182.5L-204.7 182.7L-205.4 182.4L-205.9 181.9L-206.0 181.2L-207.0 180.7L-208.6 181.0L-210.3 181.0L-210.1 179.5L-210.1 178.7L-211.3 178.0L-211.0 177.1L-210.3 175.7L-209.9 174.1L-210.2 172.8L-210.3 172.0L-210.9 171.1L-210.4 170.6L-209.4 170.3L-208.6 169.7L-207.0 170.0L-205.1 169.9L-202.8 170.3L-201.6 170.2L-200.3 170.4L-198.3 170.4L-197.8 170.0L-197.3 168.3L-197.1 166.6L-197.3 165.6L-198.4 164.9L-198.9 164.1L-200.0 163.4L-201.1 163.0L-202.6 162.9L-203.2 162.5L-202.5 162.2L-203.2 162.0L-202.8 161.6L-201.3 161.3L-200.3 161.1L-199.8 161.6L-198.6 161.5L-197.8 161.5L-197.9 160.5L-198.4 159.7L-197.4 159.7L-197.1 160.3L-195.6 160.4L-195.1 160.0L-194.9 159.7L-193.4 159.3L-192.5 158.9L-192.5 157.8L-192.1 157.6L-190.9 157.4L-189.6 156.9L-189.0 156.5L-188.5 155.8L-187.5 155.0L-187.2 154.2L-186.1 153.8L-184.8 153.5L-183.6 153.4L-182.9 153.0L-181.6 153.0L-180.9 153.2L-180.6 152.6L-180.2 152.3L-180.7 151.9L-180.3 151.5L-180.7 151.0L-180.6 150.6L-181.6 149.9L-181.6 149.0L-181.5 147.9L-180.7 147.3L-179.4 147.2L-178.4 146.5L-177.3 146.2L-177.5 146.8L-177.5 147.4L-178.0 147.9L-176.8 148.4L-177.3 148.9L-178.0 149.0L-178.0 149.5L-178.7 150.0L-179.0 150.5L-179.2 151.1L-178.3 151.3L-178.3 151.6L-178.1 151.9L-176.8 151.8L-176.9 152.5L-175.8 152.5L-174.8 152.2L-174.1 151.7L-173.1 152.0L-172.1 152.2L-171.3 152.6L-168.2 152.1L-166.7 151.5L-164.3 151.1L-163.5 151.5L-163.8 151.8L-162.5 151.9L-161.6 151.7L-161.6 150.9L-160.6 150.9L-159.6 150.3L-159.6 149.6L-159.7 149.0L-159.8 148.3L-159.7 147.4L-159.1 146.8L-157.1 146.2L-156.1 146.9L-155.4 147.4L-154.5 147.4L-154.0 146.9L-154.1 145.9L-153.9 145.2L-155.2 145.2L-155.6 144.6L-155.6 143.7L-153.5 143.3L-151.7 143.1L-149.8 143.3L-148.0 143.3L-147.6 142.9L-146.3 142.5L-144.3 142.5L-145.4 142.1L-147.0 141.7L-146.8 141.2L-148.5 141.6L-149.8 141.6L-151.5 141.9L-153.1 142.1L-154.7 142.4L-156.5 142.7L-157.1 142.1L-157.8 141.7L-159.1 141.4L-159.3 140.6L-158.9 139.8L-159.3 138.5L-159.6 137.7L-158.9 137.2L-157.6 136.6L-156.7 136.0L-155.4 135.3L-154.0 134.5L-152.4 134.0L-152.5 133.2L-153.7 132.8L-154.5 132.7L-155.7 132.7L-157.6 132.8L-157.8 133.1L-158.8 133.5L-158.9 134.2L-159.4 134.7L-158.8 135.0L-159.6 135.7L-161.0 136.2L-162.7 136.7L-163.3 137.0L-164.3 137.5L-165.0 138.2L-165.9 138.5L-165.8 139.5L-166.3 139.9L-166.2 140.9L-166.2 141.3L-165.4 141.5L-164.0 142.0L-163.3 142.6L-163.3 143.2L-164.3 143.6L-165.0 144.3L-166.6 144.8L-167.0 145.6L-167.0 146.3L-167.5 147.3L-167.5 148.0L-168.1 148.8L-168.9 148.9L-170.4 148.9L-171.0 149.9L-171.3 150.1L-172.6 150.2L-173.5 150.1L-173.3 149.8L-173.8 149.0L-174.2 148.6L-173.5 148.4L-173.5 148.0L-174.6 147.3L-175.1 146.6L-175.1 146.3L-175.8 145.6L-176.2 145.1L-176.4 144.2L-176.7 143.7L-177.3 143.3L-177.2 142.6L-177.5 143.2L-177.8 143.9L-178.7 144.2L-179.9 144.8L-180.9 145.3L-181.7 145.6L-183.3 145.8L-184.1 145.6L-185.8 144.7L-185.8 144.2L-186.5 143.6L-186.5 142.7L-186.6 141.7L-186.9 140.7L-187.0 139.9L-186.6 139.0L-185.6 138.5L-184.8 138.2L-183.4 137.4L-182.2 137.2L-180.9 136.6L-179.2 136.2L-178.7 135.7L-177.3 134.8L-176.3 134.2L-175.0 133.5L-174.5 132.8L-173.5 132.0L-173.3 131.1L-170.9 130.1L-170.2 129.5L-169.4 129.0L-167.7 128.2L-167.2 127.8L-166.0 127.1L-164.8 126.4L-163.2 126.1L-161.8 125.4L-159.8 125.4L-158.1 125.1L-156.4 124.6L-155.2 124.5L-153.7 123.9L-151.7 123.6L-150.2 124.0L-148.6 123.8L-147.1 124.2L-145.1 124.4L-142.8 125.0L-144.3 125.5L-146.3 125.4L-143.7 125.9L-143.1 126.4L-141.6 126.1L-139.4 126.5L-138.5 126.8L-136.0 126.9L-133.6 127.3L-131.1 128.3L-128.0 128.8L-126.5 129.8L-125.5 130.8L-126.9 131.8L-130.2 132.2L-133.6 131.8L-136.2 131.6L-137.8 131.1L-140.4 130.4L-138.7 131.3L-137.2 132.5L-136.5 134.0L-136.3 134.8L-134.6 135.2L-133.6 135.8L-131.3 135.8L-132.3 135.0L-133.4 134.3L-133.1 133.7L-131.4 133.8L-130.2 134.3L-128.0 134.6L-126.9 134.8L-127.4 134.0L-128.0 133.0L-126.5 132.3L-124.2 131.5L-121.8 132.0L-120.8 132.2L-120.6 131.5L-121.3 130.3L-121.0 129.3L-122.1 128.0L-120.5 128.1L-117.6 128.5L-116.6 129.3L-117.8 130.5L-116.6 130.9L-114.7 130.8L-113.2 129.6L-109.5 128.4L-105.8 128.5L-104.1 128.6L-104.2 127.4L-102.4 128.1L-98.5 128.0L-95.6 128.3L-93.1 127.4L-93.4 126.1L-92.3 125.9L-86.4 126.9L-83.0 127.6L-80.1 128.3L-78.8 127.4L-81.6 126.1L-82.3 124.8L-81.6 123.4L-79.8 122.4L-78.8 121.1L-77.1 120.6L-74.0 120.7L-72.3 121.1L-72.7 122.6L-73.2 123.9L-72.0 126.4L-70.8 128.1L-73.7 130.3L-74.5 131.1L-72.9 131.3L-70.5 130.6L-69.1 129.3L-70.3 128.0L-69.5 127.1L-70.7 125.8L-69.8 123.9L-71.3 122.6L-68.6 120.9L-64.2 121.2L-62.7 121.6L-59.0 122.2L-59.3 120.7L-58.8 119.7L-53.4 119.2L-48.7 118.9L-48.0 117.2L-43.3 116.2L-37.4 115.4L-32.3 115.4L-28.1 114.7L-24.7 113.8L-19.2 112.7L-15.8 113.2L-13.8 114.0L-7.0 114.3L-3.6 115.2L-3.3 116.5L-5.3 117.4L-11.2 118.5L-14.6 119.6L-15.8 120.2L-12.4 120.1L-8.7 119.2L-4.5 119.2L-2.8 119.6L-0.3 119.4L5.3 119.6L4.8 120.4L9.0 120.6L12.7 120.6L14.1 119.4L19.1 119.7L21.7 120.2L22.9 120.9L23.4 122.4L22.9 123.9L25.9 124.3L28.8 122.9L32.6 122.9L36.9 123.4L39.4 123.1L40.6 121.7L42.3 120.7L47.0 121.1L51.2 121.6L56.3 121.9L58.8 123.1L62.2 123.9L67.3 123.8L71.5 124.1L74.9 125.3L76.5 126.3L80.8 126.1L85.0 126.4L88.9 125.8L91.7 127.1L92.7 125.4L96.8 125.9L101.9 125.8L106.1 126.6L109.5 127.4L113.7 128.3L117.9 130.5L121.3 130.6L123.8 131.3L126.0 132.2L123.8 133.0L121.3 133.2L120.1 135.0L117.1 134.3L113.7 133.3L110.3 131.8L109.1 133.2L106.9 134.3L104.4 134.5L106.1 136.0L107.4 138.5L104.4 138.2L100.2 139.4L95.9 140.7L92.2 142.4L88.4 141.6L85.0 142.4L81.6 142.7L79.9 144.8L78.7 146.1L80.4 148.8L78.2 150.5L78.2 151.3L74.9 153.8L72.7 154.2L72.0 155.8L69.3 157.7L68.1 155.8L67.4 152.5L67.4 149.1L69.3 146.6L72.3 144.9L74.9 143.2L77.9 141.7L79.9 139.9L82.4 138.2L79.6 139.5L75.7 141.2L74.9 139.4L69.8 139.7L66.4 143.2L62.2 144.1L59.3 143.2L55.4 143.6L50.4 143.6L46.5 143.5L41.9 146.1L38.6 148.3L36.5 150.8L33.2 151.3L36.0 152.8L40.2 152.1L41.6 153.8L43.3 153.8L43.5 155.5L42.9 156.7L41.9 159.2L41.8 161.7L39.4 163.7L38.1 165.6L35.2 167.9L33.2 170.0L29.6 171.4L27.4 170.8L25.6 171.8L23.9 173.5L23.7 174.7L21.3 176.0L20.0 176.5L19.8 177.3L21.5 178.5L22.7 180.2L23.3 181.5L23.3 182.7L23.0 183.9L21.3 184.7L20.0 184.9L18.3 185.4L18.0 184.2L18.3 182.7L17.7 181.5L18.6 181.0L18.5 180.2L17.6 179.8L16.3 179.9L15.6 179.2L16.1 178.2L15.9 176.8L14.8 176.2L12.9 176.5L10.7 177.6L9.7 177.9L10.2 177.0L10.9 175.3L9.5 174.5L8.8 174.8L7.2 176.0L5.6 177.3L3.6 177.7L3.4 178.7L5.0 179.4L5.6 180.0L5.6 180.7L7.2 180.7L8.5 179.7L9.7 180.1L11.9 180.4L11.6 181.2L9.0 181.7L7.8 182.6L6.7 183.6L6.0 184.7L7.7 185.6L8.8 187.8L9.0 188.6L10.5 189.9L10.5 191.3L8.8 192.3L9.5 192.3L10.7 193.0L10.0 194.6L10.0 195.7L9.0 196.2L7.8 197.7L6.8 199.0L6.7 199.5L5.6 200.9L5.1 201.7L4.1 202.2L2.8 203.4L1.8 204.1L-0.3 205.1L-2.3 205.4L-3.6 205.9L-5.3 206.6L-7.9 207.1L-8.9 207.6L-8.7 209.1L-9.7 209.1L-10.1 207.9L-10.4 206.9L-11.1 207.1L-12.4 206.9L-12.9 207.1L-14.6 207.9L-15.1 208.4L-15.3 209.3L-16.5 210.1L-16.7 211.6L-15.5 213.1L-14.4 214.6L-13.1 215.8L-12.4 216.2L-11.4 217.7L-10.9 220.0L-10.6 221.5L-10.9 223.2L-11.4 224.2L-12.9 225.2L-14.4 225.8L-15.1 227.2L-17.1 228.1L-18.3 228.8L-18.2 226.7L-18.8 225.7L-20.4 225.6L-21.2 224.7L-21.5 223.5L-22.7 222.5L-24.7 221.9L-24.9 220.6L-25.9 220.5L-26.4 220.7L-26.5 222.0L-27.1 223.4L-27.8 224.9L-27.8 225.9L-27.6 227.6L-26.6 227.7L-26.4 228.8L-25.8 230.9L-25.4 231.1L-24.2 231.6L-22.9 232.8L-21.4 234.1L-20.7 235.1L-20.6 236.1L-20.7 237.3L-20.5 238.5L-19.5 239.8L-19.2 240.8L-20.5 241.0L-22.0 240.0L-23.4 238.8L-24.2 238.2L-25.1 236.6L-25.4 235.5L-25.9 234.1L-25.9 232.4L-26.9 231.6L-27.6 230.4L-28.6 229.6L-29.3 229.9L-29.3 228.2L-28.9 226.6L-29.0 225.2L-28.6 223.4L-29.0 221.9L-29.5 220.0L-29.6 219.5L-30.1 218.0L-30.5 215.8L-31.3 214.8L-31.8 214.1L-32.8 215.3L-34.2 216.7L-35.5 216.5L-36.2 216.2L-35.7 214.1L-36.1 212.0L-37.1 210.4L-38.4 209.3L-39.4 208.1L-39.9 207.2L-40.3 205.7L-41.1 205.2L-42.1 205.6L-42.8 206.4L-44.2 206.6L-45.5 206.9L-46.5 206.7L-47.5 206.9L-48.4 207.2L-48.6 208.6L-48.9 209.2L-50.2 210.1L-51.6 210.9L-53.3 212.5L-54.6 213.5L-56.3 215.1L-58.2 216.5L-59.7 216.8L-60.0 218.0L-60.0 219.7L-59.7 221.2L-59.9 222.5L-60.4 224.0L-60.4 225.7L-61.4 225.9L-62.0 227.2L-61.5 227.6L-63.2 228.2L-64.3 229.6L-65.4 228.9L-66.4 227.1L-66.6 226.5L-67.4 224.2L-68.9 221.5L-69.6 219.3L-70.1 218.3L-70.7 217.2L-71.5 214.8L-72.2 212.6L-72.3 211.3L-72.5 209.6L-72.2 208.3L-72.5 206.9L-72.8 205.9L-73.4 206.4L-73.5 207.8L-75.4 208.3L-76.6 208.1L-78.4 206.2L-78.8 205.6L-76.7 204.6L-78.4 204.8L-79.3 204.2L-80.1 203.3L-81.3 203.0L-82.1 201.5L-83.0 200.5L-85.5 200.7L-88.0 200.8L-90.1 200.9L-91.2 200.9L-92.9 200.7L-95.5 200.4L-97.7 200.1L-98.7 198.0L-100.2 197.6L-102.4 198.5L-104.1 198.4L-105.3 198.2L-106.6 197.0L-108.3 196.3L-109.3 194.6L-110.0 193.5L-111.0 192.5L-112.5 192.0L-113.2 192.8L-114.2 192.9L-114.3 193.8L-114.0 194.5L-113.2 195.7L-112.0 197.2L-110.6 198.4L-110.5 199.5L-109.8 200.7L-109.5 201.6L-109.6 200.4L-108.8 199.3L-108.1 200.7L-108.1 201.8L-108.6 202.4L-106.6 202.5L-104.1 202.6L-103.4 202.1L-101.9 200.7L-100.6 199.4L-100.0 198.9L-100.1 200.2L-100.0 201.4L-99.4 202.4L-97.7 203.3L-96.3 203.6L-94.3 205.3L-95.1 207.2L-96.3 208.9L-97.7 209.3L-97.7 211.3L-99.7 213.0L-101.7 213.5L-104.1 214.6L-105.6 215.2L-107.1 216.4L-108.8 217.7L-112.3 218.8L-114.4 219.6L-117.6 220.7L-119.3 221.7L-121.8 221.9L-122.2 220.9L-122.8 218.3L-123.2 216.8L-123.0 215.6L-123.4 214.8L-124.8 213.0L-126.2 210.8L-127.7 209.1L-129.1 207.1L-129.5 205.4L-130.7 202.8L-132.4 201.0L-133.6 199.4L-135.3 197.0L-136.2 196.0L-136.2 193.6L-136.8 195.0L-137.4 196.6L-138.5 195.3L-139.2 195.2L-140.0 193.3L-140.3 192.9ZM467.4 192.9L467.1 193.6L467.6 194.8L468.5 196.0L469.2 196.8L469.6 197.5L470.3 199.5L471.4 201.4L472.4 203.0L472.7 204.6L474.7 206.2L475.2 207.9L475.3 210.3L475.8 211.8L477.5 213.0L478.6 216.0L479.1 217.1L480.3 218.1L482.0 219.0L484.0 221.0L485.2 221.9L485.6 222.5L485.4 223.8L486.7 225.6L488.4 225.7L491.8 224.4L495.2 224.2L499.0 223.3L498.5 225.7L498.2 228.1L496.5 230.6L495.2 233.1L493.5 235.6L490.9 239.0L488.9 239.8L486.7 241.5L484.2 244.0L482.5 246.1L480.3 247.7L479.5 249.9L478.6 251.6L478.8 254.6L479.1 257.5L479.6 260.0L480.8 260.8L481.0 264.2L481.0 267.6L481.2 269.2L479.1 271.3L476.6 272.3L474.7 273.3L472.4 275.1L471.4 276.5L472.0 279.3L472.4 281.0L472.2 283.5L470.7 284.9L468.2 285.7L467.5 286.9L468.0 289.4L467.1 291.2L464.8 293.4L463.1 295.8L460.6 298.3L459.5 298.6L457.2 300.0L455.7 300.3L452.1 300.5L449.6 300.7L446.2 301.7L444.2 300.8L443.5 300.2L442.8 298.1L443.3 296.1L441.7 294.1L440.3 291.2L439.0 289.4L437.9 287.9L437.6 285.2L436.9 281.7L435.4 278.5L434.1 275.1L432.4 272.1L432.4 270.1L433.2 267.6L435.1 264.2L435.7 261.7L434.7 258.0L434.1 255.0L433.2 253.3L432.7 251.6L432.4 250.8L431.0 249.4L428.8 247.4L427.1 244.4L428.1 242.7L428.5 241.5L429.0 239.3L429.0 237.7L428.5 236.6L427.5 235.5L426.5 235.6L424.3 235.8L422.6 236.0L421.4 234.5L420.0 232.8L418.2 232.4L415.0 232.8L412.4 233.6L409.1 235.1L406.5 234.6L405.7 234.3L402.3 235.1L399.8 235.8L397.3 234.8L394.2 232.6L393.0 231.6L391.3 230.6L390.2 228.9L390.0 227.2L388.0 225.6L387.1 224.7L385.4 223.4L384.3 222.4L384.1 220.5L382.9 218.5L384.6 216.3L385.3 213.0L384.9 210.4L383.8 208.3L383.8 207.1L384.9 204.6L385.8 202.9L387.3 201.2L388.0 199.2L389.8 197.5L390.7 196.3L393.0 195.3L395.2 194.0L396.1 192.1L395.9 190.3L396.9 188.6L399.6 186.8L401.0 186.1L402.0 184.4L402.5 183.1L403.5 182.9L405.2 184.1L407.4 183.9L409.1 184.2L411.4 183.2L414.1 181.9L417.5 181.4L420.9 181.4L425.1 181.0L429.0 180.5L431.0 181.0L430.2 182.0L430.3 183.6L430.7 184.9L429.5 186.2L431.2 187.4L434.7 187.9L438.1 188.8L438.6 190.3L442.0 191.3L444.5 192.3L446.2 191.1L446.2 189.3L448.7 187.9L451.3 188.4L453.0 189.4L455.0 190.1L458.5 190.6L461.4 191.3L463.1 190.8L464.8 190.3L467.0 190.7L467.4 192.9ZM495.7 263.4L497.4 268.9L496.5 270.9L495.8 273.4L494.3 277.6L493.0 281.8L492.0 285.0L489.3 286.0L487.1 285.2L485.9 281.8L485.7 279.3L487.4 276.8L487.4 272.6L488.2 270.4L490.6 269.7L492.3 268.1L493.5 266.0L494.8 264.2L495.7 263.4ZM547.3 226.9L548.0 227.2L549.5 228.9L550.5 230.6L550.4 232.3L548.5 233.2L547.5 232.4L547.2 230.6L547.3 228.8L547.3 226.9ZM402.8 159.1L403.8 159.2L405.5 158.6L406.5 158.4L407.4 158.0L408.3 158.3L410.3 157.9L412.9 157.9L414.1 157.7L414.8 157.3L414.9 156.9L413.5 156.8L414.1 156.3L414.6 155.9L415.4 155.0L414.6 154.3L413.3 154.2L412.8 154.5L413.0 154.0L412.7 153.3L411.9 153.0L412.6 153.2L412.3 152.3L411.4 151.6L410.4 151.4L410.1 150.8L409.7 149.9L409.1 149.5L408.1 149.0L406.9 149.1L408.1 148.6L407.7 148.4L408.3 147.9L408.9 147.2L409.4 146.6L409.1 146.3L406.7 146.3L405.5 146.5L405.7 145.8L406.9 145.3L407.3 144.7L404.7 144.8L404.0 144.7L403.5 145.3L403.5 145.9L402.7 146.4L402.9 146.9L402.8 147.5L402.0 147.9L403.0 148.3L403.2 148.8L403.0 149.6L402.7 150.3L403.5 149.6L404.2 149.2L404.5 150.0L404.0 150.8L403.8 151.1L404.2 151.4L405.0 151.2L406.5 151.0L406.4 151.6L407.0 152.3L407.6 152.2L407.3 152.8L407.4 153.4L406.0 153.7L404.7 153.6L405.1 154.0L404.4 154.5L405.5 154.3L405.5 155.2L404.5 155.7L403.5 156.0L403.8 156.4L405.2 156.4L405.8 156.5L407.0 156.8L407.9 156.5L407.4 157.1L405.4 157.2L404.9 157.5L404.0 158.4L403.2 158.9L402.8 159.1ZM402.3 155.5L401.6 155.5L399.8 155.8L398.4 156.1L396.2 156.7L395.1 156.2L395.7 155.5L394.9 155.6L396.1 154.8L396.6 154.2L395.6 153.4L395.7 152.6L395.6 152.1L397.9 152.0L397.8 151.3L398.4 150.6L400.1 150.2L402.0 150.5L403.0 151.3L403.2 152.0L402.2 152.5L402.2 153.7L402.3 154.7L402.3 155.5ZM433.5 179.7L434.9 179.0L436.9 179.3L438.8 178.9L438.1 180.5L437.9 181.5L436.6 181.1L434.7 180.4L433.5 179.7ZM426.3 174.5L428.0 173.9L428.9 175.2L428.7 177.3L427.6 177.7L426.6 177.5L426.6 175.5L426.3 174.5ZM436.1 113.0L437.8 114.3L439.5 114.6L441.1 114.5L442.0 113.0L443.7 112.2L445.3 111.5L447.1 112.2L448.7 111.7L446.5 111.7L444.5 110.8L443.7 109.5L441.6 109.2L439.5 108.8L437.3 108.8L435.2 109.3L433.2 110.0L431.0 109.5L431.9 110.8L433.7 110.9L435.2 111.8L436.1 113.0ZM499.6 123.9L501.1 124.3L502.8 124.3L504.4 124.4L506.1 124.4L507.6 124.6L509.2 124.6L507.8 123.6L506.6 122.2L506.1 120.9L503.6 120.1L502.8 121.7L501.1 122.6L499.6 123.9ZM503.6 119.9L505.3 119.9L507.0 120.1L508.7 119.9L510.0 118.9L512.0 117.7L513.9 117.8L515.4 116.7L517.2 117.0L518.7 115.5L520.5 115.9L522.2 115.6L523.8 115.0L525.5 115.0L527.1 114.5L528.6 114.0L527.0 113.8L525.4 114.1L523.9 113.8L522.1 113.9L520.5 114.3L518.8 114.7L517.2 115.3L515.4 115.3L513.7 115.4L511.6 115.9L509.5 116.4L508.0 117.4L506.1 117.2L504.4 118.5L503.6 119.9ZM572.8 110.5L574.5 110.6L576.2 111.2L577.9 110.8L579.9 110.0L582.1 110.0L581.2 108.8L579.2 107.9L577.0 108.1L574.9 108.6L572.8 108.8L570.3 109.5L572.8 110.5ZM580.4 112.2L582.6 112.4L584.6 111.8L586.3 111.2L588.1 111.5L589.7 110.8L587.9 110.9L586.3 110.0L584.3 110.8L582.1 110.6L580.4 112.2ZM644.5 117.2L646.2 117.5L649.6 117.4L653.8 117.2L655.5 116.2L650.5 115.5L646.2 115.9L644.5 117.2ZM652.1 165.9L654.5 164.7L653.5 163.4L654.0 160.9L656.4 160.9L654.3 158.4L654.3 155.8L654.0 153.7L653.3 152.0L652.7 153.3L651.8 155.3L652.3 157.5L652.3 160.0L652.1 162.6L652.1 165.9ZM649.3 173.5L650.8 173.0L650.3 171.8L651.8 171.6L654.3 172.6L656.4 171.0L658.4 170.5L657.4 169.1L654.7 168.8L652.1 166.9L651.6 168.4L651.0 170.5L649.3 170.6L648.6 172.1L649.3 173.5ZM633.4 186.1L635.1 186.1L636.1 185.6L637.8 185.4L639.8 184.9L640.8 185.1L640.5 186.2L641.7 186.9L642.5 185.9L643.5 185.4L644.0 185.1L645.7 185.1L646.7 184.2L646.7 185.0L647.4 184.1L648.4 184.4L648.4 183.4L648.9 183.6L648.6 184.5L649.4 184.1L650.2 183.1L649.8 181.9L650.5 180.2L651.3 178.9L652.1 176.8L651.8 175.5L651.1 173.6L650.3 174.2L649.3 174.0L648.8 175.0L648.8 176.5L648.3 178.2L647.8 179.0L646.2 180.4L644.2 181.4L644.2 180.2L643.2 180.9L643.0 181.7L642.0 182.7L641.8 183.4L640.7 183.4L639.1 183.4L637.3 183.4L636.3 183.9L634.4 185.1L633.4 185.6L633.4 186.1ZM635.9 186.9L637.0 185.9L639.0 185.5L639.8 186.3L639.0 187.3L637.3 187.4L636.4 188.1L635.9 186.9ZM631.4 187.4L632.6 186.8L633.6 186.2L634.8 186.9L635.1 188.1L634.3 189.9L633.1 191.1L632.2 190.6L632.2 189.1L631.6 188.3L631.4 187.4ZM615.2 204.4L616.4 206.3L617.4 204.6L618.2 201.5L617.7 200.8L616.7 201.2L615.3 203.2L615.2 204.4ZM595.9 210.9L597.3 212.5L599.0 211.6L599.8 210.2L598.6 209.4L596.8 209.9L595.9 210.9ZM615.5 216.2L615.7 213.8L616.2 212.1L618.2 212.5L618.7 214.1L618.7 215.8L617.7 216.7L617.9 218.8L619.2 219.3L621.6 220.0L621.9 222.0L620.6 221.4L619.2 220.2L617.9 219.8L616.2 219.8L616.0 218.8L615.2 218.3L614.7 216.2L615.5 216.2ZM618.4 231.4L618.9 229.9L620.6 228.8L622.3 228.9L624.3 227.9L624.3 226.7L625.6 228.6L626.0 230.9L625.5 232.6L624.3 231.8L624.1 233.8L622.1 232.6L621.8 230.9L620.6 230.6L618.4 231.4ZM610.3 229.1L612.1 227.7L614.2 225.4L613.8 224.0L612.5 226.1L610.5 228.1L610.3 229.1ZM596.4 240.7L597.5 239.8L598.6 240.3L600.2 240.8L600.5 239.2L603.0 238.0L604.7 235.6L606.6 234.8L608.3 233.1L609.4 231.4L611.1 232.4L611.1 233.3L613.7 234.1L612.3 235.0L611.0 236.1L611.5 237.7L611.3 240.0L613.3 241.5L611.5 241.9L610.8 244.5L609.1 245.7L608.9 248.1L608.6 249.9L605.9 250.1L605.6 248.9L603.2 248.6L601.2 249.1L598.5 248.1L598.1 245.9L596.4 243.9L596.4 240.7ZM573.3 233.8L577.0 234.5L578.4 236.1L581.1 238.2L582.6 239.5L585.0 240.8L587.0 242.4L587.7 244.9L588.8 246.2L591.2 247.9L591.4 248.7L591.0 252.9L589.0 252.9L587.7 251.6L585.1 249.9L583.4 247.7L581.9 244.9L579.7 242.7L579.1 240.3L577.4 239.2L575.3 237.0L573.5 235.1L573.3 233.8ZM590.0 254.6L591.5 253.1L593.1 253.2L595.6 254.3L599.0 254.8L599.6 254.0L602.5 254.8L605.7 256.3L605.6 257.8L602.4 257.3L598.1 256.8L594.8 256.3L592.1 255.6L590.0 254.6ZM609.6 257.5L611.5 256.8L613.3 257.1L613.3 257.9L611.3 258.2L609.6 258.3L609.6 257.5ZM614.7 257.3L617.5 257.5L620.1 257.1L619.7 257.8L616.7 258.2L614.8 258.0L614.7 257.3ZM620.9 260.5L622.4 259.0L624.3 257.6L627.3 257.3L626.0 258.3L623.5 259.3L621.9 260.3L620.9 260.5ZM614.7 241.9L616.4 241.0L620.1 241.7L622.6 241.2L623.8 240.5L622.3 242.5L620.1 242.4L617.2 242.4L615.2 244.2L616.2 245.6L617.7 244.7L620.7 244.5L619.6 245.9L617.9 246.4L618.9 248.9L620.4 251.1L619.2 252.3L618.4 251.1L617.7 250.1L616.5 249.1L615.7 251.3L615.7 252.6L614.2 252.4L614.2 249.1L613.0 247.9L613.8 245.4L614.7 243.2L614.7 241.9ZM627.8 239.5L628.5 241.2L629.7 240.7L628.5 242.4L629.4 244.5L628.3 243.7L627.5 241.5L627.8 239.5ZM628.3 248.6L631.0 247.9L633.2 248.9L631.0 249.1L628.5 249.2L628.3 248.6ZM633.6 244.5L636.1 243.9L638.6 244.5L639.0 247.2L640.3 248.7L642.9 246.9L645.4 245.9L648.8 247.2L650.5 247.6L653.0 248.6L656.4 249.6L658.6 251.4L659.7 252.6L661.9 253.6L660.6 254.6L661.8 256.5L663.1 258.3L665.6 260.3L667.0 260.5L664.8 260.6L662.3 260.3L660.6 259.2L658.9 256.8L656.4 256.0L654.7 257.0L653.8 258.5L651.3 258.7L648.8 257.0L645.7 257.3L644.9 255.6L646.7 255.0L645.4 252.4L642.0 250.9L638.6 249.8L637.0 250.1L636.6 248.7L635.3 248.1L638.1 247.4L636.1 246.9L633.6 245.6L633.6 244.5ZM662.8 252.8L664.8 252.4L667.3 251.6L669.4 250.3L669.4 251.6L667.7 253.1L665.6 253.8L663.1 253.3L662.8 252.8ZM689.3 277.0L691.8 278.6L694.3 280.7L693.2 280.5L691.0 279.2L689.3 277.5L689.3 277.0ZM711.7 272.9L713.9 272.8L713.8 273.8L711.9 273.8L711.7 272.9ZM104.1 272.9L106.2 272.8L106.1 273.8L104.2 273.8L104.1 272.9ZM604.4 281.2L605.2 279.8L607.4 278.5L609.6 277.8L613.3 276.8L616.7 276.1L618.9 273.6L618.7 271.9L621.1 272.4L621.1 270.8L622.6 270.4L623.8 268.6L625.5 267.1L626.8 266.6L628.9 268.1L631.0 268.2L631.4 266.0L633.1 264.2L635.3 263.7L636.3 262.4L637.8 263.0L640.7 263.7L643.4 263.7L642.0 265.4L641.2 268.1L643.4 269.9L645.7 271.4L647.9 272.6L650.1 272.6L651.1 270.4L651.5 267.6L651.5 264.7L652.5 261.7L653.2 261.2L654.7 264.4L654.8 267.2L656.5 267.4L657.7 268.9L658.4 271.4L659.2 274.8L661.4 275.8L663.6 277.3L664.8 280.5L667.0 281.2L667.0 282.8L669.0 284.4L670.9 285.7L671.1 288.6L671.7 291.2L670.9 294.1L670.0 297.6L668.2 299.1L667.0 302.0L665.6 304.7L665.5 306.2L662.6 306.9L659.6 308.9L658.1 307.5L656.9 306.9L654.8 308.4L651.3 307.7L649.4 306.9L648.3 305.2L647.4 303.2L645.6 303.2L646.2 301.5L645.1 298.6L644.5 300.5L643.7 302.3L642.0 301.8L641.3 301.5L640.7 300.0L638.6 298.3L636.1 297.0L633.6 296.1L630.2 296.5L626.8 297.3L624.3 298.0L621.8 298.8L620.9 300.2L617.5 300.2L614.7 300.3L611.6 302.0L609.1 302.0L606.7 300.8L607.8 299.1L607.8 296.6L606.7 294.3L605.9 291.6L604.9 289.1L603.7 287.2L604.7 286.0L604.0 284.4L604.4 281.2ZM656.7 311.6L659.7 312.2L662.6 311.7L662.8 313.8L662.1 315.8L660.2 316.4L658.6 315.9L657.7 314.3L656.7 312.4L656.7 311.6ZM704.0 301.0L705.3 302.0L706.8 302.5L707.3 304.2L708.9 304.9L709.4 306.4L711.6 307.0L713.4 306.4L713.6 307.5L712.7 309.1L711.2 309.4L711.1 310.6L709.9 312.1L708.4 313.1L707.3 312.6L708.2 310.7L707.2 310.1L705.8 309.2L707.2 308.4L707.5 306.2L706.7 304.5L705.0 302.8L704.0 301.0ZM96.3 301.0L97.6 302.0L99.2 302.5L99.7 304.2L101.2 304.9L101.7 306.4L103.9 307.0L105.7 306.4L105.9 307.5L105.1 309.1L103.5 309.4L103.4 310.6L102.2 312.1L100.7 313.1L99.7 312.6L100.5 310.7L99.5 310.1L98.1 309.2L99.5 308.4L99.8 306.2L99.0 304.5L97.3 302.8L96.3 301.0ZM704.0 311.2L704.8 312.4L706.7 313.3L705.3 314.9L704.1 316.1L704.6 317.0L701.6 317.6L700.8 320.1L699.1 321.3L696.7 321.5L694.3 320.8L693.5 320.0L695.7 318.0L697.4 317.0L700.3 315.4L701.6 313.8L703.0 311.9L704.0 311.2ZM100.2 374.7L108.6 374.7L125.5 375.2L142.4 374.6L147.4 372.9L155.9 373.1L162.6 371.9L166.0 370.0L176.1 369.5L184.6 368.5L196.4 367.5L209.9 367.5L220.0 367.9L226.8 368.9L238.6 369.5L242.8 367.2L247.0 364.2L252.1 365.3L260.5 365.5L269.0 366.2L277.4 366.2L284.2 365.5L287.5 363.8L290.9 361.3L294.3 358.8L297.7 356.6L301.0 354.6L304.4 352.4L309.5 350.7L313.7 349.5L316.2 350.0L313.7 351.6L310.3 353.2L307.8 354.9L305.3 357.4L307.8 360.0L309.5 362.5L310.3 365.8L308.6 368.4L311.2 370.0L319.6 371.7L328.1 373.4L336.5 374.2L344.9 374.6L351.7 374.2L356.7 373.1L361.8 371.7L366.9 370.5L371.9 368.4L378.7 366.7L385.4 365.5L392.2 363.3L397.3 362.1L404.0 362.1L412.4 360.5L420.9 361.1L429.3 360.8L437.8 360.5L446.2 361.0L454.6 361.1L463.1 359.6L468.2 358.6L473.2 360.1L476.6 360.6L480.0 359.1L485.0 357.1L490.1 356.6L495.2 355.8L500.2 354.1L505.3 354.4L508.7 355.4L513.7 356.6L518.8 356.6L525.5 357.1L528.9 358.3L532.3 359.6L537.4 360.3L540.7 359.6L544.1 358.1L549.2 356.6L554.2 355.4L559.3 355.3L564.4 355.1L569.4 354.9L574.5 354.4L577.9 353.4L582.9 353.7L589.7 354.9L594.8 355.4L599.8 354.4L604.9 354.4L609.9 355.8L615.0 355.4L621.8 354.9L628.5 355.6L635.3 354.4L642.0 354.6L648.8 355.3L653.8 355.8L658.9 356.9L664.0 358.1L669.0 358.6L674.1 359.3L679.2 359.6L684.2 361.3L689.3 362.0L694.3 362.3L699.9 363.2L699.4 365.0L697.7 366.7L694.3 368.4L691.0 370.0L688.4 372.6L691.0 373.9L696.0 373.7L702.8 374.2L709.5 374.6L716.3 374.7L724.7 374.9L724.7 399.4L100.2 399.4L100.2 374.7Z" fill="#c0c0c0" fill-opacity="0.200" stroke="none"/>
<path d="M257.0 164.7L259.9 164.9L263.1 164.6L265.1 165.1L269.0 164.9L269.5 164.2L267.6 162.7L265.6 161.4L263.4 161.0L261.4 162.6L259.3 163.1L257.0 164.7ZM264.2 172.6L266.1 173.1L266.8 171.6L266.8 169.3L268.5 167.3L269.0 166.3L266.8 166.3L265.6 167.1L264.4 167.9L264.6 170.1L264.2 172.6ZM269.5 166.3L271.5 167.3L271.8 168.9L273.2 170.8L274.5 170.1L275.2 168.3L277.2 168.3L277.7 167.3L275.7 166.1L273.2 165.8L270.7 165.8L269.5 166.3ZM271.7 173.1L273.2 173.6L275.7 173.0L279.1 171.5L278.3 171.1L274.9 171.6L272.3 172.5L271.7 173.1ZM277.7 170.5L279.9 170.4L282.8 170.3L283.8 169.3L281.6 169.3L278.9 169.6L277.7 170.5ZM248.9 158.5L249.9 157.0L248.4 155.0L246.7 153.0L245.3 153.5L246.7 155.5L247.9 157.2L248.9 158.5ZM215.0 140.7L218.3 140.9L221.7 140.0L225.1 138.5L227.6 137.7L224.2 137.9L220.0 138.5L216.6 138.5L215.0 140.7ZM201.4 132.2L205.7 134.0L209.9 133.2L213.3 131.8L210.7 130.6L205.7 131.0L201.4 132.2ZM294.3 269.1L295.5 269.2L296.3 270.8L295.0 270.4L294.3 269.1ZM492.6 171.0L491.4 168.8L492.6 166.8L495.2 165.2L498.5 164.4L501.9 164.7L501.9 167.1L499.0 167.6L497.4 168.4L498.9 170.6L501.4 171.8L501.1 173.5L503.3 174.7L501.9 176.8L503.3 177.8L503.4 180.5L500.2 181.5L497.4 180.5L495.2 178.9L495.7 177.0L496.0 175.2L494.3 173.0L492.6 171.0ZM466.0 244.5L466.5 242.9L469.0 242.5L470.2 243.7L469.8 245.4L468.7 247.1L467.0 247.6L466.1 246.2L466.0 244.5ZM461.9 248.9L462.4 250.8L462.8 253.3L464.1 255.5L464.9 257.8L463.9 257.3L462.6 255.0L461.7 252.4L461.6 250.3L461.9 248.9ZM469.8 259.2L470.7 260.8L470.9 263.4L471.9 265.9L471.7 267.2L470.9 266.7L470.3 264.2L469.8 261.7L469.7 259.7L469.8 259.2ZM587.7 156.5L589.7 156.3L592.2 154.8L595.3 153.0L597.6 150.5L597.3 149.5L595.6 151.3L593.6 153.3L591.4 154.5L588.8 155.8L587.7 156.5ZM511.2 169.3L512.5 167.3L514.2 165.4L516.3 165.1L515.4 167.3L513.4 168.4L511.2 169.3ZM536.5 166.8L539.0 164.9L542.4 164.9L545.8 164.9L544.1 165.6L540.7 165.8L538.2 166.8L536.5 166.8ZM464.6 142.4L465.6 140.7L463.9 139.7L467.3 140.4L468.2 141.6L466.5 142.4L464.6 142.4ZM470.3 140.7L472.0 140.6L473.7 138.7L471.5 137.9L470.9 139.0L470.3 140.7ZM433.4 144.9L434.7 144.9L436.1 143.7L434.9 143.5L433.7 144.1L433.4 144.9ZM435.2 221.4L436.9 221.7L437.4 220.5L436.1 219.8L435.2 221.4Z" fill="#c0c0c0" fill-opacity="0.200" stroke="none"/>
<path d="M128.7 133.0L131.7 132.0L134.8 131.5L136.0 132.2L139.3 132.0L138.1 130.8L135.1 129.5L131.4 128.5L131.9 127.4L136.5 126.8L137.5 125.8L139.2 125.1L143.2 124.3L148.1 123.3L151.7 124.1L155.5 124.2L158.4 124.8L162.6 125.1L166.8 125.5L171.1 125.4L174.4 126.2L177.8 126.4L180.9 127.4L183.7 126.8L185.9 126.4L188.3 126.3L191.3 125.7L193.3 125.3L196.0 124.7L197.2 125.3L200.9 126.5L202.5 125.4L204.8 125.9L207.4 125.9L211.6 126.8L215.8 127.4L219.7 128.0L218.0 129.2L221.7 129.5L225.9 129.1L228.8 130.0L230.1 129.1L229.1 128.4L233.0 128.0L236.1 128.9L239.9 129.3L242.8 129.2L246.4 129.3L247.0 128.2L248.4 128.1L250.1 128.5L250.7 130.1L251.2 128.9L252.9 127.8L254.5 126.4L252.9 125.1L249.9 124.6L249.7 123.5L252.8 122.3L255.5 123.4L256.6 125.1L258.0 126.3L259.3 126.4L260.5 127.8L263.7 127.6L263.9 128.5L264.8 130.0L266.4 129.5L267.8 127.9L268.1 126.1L273.2 126.0L275.2 126.9L274.0 128.0L275.2 129.6L273.2 131.3L269.3 131.9L267.3 132.2L265.9 131.5L266.4 132.8L264.4 133.5L265.6 134.8L262.9 135.5L260.5 135.8L259.2 136.7L256.6 137.6L254.8 139.2L253.3 140.9L252.6 142.2L252.8 144.2L255.1 144.5L256.1 147.1L258.8 147.0L262.2 147.7L264.6 149.0L267.8 149.8L270.3 150.4L273.4 150.5L273.7 153.2L273.9 154.7L275.4 155.5L276.6 157.0L278.3 156.8L279.4 155.8L279.4 153.5L278.8 152.1L277.9 151.1L279.9 150.1L282.6 148.8L283.1 146.9L281.8 145.3L279.9 144.4L281.5 142.9L281.6 141.6L280.6 140.2L280.8 138.5L283.3 138.4L286.7 138.6L289.6 139.5L291.4 140.0L293.4 140.6L295.0 141.7L295.1 143.6L296.8 144.5L298.5 145.3L300.5 144.6L301.9 142.7L303.6 141.8L304.4 143.2L306.1 144.9L308.1 147.1L308.8 149.0L310.7 150.3L313.7 151.5L315.7 152.0L317.1 153.5L318.3 155.2L316.6 156.7L313.7 157.2L310.7 158.9L307.8 158.8L304.4 158.8L300.5 158.9L299.0 160.2L296.5 161.0L294.5 162.7L292.8 164.3L293.8 164.1L296.0 162.4L298.8 160.9L302.4 160.5L303.9 161.1L302.2 162.6L302.7 163.9L303.2 165.4L305.3 166.1L307.8 166.2L309.3 166.5L311.0 164.6L311.5 165.9L309.5 167.2L306.4 168.0L304.1 168.9L301.7 170.1L300.7 169.1L301.9 167.9L303.9 166.9L301.4 167.3L299.4 167.5L297.8 168.4L296.0 169.1L294.3 169.7L293.1 170.8L292.9 171.8L294.0 172.7L294.4 173.1L293.1 173.4L291.9 173.5L290.1 173.9L287.9 174.5L287.5 175.2L287.4 176.5L286.0 177.8L285.2 177.0L285.7 178.5L284.3 180.7L283.7 178.4L283.3 180.0L283.7 181.1L284.3 181.7L284.9 184.0L283.3 184.9L281.5 185.9L279.8 186.3L278.6 187.4L276.6 188.9L275.4 190.3L274.9 192.0L275.4 193.6L276.4 195.5L277.2 198.0L276.9 200.4L275.7 200.9L274.5 199.7L273.7 198.2L272.9 196.5L272.9 194.6L271.5 193.1L270.2 192.7L268.5 193.3L266.8 192.1L264.2 192.3L262.4 192.1L261.2 192.5L261.7 194.1L260.0 194.1L258.3 193.8L256.3 193.5L254.1 193.3L252.4 193.8L250.9 194.8L248.9 196.2L248.0 197.5L248.5 199.6L247.7 202.0L247.4 204.9L248.2 207.1L249.2 209.8L250.4 211.1L251.8 211.8L253.4 212.6L256.0 212.0L258.0 212.1L259.3 210.8L259.9 208.4L261.4 207.4L263.9 206.9L265.6 207.1L265.9 208.3L264.8 209.9L264.2 212.3L263.4 213.6L263.4 215.3L262.4 216.5L263.9 216.7L266.4 216.7L269.0 216.4L271.2 217.3L272.0 218.1L271.5 220.5L271.3 222.5L271.0 224.6L271.7 225.8L273.0 227.2L274.5 228.1L275.9 228.3L277.7 227.5L279.1 227.2L280.8 227.6L281.9 228.7L282.6 229.3L283.7 228.2L284.8 227.1L285.0 225.5L286.0 224.6L287.2 224.2L288.9 224.2L290.6 223.2L291.9 222.4L292.4 223.0L291.1 223.8L291.8 224.8L292.1 226.4L292.4 227.6L291.6 227.9L292.5 224.9L294.0 224.0L294.0 222.9L294.6 222.7L294.8 223.9L297.0 224.5L297.3 225.4L300.5 225.4L302.6 226.2L303.9 225.7L306.1 225.2L308.0 225.2L306.4 225.7L307.3 226.7L309.5 227.2L309.8 228.8L311.3 229.3L313.5 230.9L313.9 231.8L315.9 233.1L318.1 233.3L321.0 233.4L323.0 234.0L324.8 235.5L326.0 236.3L326.9 239.5L328.2 241.4L327.4 242.9L326.4 243.4L327.4 243.7L329.2 243.5L330.8 243.7L330.6 245.6L332.3 244.3L334.5 245.0L336.8 246.0L337.3 247.6L339.0 247.2L341.7 248.0L344.9 248.0L347.5 249.4L349.7 251.3L352.7 251.9L353.6 255.1L353.4 257.8L352.0 259.7L350.0 261.7L349.1 263.5L347.5 265.0L346.6 267.6L346.8 270.1L346.3 272.9L345.4 274.4L345.3 276.3L344.3 277.8L343.2 280.0L341.7 281.7L339.5 281.8L337.2 282.3L335.8 283.2L334.1 283.6L331.6 285.4L330.4 286.9L330.4 289.4L330.1 291.2L328.2 292.8L326.9 294.9L324.8 297.1L323.5 298.9L322.3 299.9L321.6 301.0L319.8 301.9L317.6 301.8L314.9 301.1L313.9 300.2L313.7 301.2L315.6 302.3L315.7 303.8L316.7 304.7L315.2 307.2L312.9 308.1L309.5 308.6L307.5 308.5L307.5 310.9L306.6 312.1L302.7 311.7L302.7 313.9L303.9 314.4L305.1 314.9L302.9 315.3L302.2 317.1L301.7 318.9L298.7 320.1L298.5 321.3L301.4 322.5L301.2 323.8L298.5 325.7L296.1 327.7L295.6 328.9L297.0 331.1L295.1 330.9L292.9 331.9L292.6 333.6L290.9 333.2L288.4 331.9L286.5 330.6L285.3 328.5L285.0 326.0L285.0 323.5L286.5 322.0L284.8 321.5L286.4 320.0L288.2 318.8L289.2 316.3L289.6 314.1L288.9 313.3L287.9 312.9L288.0 310.4L288.7 309.2L288.2 306.4L289.1 305.4L289.6 303.3L290.9 301.2L291.6 298.6L291.6 296.1L291.9 293.4L291.9 291.6L292.8 288.9L293.3 286.7L293.6 283.5L293.6 282.0L294.1 279.0L294.0 276.3L293.7 274.1L292.1 272.8L290.1 271.4L287.5 270.1L285.5 268.9L283.7 266.7L283.5 265.7L282.3 263.5L281.3 261.7L280.3 259.7L279.4 257.6L278.3 255.8L277.1 254.3L275.6 253.3L275.2 251.1L276.7 249.1L277.6 247.6L275.9 247.1L275.9 245.0L276.9 243.9L277.2 242.2L278.8 241.4L279.4 240.2L279.9 238.8L281.5 238.5L282.1 236.8L281.6 234.8L281.8 232.6L281.0 231.1L280.1 229.8L279.3 228.1L278.1 228.2L276.9 229.3L276.9 230.6L275.9 231.0L274.5 229.8L272.5 229.4L271.3 228.9L271.2 228.1L269.3 226.9L267.8 226.4L267.6 224.9L266.3 223.2L264.6 221.4L264.2 220.9L262.2 220.7L260.2 220.1L258.0 219.7L256.6 218.7L254.6 216.8L252.8 216.0L250.4 216.8L247.9 216.4L245.7 215.5L243.7 214.6L240.6 213.0L237.9 212.5L235.5 210.9L234.2 209.1L234.7 207.1L233.9 205.2L232.2 203.6L230.3 201.5L228.0 200.0L227.6 198.3L225.9 197.0L224.2 195.5L222.2 193.1L221.5 191.0L219.0 189.9L218.7 191.5L219.8 193.3L221.7 195.3L222.9 197.3L224.4 199.7L225.6 202.0L227.6 204.2L226.6 204.6L224.7 202.5L223.1 201.4L223.1 199.5L220.9 198.3L218.7 197.0L219.7 195.5L217.3 193.5L215.8 191.1L214.8 188.6L212.8 186.4L211.1 185.7L208.9 185.2L207.9 183.4L206.5 181.5L205.7 179.9L204.5 178.4L203.3 176.3L202.6 175.3L203.0 173.0L202.3 171.3L203.0 169.3L203.1 165.6L202.0 162.1L204.5 162.4L205.8 163.6L205.7 161.7L204.7 160.7L202.5 159.4L200.4 158.4L197.6 157.5L196.7 155.8L195.0 154.0L193.0 152.5L192.5 150.8L190.5 150.1L189.5 148.6L187.4 147.3L186.3 145.6L183.7 144.6L181.9 145.4L179.5 144.2L176.5 142.9L173.6 142.4L169.7 142.4L166.8 141.6L164.3 140.9L162.1 142.1L159.8 142.7L157.6 143.6L156.2 143.4L157.1 141.4L159.2 140.4L156.7 140.9L154.9 142.2L153.3 143.6L152.2 145.3L150.0 146.3L147.4 147.8L144.9 149.1L141.5 150.1L138.1 150.9L134.4 151.6L136.8 150.6L139.8 149.6L141.9 148.8L144.6 147.4L146.4 145.6L147.3 144.4L144.9 144.5L142.2 144.6L139.2 144.7L139.0 143.6L139.0 142.4L136.1 142.7L133.6 141.2L133.9 139.9L132.2 139.0L134.3 137.4L137.3 137.2L140.0 136.5L140.9 135.2L139.3 134.8L137.3 134.8L134.3 134.9L131.7 134.7L130.9 133.7L128.7 133.0ZM337.8 142.6L335.6 141.9L333.7 140.7L331.4 140.7L329.8 140.1L328.9 138.7L327.6 137.6L326.4 136.5L326.0 134.9L324.7 134.0L323.0 133.1L322.1 131.3L321.6 129.3L323.3 128.0L324.6 126.7L326.4 126.4L323.8 125.6L322.0 125.2L320.3 124.6L320.8 122.9L318.6 121.2L317.1 118.9L315.7 117.9L314.5 116.7L312.3 116.4L310.3 115.5L308.2 115.1L306.1 115.2L304.3 115.7L302.3 114.9L300.5 115.6L298.6 115.7L296.8 115.2L295.1 114.8L293.4 114.2L291.9 113.0L293.5 112.4L295.1 112.5L293.3 111.9L291.5 111.7L289.6 111.8L290.9 110.8L292.9 110.7L294.9 110.6L296.8 110.1L298.7 109.8L300.3 108.9L302.2 108.8L299.4 108.0L301.4 107.9L303.2 106.9L305.3 106.8L307.3 106.1L309.5 105.7L311.2 105.9L312.9 105.4L314.6 105.4L316.2 104.9L317.9 105.0L319.6 104.6L321.3 104.7L323.0 104.7L324.7 104.5L326.4 104.9L328.0 104.5L329.7 104.6L331.4 103.8L333.1 104.3L334.8 104.1L336.5 103.9L338.2 104.0L339.9 104.1L341.5 103.3L343.2 103.4L344.9 103.3L346.5 103.4L348.1 103.4L349.6 103.4L351.2 103.2L352.7 102.5L354.3 102.9L355.9 102.8L357.6 102.7L359.3 103.0L361.0 103.2L362.6 103.3L364.4 102.8L366.0 103.4L367.6 103.3L369.1 103.7L370.6 103.7L372.2 103.6L373.6 104.3L372.0 104.9L370.2 105.4L372.2 105.5L374.2 105.7L376.2 105.6L377.7 105.4L379.2 105.7L380.7 106.1L382.3 105.3L383.8 105.9L385.3 106.6L386.8 106.4L388.3 106.2L389.8 105.5L391.3 106.1L389.7 106.9L388.0 107.5L385.8 107.7L383.8 108.5L381.6 108.7L379.5 108.8L381.2 110.5L379.7 111.6L377.8 111.7L379.1 112.5L380.4 113.3L377.8 114.5L379.5 115.9L377.8 117.2L379.9 118.2L378.0 118.6L376.2 118.9L374.5 120.2L373.0 120.8L371.4 121.2L372.9 122.0L374.5 122.6L375.7 124.3L372.8 125.1L371.1 124.7L369.4 124.4L370.5 125.6L371.9 126.1L370.1 127.2L368.1 127.8L366.3 128.4L364.4 127.6L362.7 128.5L360.6 129.0L358.4 129.0L357.0 130.1L355.4 131.0L353.2 131.5L351.2 132.5L349.3 132.4L347.5 133.0L346.0 133.5L344.6 134.0L343.7 135.7L341.9 137.4L340.6 138.3L340.2 139.9L339.5 141.9L337.8 142.6ZM308.6 131.5L306.8 132.5L305.3 134.0L302.7 133.2L301.0 133.0L299.4 132.7L300.2 134.1L301.7 134.8L302.7 136.0L300.2 137.0L297.7 136.0L299.3 137.0L300.5 138.5L302.4 139.0L300.2 139.2L298.2 138.3L296.0 138.2L293.8 138.3L291.8 137.4L290.0 136.3L288.4 135.2L286.7 134.7L285.0 135.8L283.3 134.7L281.6 135.2L280.8 134.0L282.5 133.8L284.2 134.0L285.8 133.5L287.5 133.7L288.4 132.0L290.1 130.1L288.4 129.2L286.7 128.3L285.1 127.4L283.4 126.6L281.6 125.9L279.9 125.3L277.4 125.9L275.9 125.4L274.4 125.8L272.9 125.6L271.3 125.7L269.8 125.6L267.9 125.1L265.9 125.4L263.9 125.1L261.4 123.9L260.5 121.9L262.2 120.2L263.8 119.4L265.6 119.7L267.3 119.2L269.8 120.2L271.9 119.8L274.0 119.4L276.6 120.7L278.7 120.9L280.8 120.9L282.5 121.3L284.2 121.7L286.0 121.8L287.5 122.7L289.5 123.8L291.8 123.9L293.4 124.4L295.1 124.8L297.7 126.1L298.8 127.3L300.4 128.1L301.9 129.0L303.4 129.9L305.3 130.1L307.0 130.7L308.6 131.5ZM281.6 114.5L279.9 114.5L278.3 115.5L276.6 115.2L274.6 115.6L272.6 114.9L270.7 114.8L269.1 114.7L267.6 114.8L266.1 114.1L264.6 114.3L263.1 114.7L261.4 113.3L263.4 112.5L265.6 112.3L267.3 112.1L269.0 111.8L267.4 110.9L265.6 110.8L267.2 109.9L269.0 109.6L266.4 108.3L268.4 107.5L270.4 107.9L272.3 107.8L270.6 108.2L269.0 107.0L267.2 107.8L265.6 107.1L263.9 107.3L262.3 106.3L260.5 106.9L258.8 106.4L260.4 105.6L262.1 105.4L263.9 105.3L265.6 105.5L267.3 105.1L269.0 105.1L270.6 104.3L272.4 105.0L274.0 104.3L275.7 104.0L277.4 104.1L279.1 104.2L280.8 103.7L282.4 103.3L284.1 103.3L285.9 103.8L287.5 103.6L289.2 103.3L290.9 104.0L292.6 103.2L294.3 104.2L296.0 103.9L297.7 103.8L299.2 103.6L300.8 103.6L302.3 104.1L303.9 104.2L305.4 104.1L306.9 104.6L304.8 105.0L302.7 105.9L300.9 105.7L299.4 106.9L297.7 107.1L296.1 108.1L294.5 108.9L292.6 109.1L290.8 109.1L289.2 109.6L287.4 109.7L285.9 110.5L284.2 112.2L282.7 113.2L281.6 114.5ZM277.4 117.9L275.7 118.1L274.0 118.0L272.3 118.3L270.7 117.4L269.0 117.8L267.3 118.0L265.6 117.9L263.9 117.8L262.2 117.6L260.5 117.9L258.7 117.9L257.2 116.9L257.2 114.8L258.8 115.5L260.5 115.0L262.2 115.2L264.0 114.9L265.6 115.6L267.3 115.7L269.0 116.0L270.6 116.4L272.3 116.6L274.0 116.0L275.7 116.2L278.3 116.9L277.4 117.9ZM263.9 111.7L262.2 111.3L260.5 112.1L258.8 111.8L257.2 111.0L255.5 110.5L253.4 109.6L251.2 109.5L249.6 108.1L251.4 107.1L253.6 107.5L255.5 106.8L257.2 107.0L258.9 107.6L260.5 108.1L262.3 108.2L264.0 108.6L265.6 109.5L263.9 111.7ZM240.8 126.1L238.6 127.4L236.5 127.2L234.4 127.1L232.7 127.4L231.0 128.0L229.3 127.8L227.3 127.8L225.4 128.5L223.4 128.0L221.2 128.0L219.2 126.9L217.4 126.1L215.5 126.4L214.1 124.8L215.8 125.3L217.4 123.9L219.2 124.4L217.5 124.0L215.9 123.2L214.1 123.2L211.6 122.7L212.9 121.6L214.6 120.5L216.6 120.9L218.3 120.1L220.0 120.3L221.7 120.4L223.4 120.4L225.1 120.9L227.1 121.7L229.3 121.7L230.1 120.2L232.2 119.8L234.4 119.7L235.2 121.4L236.1 123.6L238.2 124.0L240.3 124.8L240.8 126.1ZM204.0 123.6L202.1 123.5L200.6 122.2L200.5 120.6L201.4 119.2L203.1 118.2L204.8 117.8L206.5 118.0L208.2 118.2L210.2 118.1L212.1 118.9L214.1 118.5L216.6 120.1L215.1 121.1L213.2 121.3L211.6 122.2L210.0 123.1L208.2 123.2L206.0 122.8L204.0 123.6ZM231.8 117.2L230.1 117.3L228.4 116.9L226.8 117.5L225.1 117.1L223.4 118.1L221.7 117.2L220.0 117.7L218.3 117.4L216.6 117.1L215.0 116.9L216.6 115.2L218.6 115.2L220.6 115.5L222.5 115.0L224.2 114.4L225.9 114.4L227.6 114.3L229.6 114.5L231.5 115.3L233.5 115.5L231.8 117.2ZM248.7 122.7L246.5 122.5L244.5 123.2L243.0 122.7L241.9 121.5L240.3 121.4L241.1 119.7L243.2 119.4L245.3 119.0L247.1 119.2L248.7 120.1L249.6 121.2L248.7 122.7ZM259.7 120.9L257.7 122.1L255.5 122.1L253.3 121.8L251.2 121.1L251.2 119.0L252.9 118.5L254.6 119.1L256.3 118.7L258.2 118.6L260.0 119.2L259.7 120.9ZM248.7 116.4L247.0 116.3L245.4 117.4L243.7 117.2L241.9 117.5L240.2 117.4L238.6 116.8L236.9 116.7L238.6 115.0L240.2 114.4L241.9 114.4L243.7 114.3L245.8 113.9L247.9 114.7L248.7 116.4ZM251.6 127.3L249.6 128.1L245.3 127.4L244.8 126.3L248.7 125.8L251.6 127.3ZM277.1 136.2L275.1 136.2L273.2 136.2L271.0 136.1L269.0 137.0L267.4 136.1L265.6 136.4L267.3 134.7L268.9 134.3L269.8 133.0L272.0 133.6L274.0 134.7L275.4 135.5L277.1 135.7L277.1 136.2ZM217.5 114.7L215.4 114.6L213.6 115.9L211.6 115.9L209.6 116.0L207.7 115.3L205.7 115.4L207.2 114.9L208.2 113.7L210.2 113.3L212.2 113.5L214.1 113.2L215.7 114.2L217.5 114.7ZM247.0 112.5L245.3 112.3L243.7 113.0L242.0 112.7L240.3 112.7L238.5 112.4L236.9 111.8L235.2 111.3L236.7 110.1L238.6 110.0L240.3 110.0L241.9 110.5L243.7 110.2L245.3 110.8L247.0 112.5ZM312.4 163.2L317.9 163.1L319.1 164.4L321.0 163.6L322.1 164.7L323.5 163.2L322.3 161.6L321.3 160.2L318.4 159.4L318.6 156.7L316.6 157.0L314.9 159.9L312.4 161.7L312.4 163.2ZM204.2 161.9L201.8 161.6L198.9 160.0L195.9 158.0L197.6 157.7L200.9 158.9L203.1 160.4L204.2 161.9ZM149.1 211.3L150.0 211.4L151.1 210.4L150.6 209.7L149.4 209.2L149.0 210.1L149.1 211.3ZM269.1 206.4L270.7 206.2L272.0 205.7L273.7 205.1L272.7 205.1L270.3 205.2L271.8 204.6L274.0 204.2L276.4 204.4L278.3 205.4L279.9 205.7L281.6 206.7L283.3 207.6L284.8 208.3L287.2 209.2L287.0 209.5L285.0 209.8L281.3 209.9L282.3 208.8L280.4 208.3L279.1 207.0L276.6 206.2L274.4 205.9L272.7 205.9L270.8 206.4L269.1 206.4ZM286.9 212.3L287.9 212.8L289.6 212.7L291.4 213.4L292.6 212.5L294.1 212.5L296.0 212.3L297.0 212.0L296.0 211.1L294.5 210.1L292.6 209.8L291.3 210.0L289.6 209.8L288.6 209.9L289.6 210.8L290.2 212.0L288.4 212.1L286.9 212.3ZM280.3 212.5L282.1 213.4L283.7 213.1L282.6 212.3L281.0 212.1L280.3 212.5ZM299.0 213.0L301.5 213.0L301.5 212.2L299.2 212.1L299.0 213.0ZM297.0 331.4L295.1 331.6L293.6 332.2L293.8 333.2L292.1 333.9L290.9 334.8L294.3 335.4L296.8 336.1L298.8 337.2L300.2 335.9L302.4 335.1L300.2 334.6L298.5 333.8L297.3 332.4L297.0 331.4ZM374.1 136.0L378.2 136.5L380.7 136.7L384.6 136.0L387.8 135.0L389.5 133.8L387.8 132.3L385.4 131.5L382.9 132.2L381.6 132.0L378.7 132.2L376.5 133.2L374.6 131.6L372.3 132.2L371.3 133.2L374.8 133.3L375.3 134.2L371.9 134.2L375.3 135.2L374.1 136.0ZM249.6 117.7L254.6 117.7L254.6 116.4L250.4 116.2L249.6 117.7ZM275.7 120.9L280.8 121.1L284.2 120.2L279.9 119.4L276.6 119.6L275.7 120.9ZM281.6 130.3L285.0 130.1L285.3 129.0L282.5 128.6L281.6 130.3ZM221.7 113.2L226.8 113.3L225.9 112.2L220.9 112.2L221.7 113.2ZM221.7 111.7L226.8 111.7L226.8 110.8L221.7 111.0L221.7 111.7ZM247.0 112.3L252.1 112.5L251.2 111.0L247.0 111.2L247.0 112.3ZM250.4 113.2L254.6 113.0L253.8 112.3L250.4 112.5L250.4 113.2ZM233.5 113.8L236.1 113.7L236.1 112.7L233.9 112.8L233.5 113.8ZM210.7 116.2L214.1 116.4L213.3 115.4L210.7 115.5L210.7 116.2ZM232.7 120.6L236.1 120.6L235.2 119.4L232.7 119.6L232.7 120.6ZM272.3 138.7L277.4 138.4L276.6 137.4L273.2 137.5L272.3 138.7ZM276.9 139.4L278.6 139.4L278.3 138.4L277.1 138.5L276.9 139.4ZM243.7 109.1L246.2 109.1L245.8 108.5L244.0 108.5L243.7 109.1ZM258.8 113.3L261.4 113.3L260.9 112.7L258.8 112.8L258.8 113.3ZM244.5 119.2L247.9 119.2L247.0 118.5L244.5 118.7L244.5 119.2ZM467.4 192.9L467.0 190.7L469.2 191.0L470.3 190.4L471.2 189.1L471.7 187.6L472.5 185.7L473.0 184.1L472.9 182.4L473.6 181.5L472.4 181.7L470.9 181.4L469.3 182.4L467.5 182.6L466.3 181.7L464.3 181.2L463.8 182.2L461.7 182.2L460.2 181.4L458.7 181.0L458.5 179.9L457.0 178.9L457.9 177.8L457.5 177.2L456.5 176.8L456.7 176.0L457.7 175.4L458.9 175.4L461.2 175.3L462.2 174.7L461.6 174.2L463.6 174.0L465.5 173.8L467.0 173.0L468.7 172.6L471.5 172.6L473.2 173.3L473.9 173.8L475.8 174.2L477.4 174.4L479.5 174.3L480.8 174.2L482.5 173.5L482.8 172.3L482.3 171.3L480.5 170.6L479.5 170.0L476.9 168.6L475.6 168.1L474.6 167.4L474.7 166.9L475.9 166.6L476.6 165.8L477.1 164.7L478.8 164.1L476.9 164.1L475.4 164.4L474.2 164.7L472.0 165.4L471.4 165.8L471.7 166.6L472.4 167.0L474.1 166.9L473.7 167.5L472.2 167.6L470.7 168.1L469.5 168.6L469.0 168.3L469.0 167.4L467.3 166.9L468.7 166.2L469.2 165.8L467.3 165.8L466.1 165.4L466.3 164.8L464.4 165.1L463.4 166.3L462.6 167.3L461.2 168.1L460.7 168.9L460.7 170.3L459.5 170.6L459.5 171.5L459.0 171.8L459.7 172.6L460.1 173.5L461.4 173.9L461.2 174.3L459.7 174.3L458.7 174.6L457.7 175.1L456.8 175.7L457.7 174.9L456.3 174.7L454.8 174.4L453.6 174.5L452.8 174.8L453.5 175.7L452.6 175.5L452.6 176.1L451.9 175.6L451.9 176.1L451.1 175.3L451.1 175.0L450.6 175.5L450.6 176.2L451.3 177.2L451.1 177.9L452.1 178.5L453.0 179.0L453.0 179.9L452.3 179.4L451.3 179.5L451.6 180.2L450.9 180.1L451.4 181.5L451.6 182.0L450.6 181.4L450.4 182.0L449.8 181.0L449.1 181.4L448.9 180.2L448.4 179.7L448.4 179.1L448.2 178.9L447.5 178.0L447.5 177.5L446.5 176.7L445.2 175.3L445.2 173.8L445.4 173.0L444.4 172.1L443.0 171.5L441.5 170.8L440.1 170.1L439.3 169.8L438.1 168.9L437.6 167.8L436.9 167.1L435.9 167.9L435.2 166.8L435.7 166.5L434.6 166.3L433.2 166.9L433.6 167.8L433.2 168.9L433.7 169.2L435.2 170.0L436.1 171.5L437.3 172.5L438.1 172.8L439.8 172.8L439.3 173.5L441.0 174.2L442.8 174.9L443.7 175.7L443.4 176.3L442.7 175.6L441.5 175.2L440.5 176.2L440.4 176.7L441.4 177.5L441.3 177.8L440.4 178.2L440.4 178.9L439.5 179.5L438.9 179.4L438.9 178.9L439.3 178.3L439.8 177.8L439.6 177.2L439.1 176.2L438.3 175.8L437.8 175.3L437.3 174.9L436.6 175.0L436.5 174.6L435.6 173.9L434.5 173.9L433.1 173.1L432.2 172.3L431.2 172.0L430.2 171.0L429.8 170.1L429.5 169.3L429.1 169.2L427.5 168.6L426.3 169.3L425.1 169.6L424.8 169.8L423.8 170.6L422.4 170.8L421.5 170.5L420.2 170.3L419.0 170.1L417.9 170.8L417.6 171.8L418.0 172.1L417.7 172.9L416.2 173.6L414.5 174.2L413.9 174.8L412.8 175.8L411.9 176.9L412.8 178.1L411.6 178.9L411.3 179.9L410.3 180.1L409.2 181.1L408.7 181.5L406.5 181.5L405.0 181.5L403.4 182.5L403.0 182.7L402.2 182.4L401.8 181.9L401.6 181.2L400.6 180.7L399.1 181.0L397.3 181.0L397.6 179.5L397.6 178.7L396.4 178.0L396.7 177.1L397.4 175.7L397.8 174.1L397.5 172.8L397.4 172.0L396.8 171.1L397.3 170.6L398.3 170.3L399.1 169.7L400.6 170.0L402.6 169.9L404.9 170.3L406.0 170.2L407.4 170.4L409.4 170.4L409.9 170.0L410.3 168.3L410.6 166.6L410.4 165.6L409.3 164.9L408.8 164.1L407.7 163.4L406.5 163.0L405.1 162.9L404.4 162.5L405.2 162.2L404.4 162.0L404.9 161.6L406.4 161.3L407.4 161.1L407.9 161.6L409.1 161.5L409.8 161.5L409.7 160.5L409.2 159.7L410.3 159.7L410.6 160.3L412.1 160.4L412.6 160.0L412.8 159.7L414.3 159.3L415.2 158.9L415.2 157.8L415.6 157.6L416.8 157.4L418.1 156.9L418.7 156.5L419.2 155.8L420.1 155.0L420.5 154.2L421.6 153.8L422.9 153.5L424.1 153.4L424.8 153.0L426.1 153.0L426.8 153.2L427.1 152.6L427.5 152.3L427.0 151.9L427.4 151.5L427.0 151.0L427.1 150.6L426.1 149.9L426.1 149.0L426.2 147.9L427.0 147.3L428.3 147.2L429.2 146.5L430.3 146.2L430.2 146.8L430.2 147.4L429.7 147.9L430.8 148.4L430.4 148.9L429.7 149.0L429.7 149.5L429.0 150.0L428.7 150.5L428.5 151.1L429.3 151.3L429.4 151.6L429.6 151.9L430.8 151.8L430.8 152.5L431.9 152.5L432.9 152.2L433.6 151.7L434.6 152.0L435.6 152.2L436.4 152.6L439.5 152.1L441.0 151.5L443.3 151.1L444.2 151.5L443.8 151.8L445.2 151.9L446.0 151.7L446.1 150.9L447.1 150.9L448.1 150.3L448.1 149.6L448.0 149.0L447.9 148.3L448.0 147.4L448.6 146.8L450.6 146.2L451.6 146.9L452.3 147.4L453.1 147.4L453.6 146.9L453.6 145.9L453.8 145.2L452.5 145.2L452.1 144.6L452.0 143.7L454.2 143.3L456.0 143.1L457.9 143.3L459.7 143.3L460.1 142.9L461.4 142.5L463.4 142.5L462.2 142.1L460.7 141.7L460.9 141.2L459.2 141.6L457.9 141.6L456.2 141.9L454.6 142.1L453.0 142.4L451.2 142.7L450.6 142.1L449.9 141.7L448.6 141.4L448.4 140.6L448.7 139.8L448.4 138.5L448.1 137.7L448.7 137.2L450.1 136.6L450.9 136.0L452.3 135.3L453.6 134.5L455.3 134.0L455.2 133.2L454.0 132.8L453.2 132.7L451.9 132.7L450.1 132.8L449.8 133.1L448.9 133.5L448.7 134.2L448.2 134.7L448.9 135.0L448.1 135.7L446.7 136.2L445.0 136.7L444.4 137.0L443.3 137.5L442.7 138.2L441.8 138.5L441.9 139.5L441.4 139.9L441.5 140.9L441.5 141.3L442.3 141.5L443.7 142.0L444.4 142.6L444.4 143.2L443.3 143.6L442.7 144.3L441.1 144.8L440.6 145.6L440.6 146.3L440.2 147.3L440.1 148.0L439.5 148.8L438.8 148.9L437.3 148.9L436.7 149.9L436.4 150.1L435.1 150.2L434.1 150.1L434.4 149.8L433.9 149.0L433.5 148.6L434.2 148.4L434.1 148.0L433.0 147.3L432.6 146.6L432.5 146.3L431.9 145.6L431.4 145.1L431.3 144.2L430.9 143.7L430.4 143.3L430.5 142.6L430.2 143.2L429.8 143.9L429.0 144.2L427.8 144.8L426.8 145.3L426.0 145.6L424.4 145.8L423.6 145.6L421.9 144.7L421.9 144.2L421.2 143.6L421.2 142.7L421.1 141.7L420.8 140.7L420.7 139.9L421.1 139.0L422.1 138.5L422.8 138.2L424.3 137.4L425.4 137.2L426.8 136.6L428.5 136.2L429.0 135.7L430.3 134.8L431.4 134.2L432.7 133.5L433.2 132.8L434.2 132.0L434.4 131.1L436.8 130.1L437.4 129.5L438.3 129.0L440.0 128.2L440.5 127.8L441.7 127.1L442.8 126.4L444.4 126.1L445.9 125.4L447.9 125.4L449.6 125.1L451.3 124.6L452.5 124.5L454.0 123.9L456.0 123.6L457.5 124.0L459.0 123.8L460.6 124.2L462.6 124.4L464.9 125.0L463.4 125.5L461.4 125.4L463.9 125.9L464.6 126.4L466.1 126.1L468.3 126.5L469.2 126.8L471.7 126.9L474.1 127.3L476.6 128.3L479.6 128.8L481.2 129.8L482.2 130.8L480.8 131.8L477.4 132.2L474.1 131.8L471.5 131.6L469.8 131.1L467.3 130.4L469.0 131.3L470.5 132.5L471.2 134.0L471.4 134.8L473.0 135.2L474.1 135.8L476.4 135.8L475.4 135.0L474.2 134.3L474.6 133.7L476.3 133.8L477.4 134.3L479.6 134.6L480.8 134.8L480.3 134.0L479.6 133.0L481.2 132.3L483.5 131.5L485.9 132.0L486.9 132.2L487.1 131.5L486.4 130.3L486.7 129.3L485.5 128.0L487.2 128.1L490.1 128.5L491.1 129.3L489.9 130.5L491.1 130.9L493.0 130.8L494.5 129.6L498.2 128.4L501.9 128.5L503.6 128.6L503.4 127.4L505.3 128.1L509.2 128.0L512.0 128.3L514.6 127.4L514.2 126.1L515.4 125.9L521.3 126.9L524.7 127.6L527.6 128.3L528.9 127.4L526.1 126.1L525.4 124.8L526.1 123.4L527.9 122.4L528.9 121.1L530.6 120.6L533.6 120.7L535.3 121.1L535.0 122.6L534.5 123.9L535.7 126.4L536.9 128.1L534.0 130.3L533.1 131.1L534.8 131.3L537.2 130.6L538.5 129.3L537.4 128.0L538.2 127.1L537.0 125.8L537.9 123.9L536.3 122.6L539.0 120.9L543.4 121.2L545.0 121.6L548.7 122.2L548.3 120.7L548.8 119.7L554.2 119.2L559.0 118.9L559.6 117.2L564.4 116.2L570.3 115.4L575.3 115.4L579.6 114.7L582.9 113.8L588.5 112.7L591.9 113.2L593.9 114.0L600.7 114.3L604.0 115.2L604.4 116.5L602.4 117.4L596.4 118.5L593.1 119.6L591.9 120.2L595.3 120.1L599.0 119.2L603.2 119.2L604.9 119.6L607.4 119.4L613.0 119.6L612.5 120.4L616.7 120.6L620.4 120.6L621.8 119.4L626.8 119.7L629.4 120.2L630.5 120.9L631.0 122.4L630.5 123.9L633.6 124.3L636.4 122.9L640.3 122.9L644.5 123.4L647.1 123.1L648.3 121.7L650.0 120.7L654.7 121.1L658.9 121.6L664.0 121.9L666.5 123.1L669.9 123.9L674.9 123.8L679.2 124.1L682.5 125.3L684.2 126.3L688.4 126.1L692.7 126.4L696.5 125.8L699.4 127.1L700.4 125.4L704.5 125.9L709.5 125.8L713.8 126.6L717.1 127.4L721.4 128.3L725.6 130.5L729.0 130.6L731.5 131.3L733.7 132.2L731.5 133.0L729.0 133.2L727.8 135.0L724.7 134.3L721.4 133.3L718.0 131.8L716.8 133.2L714.6 134.3L712.1 134.5L713.8 136.0L715.1 138.5L712.1 138.2L707.8 139.4L703.6 140.7L699.9 142.4L696.0 141.6L692.7 142.4L689.3 142.7L687.6 144.8L686.4 146.1L688.1 148.8L685.9 150.5L685.9 151.3L682.5 153.8L680.3 154.2L679.7 155.8L677.0 157.7L675.8 155.8L675.1 152.5L675.1 149.1L677.0 146.6L680.0 144.9L682.5 143.2L685.6 141.7L687.6 139.9L690.1 138.2L687.3 139.5L683.4 141.2L682.5 139.4L677.5 139.7L674.1 143.2L669.9 144.1L667.0 143.2L663.1 143.6L658.1 143.6L654.2 143.5L649.6 146.1L646.2 148.3L644.2 150.8L640.8 151.3L643.7 152.8L647.9 152.1L649.3 153.8L651.0 153.8L651.1 155.5L650.6 156.7L649.6 159.2L649.4 161.7L647.1 163.7L645.7 165.6L642.9 167.9L640.8 170.0L637.3 171.4L635.1 170.8L633.2 171.8L631.6 173.5L631.4 174.7L629.0 176.0L627.7 176.5L627.5 177.3L629.2 178.5L630.4 180.2L631.0 181.5L631.0 182.7L630.7 183.9L629.0 184.7L627.7 184.9L626.0 185.4L625.6 184.2L626.0 182.7L625.4 181.5L626.3 181.0L626.2 180.2L625.3 179.8L624.0 179.9L623.3 179.2L623.8 178.2L623.6 176.8L622.4 176.2L620.6 176.5L618.4 177.6L617.4 177.9L617.9 177.0L618.6 175.3L617.2 174.5L616.5 174.8L614.8 176.0L613.3 177.3L611.3 177.7L611.1 178.7L612.6 179.4L613.3 180.0L613.3 180.7L614.8 180.7L616.2 179.7L617.4 180.1L619.6 180.4L619.2 181.2L616.7 181.7L615.5 182.6L614.3 183.6L613.7 184.7L615.3 185.6L616.5 187.8L616.7 188.6L618.2 189.9L618.2 191.3L616.5 192.3L617.2 192.3L618.4 193.0L617.7 194.6L617.7 195.7L616.7 196.2L615.5 197.7L614.5 199.0L614.3 199.5L613.3 200.9L612.8 201.7L611.8 202.2L610.5 203.4L609.4 204.1L607.4 205.1L605.4 205.4L604.0 205.9L602.4 206.6L599.8 207.1L598.8 207.6L599.0 209.1L598.0 209.1L597.6 207.9L597.3 206.9L596.6 207.1L595.3 206.9L594.8 207.1L593.1 207.9L592.6 208.4L592.4 209.3L591.2 210.1L591.0 211.6L592.2 213.1L593.2 214.6L594.6 215.8L595.3 216.2L596.3 217.7L596.8 220.0L597.1 221.5L596.8 223.2L596.3 224.2L594.8 225.2L593.2 225.8L592.6 227.2L590.5 228.1L589.4 228.8L589.4 226.7L588.8 225.7L587.3 225.6L586.5 224.7L586.1 223.5L585.0 222.5L582.9 221.9L582.8 220.6L581.8 220.5L581.2 220.7L581.2 222.0L580.6 223.4L579.9 224.9L579.9 225.9L580.1 227.6L581.1 227.7L581.2 228.8L581.9 230.9L582.3 231.1L583.4 231.6L584.8 232.8L586.3 234.1L587.0 235.1L587.1 236.1L587.0 237.3L587.2 238.5L588.2 239.8L588.5 240.8L587.2 241.0L585.6 240.0L584.3 238.8L583.4 238.2L582.6 236.6L582.3 235.5L581.8 234.1L581.8 232.4L580.7 231.6L580.1 230.4L579.1 229.6L578.4 229.9L578.4 228.2L578.8 226.6L578.7 225.2L579.1 223.4L578.7 221.9L578.2 220.0L578.0 219.5L577.5 218.0L577.2 215.8L576.4 214.8L575.8 214.1L574.8 215.3L573.5 216.7L572.1 216.5L571.5 216.2L572.0 214.1L571.6 212.0L570.6 210.4L569.3 209.3L568.3 208.1L567.7 207.2L567.4 205.7L566.6 205.2L565.6 205.6L564.9 206.4L563.5 206.6L562.2 206.9L561.2 206.7L560.1 206.9L559.3 207.2L559.1 208.6L558.8 209.2L557.4 210.1L556.1 210.9L554.4 212.5L553.1 213.5L551.4 215.1L549.5 216.5L548.0 216.8L547.7 218.0L547.7 219.7L548.0 221.2L547.8 222.5L547.2 224.0L547.2 225.7L546.3 225.9L545.7 227.2L546.1 227.6L544.5 228.2L543.4 229.6L542.3 228.9L541.2 227.1L541.1 226.5L540.3 224.2L538.8 221.5L538.0 219.3L537.5 218.3L537.0 217.2L536.2 214.8L535.5 212.6L535.3 211.3L535.2 209.6L535.5 208.3L535.2 206.9L534.9 205.9L534.3 206.4L534.2 207.8L532.3 208.3L531.1 208.1L529.3 206.2L528.9 205.6L530.9 204.6L529.3 204.8L528.4 204.2L527.6 203.3L526.4 203.0L525.5 201.5L524.7 200.5L522.2 200.7L519.6 200.8L517.6 200.9L516.4 200.9L514.7 200.7L512.2 200.4L510.0 200.1L509.0 198.0L507.5 197.6L505.3 198.5L503.6 198.4L502.4 198.2L501.1 197.0L499.4 196.3L498.4 194.6L497.7 193.5L496.7 192.5L495.2 192.0L494.5 192.8L493.5 192.9L493.4 193.8L493.7 194.5L494.5 195.7L495.7 197.2L497.1 198.4L497.2 199.5L497.9 200.7L498.2 201.6L498.1 200.4L498.9 199.3L499.6 200.7L499.6 201.8L499.0 202.4L501.1 202.5L503.6 202.6L504.3 202.1L505.8 200.7L507.1 199.4L507.7 198.9L507.6 200.2L507.7 201.4L508.3 202.4L510.0 203.3L511.4 203.6L513.4 205.3L512.5 207.2L511.4 208.9L510.0 209.3L510.0 211.3L508.0 213.0L506.0 213.5L503.6 214.6L502.1 215.2L500.6 216.4L498.9 217.7L495.3 218.8L493.3 219.6L490.1 220.7L488.4 221.7L485.9 221.9L485.5 220.9L484.9 218.3L484.5 216.8L484.7 215.6L484.3 214.8L482.8 213.0L481.5 210.8L480.0 209.1L478.6 207.1L478.2 205.4L476.9 202.8L475.2 201.0L474.1 199.4L472.4 197.0L471.5 196.0L471.4 193.6L470.9 195.0L470.3 196.6L469.2 195.3L468.5 195.2L467.6 193.3L467.4 192.9ZM-140.3 192.9L-140.7 190.7L-138.5 191.0L-137.3 190.4L-136.5 189.1L-136.0 187.6L-135.1 185.7L-134.6 184.1L-134.8 182.4L-134.1 181.5L-135.3 181.7L-136.8 181.4L-138.3 182.4L-140.2 182.6L-141.4 181.7L-143.4 181.2L-143.9 182.2L-145.9 182.2L-147.5 181.4L-149.0 181.0L-149.1 179.9L-150.7 178.9L-149.8 177.8L-150.2 177.2L-151.2 176.8L-151.0 176.0L-150.0 175.4L-148.8 175.4L-146.4 175.3L-145.4 174.7L-146.1 174.2L-144.1 174.0L-142.2 173.8L-140.7 173.0L-139.0 172.6L-136.2 172.6L-134.5 173.3L-133.8 173.8L-131.9 174.2L-130.2 174.4L-128.2 174.3L-126.9 174.2L-125.2 173.5L-124.8 172.3L-125.3 171.3L-127.2 170.6L-128.2 170.0L-130.7 168.6L-132.1 168.1L-133.1 167.4L-132.9 166.9L-131.8 166.6L-131.1 165.8L-130.6 164.7L-128.9 164.1L-130.7 164.1L-132.3 164.4L-133.4 164.7L-135.6 165.4L-136.3 165.8L-136.0 166.6L-135.3 167.0L-133.6 166.9L-134.0 167.5L-135.5 167.6L-137.0 168.1L-138.2 168.6L-138.7 168.3L-138.7 167.4L-140.4 166.9L-139.0 166.2L-138.5 165.8L-140.4 165.8L-141.6 165.4L-141.4 164.8L-143.2 165.1L-144.3 166.3L-145.1 167.3L-146.4 168.1L-147.0 168.9L-147.0 170.3L-148.1 170.6L-148.1 171.5L-148.6 171.8L-148.0 172.6L-147.6 173.5L-146.3 173.9L-146.4 174.3L-148.0 174.3L-149.0 174.6L-150.0 175.1L-150.8 175.7L-150.0 174.9L-151.3 174.7L-152.9 174.4L-154.0 174.5L-154.9 174.8L-154.2 175.7L-155.1 175.5L-155.1 176.1L-155.7 175.6L-155.7 176.1L-156.6 175.3L-156.6 175.0L-157.1 175.5L-157.1 176.2L-156.4 177.2L-156.6 177.9L-155.6 178.5L-154.6 179.0L-154.6 179.9L-155.4 179.4L-156.4 179.5L-156.1 180.2L-156.8 180.1L-156.2 181.5L-156.1 182.0L-157.1 181.4L-157.2 182.0L-157.8 181.0L-158.6 181.4L-158.8 180.2L-159.3 179.7L-159.3 179.1L-159.5 178.9L-160.2 178.0L-160.2 177.5L-161.1 176.7L-162.5 175.3L-162.5 173.8L-162.3 173.0L-163.3 172.1L-164.7 171.5L-166.2 170.8L-167.5 170.1L-168.4 169.8L-169.6 168.9L-170.1 167.8L-170.8 167.1L-171.8 167.9L-172.4 166.8L-172.0 166.5L-173.1 166.3L-174.5 166.9L-174.1 167.8L-174.5 168.9L-174.0 169.2L-172.4 170.0L-171.6 171.5L-170.4 172.5L-169.6 172.8L-167.9 172.8L-168.4 173.5L-166.7 174.2L-164.8 174.9L-164.0 175.7L-164.3 176.3L-165.0 175.6L-166.2 175.2L-167.2 176.2L-167.3 176.7L-166.3 177.5L-166.4 177.8L-167.3 178.2L-167.3 178.9L-168.1 179.5L-168.8 179.4L-168.8 178.9L-168.4 178.3L-167.9 177.8L-168.1 177.2L-168.6 176.2L-169.4 175.8L-169.9 175.3L-170.3 174.9L-171.1 175.0L-171.2 174.6L-172.1 173.9L-173.2 173.9L-174.6 173.1L-175.5 172.3L-176.5 172.0L-177.5 171.0L-177.8 170.1L-178.2 169.3L-178.6 169.2L-180.2 168.6L-181.4 169.3L-182.6 169.6L-182.9 169.8L-183.9 170.6L-185.3 170.8L-186.2 170.5L-187.5 170.3L-188.6 170.1L-189.8 170.8L-190.1 171.8L-189.7 172.1L-190.0 172.9L-191.5 173.6L-193.2 174.2L-193.8 174.8L-194.9 175.8L-195.7 176.9L-194.9 178.1L-196.1 178.9L-196.4 179.9L-197.4 180.1L-198.4 181.1L-198.9 181.5L-201.1 181.5L-202.7 181.5L-204.3 182.5L-204.7 182.7L-205.4 182.4L-205.9 181.9L-206.0 181.2L-207.0 180.7L-208.6 181.0L-210.3 181.0L-210.1 179.5L-210.1 178.7L-211.3 178.0L-211.0 177.1L-210.3 175.7L-209.9 174.1L-210.2 172.8L-210.3 172.0L-210.9 171.1L-210.4 170.6L-209.4 170.3L-208.6 169.7L-207.0 170.0L-205.1 169.9L-202.8 170.3L-201.6 170.2L-200.3 170.4L-198.3 170.4L-197.8 170.0L-197.3 168.3L-197.1 166.6L-197.3 165.6L-198.4 164.9L-198.9 164.1L-200.0 163.4L-201.1 163.0L-202.6 162.9L-203.2 162.5L-202.5 162.2L-203.2 162.0L-202.8 161.6L-201.3 161.3L-200.3 161.1L-199.8 161.6L-198.6 161.5L-197.8 161.5L-197.9 160.5L-198.4 159.7L-197.4 159.7L-197.1 160.3L-195.6 160.4L-195.1 160.0L-194.9 159.7L-193.4 159.3L-192.5 158.9L-192.5 157.8L-192.1 157.6L-190.9 157.4L-189.6 156.9L-189.0 156.5L-188.5 155.8L-187.5 155.0L-187.2 154.2L-186.1 153.8L-184.8 153.5L-183.6 153.4L-182.9 153.0L-181.6 153.0L-180.9 153.2L-180.6 152.6L-180.2 152.3L-180.7 151.9L-180.3 151.5L-180.7 151.0L-180.6 150.6L-181.6 149.9L-181.6 149.0L-181.5 147.9L-180.7 147.3L-179.4 147.2L-178.4 146.5L-177.3 146.2L-177.5 146.8L-177.5 147.4L-178.0 147.9L-176.8 148.4L-177.3 148.9L-178.0 149.0L-178.0 149.5L-178.7 150.0L-179.0 150.5L-179.2 151.1L-178.3 151.3L-178.3 151.6L-178.1 151.9L-176.8 151.8L-176.9 152.5L-175.8 152.5L-174.8 152.2L-174.1 151.7L-173.1 152.0L-172.1 152.2L-171.3 152.6L-168.2 152.1L-166.7 151.5L-164.3 151.1L-163.5 151.5L-163.8 151.8L-162.5 151.9L-161.6 151.7L-161.6 150.9L-160.6 150.9L-159.6 150.3L-159.6 149.6L-159.7 149.0L-159.8 148.3L-159.7 147.4L-159.1 146.8L-157.1 146.2L-156.1 146.9L-155.4 147.4L-154.5 147.4L-154.0 146.9L-154.1 145.9L-153.9 145.2L-155.2 145.2L-155.6 144.6L-155.6 143.7L-153.5 143.3L-151.7 143.1L-149.8 143.3L-148.0 143.3L-147.6 142.9L-146.3 142.5L-144.3 142.5L-145.4 142.1L-147.0 141.7L-146.8 141.2L-148.5 141.6L-149.8 141.6L-151.5 141.9L-153.1 142.1L-154.7 142.4L-156.5 142.7L-157.1 142.1L-157.8 141.7L-159.1 141.4L-159.3 140.6L-158.9 139.8L-159.3 138.5L-159.6 137.7L-158.9 137.2L-157.6 136.6L-156.7 136.0L-155.4 135.3L-154.0 134.5L-152.4 134.0L-152.5 133.2L-153.7 132.8L-154.5 132.7L-155.7 132.7L-157.6 132.8L-157.8 133.1L-158.8 133.5L-158.9 134.2L-159.4 134.7L-158.8 135.0L-159.6 135.7L-161.0 136.2L-162.7 136.7L-163.3 137.0L-164.3 137.5L-165.0 138.2L-165.9 138.5L-165.8 139.5L-166.3 139.9L-166.2 140.9L-166.2 141.3L-165.4 141.5L-164.0 142.0L-163.3 142.6L-163.3 143.2L-164.3 143.6L-165.0 144.3L-166.6 144.8L-167.0 145.6L-167.0 146.3L-167.5 147.3L-167.5 148.0L-168.1 148.8L-168.9 148.9L-170.4 148.9L-171.0 149.9L-171.3 150.1L-172.6 150.2L-173.5 150.1L-173.3 149.8L-173.8 149.0L-174.2 148.6L-173.5 148.4L-173.5 148.0L-174.6 147.3L-175.1 146.6L-175.1 146.3L-175.8 145.6L-176.2 145.1L-176.4 144.2L-176.7 143.7L-177.3 143.3L-177.2 142.6L-177.5 143.2L-177.8 143.9L-178.7 144.2L-179.9 144.8L-180.9 145.3L-181.7 145.6L-183.3 145.8L-184.1 145.6L-185.8 144.7L-185.8 144.2L-186.5 143.6L-186.5 142.7L-186.6 141.7L-186.9 140.7L-187.0 139.9L-186.6 139.0L-185.6 138.5L-184.8 138.2L-183.4 137.4L-182.2 137.2L-180.9 136.6L-179.2 136.2L-178.7 135.7L-177.3 134.8L-176.3 134.2L-175.0 133.5L-174.5 132.8L-173.5 132.0L-173.3 131.1L-170.9 130.1L-170.2 129.5L-169.4 129.0L-167.7 128.2L-167.2 127.8L-166.0 127.1L-164.8 126.4L-163.2 126.1L-161.8 125.4L-159.8 125.4L-158.1 125.1L-156.4 124.6L-155.2 124.5L-153.7 123.9L-151.7 123.6L-150.2 124.0L-148.6 123.8L-147.1 124.2L-145.1 124.4L-142.8 125.0L-144.3 125.5L-146.3 125.4L-143.7 125.9L-143.1 126.4L-141.6 126.1L-139.4 126.5L-138.5 126.8L-136.0 126.9L-133.6 127.3L-131.1 128.3L-128.0 128.8L-126.5 129.8L-125.5 130.8L-126.9 131.8L-130.2 132.2L-133.6 131.8L-136.2 131.6L-137.8 131.1L-140.4 130.4L-138.7 131.3L-137.2 132.5L-136.5 134.0L-136.3 134.8L-134.6 135.2L-133.6 135.8L-131.3 135.8L-132.3 135.0L-133.4 134.3L-133.1 133.7L-131.4 133.8L-130.2 134.3L-128.0 134.6L-126.9 134.8L-127.4 134.0L-128.0 133.0L-126.5 132.3L-124.2 131.5L-121.8 132.0L-120.8 132.2L-120.6 131.5L-121.3 130.3L-121.0 129.3L-122.1 128.0L-120.5 128.1L-117.6 128.5L-116.6 129.3L-117.8 130.5L-116.6 130.9L-114.7 130.8L-113.2 129.6L-109.5 128.4L-105.8 128.5L-104.1 128.6L-104.2 127.4L-102.4 128.1L-98.5 128.0L-95.6 128.3L-93.1 127.4L-93.4 126.1L-92.3 125.9L-86.4 126.9L-83.0 127.6L-80.1 128.3L-78.8 127.4L-81.6 126.1L-82.3 124.8L-81.6 123.4L-79.8 122.4L-78.8 121.1L-77.1 120.6L-74.0 120.7L-72.3 121.1L-72.7 122.6L-73.2 123.9L-72.0 126.4L-70.8 128.1L-73.7 130.3L-74.5 131.1L-72.9 131.3L-70.5 130.6L-69.1 129.3L-70.3 128.0L-69.5 127.1L-70.7 125.8L-69.8 123.9L-71.3 122.6L-68.6 120.9L-64.2 121.2L-62.7 121.6L-59.0 122.2L-59.3 120.7L-58.8 119.7L-53.4 119.2L-48.7 118.9L-48.0 117.2L-43.3 116.2L-37.4 115.4L-32.3 115.4L-28.1 114.7L-24.7 113.8L-19.2 112.7L-15.8 113.2L-13.8 114.0L-7.0 114.3L-3.6 115.2L-3.3 116.5L-5.3 117.4L-11.2 118.5L-14.6 119.6L-15.8 120.2L-12.4 120.1L-8.7 119.2L-4.5 119.2L-2.8 119.6L-0.3 119.4L5.3 119.6L4.8 120.4L9.0 120.6L12.7 120.6L14.1 119.4L19.1 119.7L21.7 120.2L22.9 120.9L23.4 122.4L22.9 123.9L25.9 124.3L28.8 122.9L32.6 122.9L36.9 123.4L39.4 123.1L40.6 121.7L42.3 120.7L47.0 121.1L51.2 121.6L56.3 121.9L58.8 123.1L62.2 123.9L67.3 123.8L71.5 124.1L74.9 125.3L76.5 126.3L80.8 126.1L85.0 126.4L88.9 125.8L91.7 127.1L92.7 125.4L96.8 125.9L101.9 125.8L106.1 126.6L109.5 127.4L113.7 128.3L117.9 130.5L121.3 130.6L123.8 131.3L126.0 132.2L123.8 133.0L121.3 133.2L120.1 135.0L117.1 134.3L113.7 133.3L110.3 131.8L109.1 133.2L106.9 134.3L104.4 134.5L106.1 136.0L107.4 138.5L104.4 138.2L100.2 139.4L95.9 140.7L92.2 142.4L88.4 141.6L85.0 142.4L81.6 142.7L79.9 144.8L78.7 146.1L80.4 148.8L78.2 150.5L78.2 151.3L74.9 153.8L72.7 154.2L72.0 155.8L69.3 157.7L68.1 155.8L67.4 152.5L67.4 149.1L69.3 146.6L72.3 144.9L74.9 143.2L77.9 141.7L79.9 139.9L82.4 138.2L79.6 139.5L75.7 141.2L74.9 139.4L69.8 139.7L66.4 143.2L62.2 144.1L59.3 143.2L55.4 143.6L50.4 143.6L46.5 143.5L41.9 146.1L38.6 148.3L36.5 150.8L33.2 151.3L36.0 152.8L40.2 152.1L41.6 153.8L43.3 153.8L43.5 155.5L42.9 156.7L41.9 159.2L41.8 161.7L39.4 163.7L38.1 165.6L35.2 167.9L33.2 170.0L29.6 171.4L27.4 170.8L25.6 171.8L23.9 173.5L23.7 174.7L21.3 176.0L20.0 176.5L19.8 177.3L21.5 178.5L22.7 180.2L23.3 181.5L23.3 182.7L23.0 183.9L21.3 184.7L20.0 184.9L18.3 185.4L18.0 184.2L18.3 182.7L17.7 181.5L18.6 181.0L18.5 180.2L17.6 179.8L16.3 179.9L15.6 179.2L16.1 178.2L15.9 176.8L14.8 176.2L12.9 176.5L10.7 177.6L9.7 177.9L10.2 177.0L10.9 175.3L9.5 174.5L8.8 174.8L7.2 176.0L5.6 177.3L3.6 177.7L3.4 178.7L5.0 179.4L5.6 180.0L5.6 180.7L7.2 180.7L8.5 179.7L9.7 180.1L11.9 180.4L11.6 181.2L9.0 181.7L7.8 182.6L6.7 183.6L6.0 184.7L7.7 185.6L8.8 187.8L9.0 188.6L10.5 189.9L10.5 191.3L8.8 192.3L9.5 192.3L10.7 193.0L10.0 194.6L10.0 195.7L9.0 196.2L7.8 197.7L6.8 199.0L6.7 199.5L5.6 200.9L5.1 201.7L4.1 202.2L2.8 203.4L1.8 204.1L-0.3 205.1L-2.3 205.4L-3.6 205.9L-5.3 206.6L-7.9 207.1L-8.9 207.6L-8.7 209.1L-9.7 209.1L-10.1 207.9L-10.4 206.9L-11.1 207.1L-12.4 206.9L-12.9 207.1L-14.6 207.9L-15.1 208.4L-15.3 209.3L-16.5 210.1L-16.7 211.6L-15.5 213.1L-14.4 214.6L-13.1 215.8L-12.4 216.2L-11.4 217.7L-10.9 220.0L-10.6 221.5L-10.9 223.2L-11.4 224.2L-12.9 225.2L-14.4 225.8L-15.1 227.2L-17.1 228.1L-18.3 228.8L-18.2 226.7L-18.8 225.7L-20.4 225.6L-21.2 224.7L-21.5 223.5L-22.7 222.5L-24.7 221.9L-24.9 220.6L-25.9 220.5L-26.4 220.7L-26.5 222.0L-27.1 223.4L-27.8 224.9L-27.8 225.9L-27.6 227.6L-26.6 227.7L-26.4 228.8L-25.8 230.9L-25.4 231.1L-24.2 231.6L-22.9 232.8L-21.4 234.1L-20.7 235.1L-20.6 236.1L-20.7 237.3L-20.5 238.5L-19.5 239.8L-19.2 240.8L-20.5 241.0L-22.0 240.0L-23.4 238.8L-24.2 238.2L-25.1 236.6L-25.4 235.5L-25.9 234.1L-25.9 232.4L-26.9 231.6L-27.6 230.4L-28.6 229.6L-29.3 229.9L-29.3 228.2L-28.9 226.6L-29.0 225.2L-28.6 223.4L-29.0 221.9L-29.5 220.0L-29.6 219.5L-30.1 218.0L-30.5 215.8L-31.3 214.8L-31.8 214.1L-32.8 215.3L-34.2 216.7L-35.5 216.5L-36.2 216.2L-35.7 214.1L-36.1 212.0L-37.1 210.4L-38.4 209.3L-39.4 208.1L-39.9 207.2L-40.3 205.7L-41.1 205.2L-42.1 205.6L-42.8 206.4L-44.2 206.6L-45.5 206.9L-46.5 206.7L-47.5 206.9L-48.4 207.2L-48.6 208.6L-48.9 209.2L-50.2 210.1L-51.6 210.9L-53.3 212.5L-54.6 213.5L-56.3 215.1L-58.2 216.5L-59.7 216.8L-60.0 218.0L-60.0 219.7L-59.7 221.2L-59.9 222.5L-60.4 224.0L-60.4 225.7L-61.4 225.9L-62.0 227.2L-61.5 227.6L-63.2 228.2L-64.3 229.6L-65.4 228.9L-66.4 227.1L-66.6 226.5L-67.4 224.2L-68.9 221.5L-69.6 219.3L-70.1 218.3L-70.7 217.2L-71.5 214.8L-72.2 212.6L-72.3 211.3L-72.5 209.6L-72.2 208.3L-72.5 206.9L-72.8 205.9L-73.4 206.4L-73.5 207.8L-75.4 208.3L-76.6 208.1L-78.4 206.2L-78.8 205.6L-76.7 204.6L-78.4 204.8L-79.3 204.2L-80.1 203.3L-81.3 203.0L-82.1 201.5L-83.0 200.5L-85.5 200.7L-88.0 200.8L-90.1 200.9L-91.2 200.9L-92.9 200.7L-95.5 200.4L-97.7 200.1L-98.7 198.0L-100.2 197.6L-102.4 198.5L-104.1 198.4L-105.3 198.2L-106.6 197.0L-108.3 196.3L-109.3 194.6L-110.0 193.5L-111.0 192.5L-112.5 192.0L-113.2 192.8L-114.2 192.9L-114.3 193.8L-114.0 194.5L-113.2 195.7L-112.0 197.2L-110.6 198.4L-110.5 199.5L-109.8 200.7L-109.5 201.6L-109.6 200.4L-108.8 199.3L-108.1 200.7L-108.1 201.8L-108.6 202.4L-106.6 202.5L-104.1 202.6L-103.4 202.1L-101.9 200.7L-100.6 199.4L-100.0 198.9L-100.1 200.2L-100.0 201.4L-99.4 202.4L-97.7 203.3L-96.3 203.6L-94.3 205.3L-95.1 207.2L-96.3 208.9L-97.7 209.3L-97.7 211.3L-99.7 213.0L-101.7 213.5L-104.1 214.6L-105.6 215.2L-107.1 216.4L-108.8 217.7L-112.3 218.8L-114.4 219.6L-117.6 220.7L-119.3 221.7L-121.8 221.9L-122.2 220.9L-122.8 218.3L-123.2 216.8L-123.0 215.6L-123.4 214.8L-124.8 213.0L-126.2 210.8L-127.7 209.1L-129.1 207.1L-129.5 205.4L-130.7 202.8L-132.4 201.0L-133.6 199.4L-135.3 197.0L-136.2 196.0L-136.2 193.6L-136.8 195.0L-137.4 196.6L-138.5 195.3L-139.2 195.2L-140.0 193.3L-140.3 192.9ZM467.4 192.9L467.1 193.6L467.6 194.8L468.5 196.0L469.2 196.8L469.6 197.5L470.3 199.5L471.4 201.4L472.4 203.0L472.7 204.6L474.7 206.2L475.2 207.9L475.3 210.3L475.8 211.8L477.5 213.0L478.6 216.0L479.1 217.1L480.3 218.1L482.0 219.0L484.0 221.0L485.2 221.9L485.6 222.5L485.4 223.8L486.7 225.6L488.4 225.7L491.8 224.4L495.2 224.2L499.0 223.3L498.5 225.7L498.2 228.1L496.5 230.6L495.2 233.1L493.5 235.6L490.9 239.0L488.9 239.8L486.7 241.5L484.2 244.0L482.5 246.1L480.3 247.7L479.5 249.9L478.6 251.6L478.8 254.6L479.1 257.5L479.6 260.0L480.8 260.8L481.0 264.2L481.0 267.6L481.2 269.2L479.1 271.3L476.6 272.3L474.7 273.3L472.4 275.1L471.4 276.5L472.0 279.3L472.4 281.0L472.2 283.5L470.7 284.9L468.2 285.7L467.5 286.9L468.0 289.4L467.1 291.2L464.8 293.4L463.1 295.8L460.6 298.3L459.5 298.6L457.2 300.0L455.7 300.3L452.1 300.5L449.6 300.7L446.2 301.7L444.2 300.8L443.5 300.2L442.8 298.1L443.3 296.1L441.7 294.1L440.3 291.2L439.0 289.4L437.9 287.9L437.6 285.2L436.9 281.7L435.4 278.5L434.1 275.1L432.4 272.1L432.4 270.1L433.2 267.6L435.1 264.2L435.7 261.7L434.7 258.0L434.1 255.0L433.2 253.3L432.7 251.6L432.4 250.8L431.0 249.4L428.8 247.4L427.1 244.4L428.1 242.7L428.5 241.5L429.0 239.3L429.0 237.7L428.5 236.6L427.5 235.5L426.5 235.6L424.3 235.8L422.6 236.0L421.4 234.5L420.0 232.8L418.2 232.4L415.0 232.8L412.4 233.6L409.1 235.1L406.5 234.6L405.7 234.3L402.3 235.1L399.8 235.8L397.3 234.8L394.2 232.6L393.0 231.6L391.3 230.6L390.2 228.9L390.0 227.2L388.0 225.6L387.1 224.7L385.4 223.4L384.3 222.4L384.1 220.5L382.9 218.5L384.6 216.3L385.3 213.0L384.9 210.4L383.8 208.3L383.8 207.1L384.9 204.6L385.8 202.9L387.3 201.2L388.0 199.2L389.8 197.5L390.7 196.3L393.0 195.3L395.2 194.0L396.1 192.1L395.9 190.3L396.9 188.6L399.6 186.8L401.0 186.1L402.0 184.4L402.5 183.1L403.5 182.9L405.2 184.1L407.4 183.9L409.1 184.2L411.4 183.2L414.1 181.9L417.5 181.4L420.9 181.4L425.1 181.0L429.0 180.5L431.0 181.0L430.2 182.0L430.3 183.6L430.7 184.9L429.5 186.2L431.2 187.4L434.7 187.9L438.1 188.8L438.6 190.3L442.0 191.3L444.5 192.3L446.2 191.1L446.2 189.3L448.7 187.9L451.3 188.4L453.0 189.4L455.0 190.1L458.5 190.6L461.4 191.3L463.1 190.8L464.8 190.3L467.0 190.7L467.4 192.9ZM495.7 263.4L497.4 268.9L496.5 270.9L495.8 273.4L494.3 277.6L493.0 281.8L492.0 285.0L489.3 286.0L487.1 285.2L485.9 281.8L485.7 279.3L487.4 276.8L487.4 272.6L488.2 270.4L490.6 269.7L492.3 268.1L493.5 266.0L494.8 264.2L495.7 263.4ZM547.3 226.9L548.0 227.2L549.5 228.9L550.5 230.6L550.4 232.3L548.5 233.2L547.5 232.4L547.2 230.6L547.3 228.8L547.3 226.9ZM402.8 159.1L403.8 159.2L405.5 158.6L406.5 158.4L407.4 158.0L408.3 158.3L410.3 157.9L412.9 157.9L414.1 157.7L414.8 157.3L414.9 156.9L413.5 156.8L414.1 156.3L414.6 155.9L415.4 155.0L414.6 154.3L413.3 154.2L412.8 154.5L413.0 154.0L412.7 153.3L411.9 153.0L412.6 153.2L412.3 152.3L411.4 151.6L410.4 151.4L410.1 150.8L409.7 149.9L409.1 149.5L408.1 149.0L406.9 149.1L408.1 148.6L407.7 148.4L408.3 147.9L408.9 147.2L409.4 146.6L409.1 146.3L406.7 146.3L405.5 146.5L405.7 145.8L406.9 145.3L407.3 144.7L404.7 144.8L404.0 144.7L403.5 145.3L403.5 145.9L402.7 146.4L402.9 146.9L402.8 147.5L402.0 147.9L403.0 148.3L403.2 148.8L403.0 149.6L402.7 150.3L403.5 149.6L404.2 149.2L404.5 150.0L404.0 150.8L403.8 151.1L404.2 151.4L405.0 151.2L406.5 151.0L406.4 151.6L407.0 152.3L407.6 152.2L407.3 152.8L407.4 153.4L406.0 153.7L404.7 153.6L405.1 154.0L404.4 154.5L405.5 154.3L405.5 155.2L404.5 155.7L403.5 156.0L403.8 156.4L405.2 156.4L405.8 156.5L407.0 156.8L407.9 156.5L407.4 157.1L405.4 157.2L404.9 157.5L404.0 158.4L403.2 158.9L402.8 159.1ZM402.3 155.5L401.6 155.5L399.8 155.8L398.4 156.1L396.2 156.7L395.1 156.2L395.7 155.5L394.9 155.6L396.1 154.8L396.6 154.2L395.6 153.4L395.7 152.6L395.6 152.1L397.9 152.0L397.8 151.3L398.4 150.6L400.1 150.2L402.0 150.5L403.0 151.3L403.2 152.0L402.2 152.5L402.2 153.7L402.3 154.7L402.3 155.5ZM433.5 179.7L434.9 179.0L436.9 179.3L438.8 178.9L438.1 180.5L437.9 181.5L436.6 181.1L434.7 180.4L433.5 179.7ZM426.3 174.5L428.0 173.9L428.9 175.2L428.7 177.3L427.6 177.7L426.6 177.5L426.6 175.5L426.3 174.5ZM436.1 113.0L437.8 114.3L439.5 114.6L441.1 114.5L442.0 113.0L443.7 112.2L445.3 111.5L447.1 112.2L448.7 111.7L446.5 111.7L444.5 110.8L443.7 109.5L441.6 109.2L439.5 108.8L437.3 108.8L435.2 109.3L433.2 110.0L431.0 109.5L431.9 110.8L433.7 110.9L435.2 111.8L436.1 113.0ZM499.6 123.9L501.1 124.3L502.8 124.3L504.4 124.4L506.1 124.4L507.6 124.6L509.2 124.6L507.8 123.6L506.6 122.2L506.1 120.9L503.6 120.1L502.8 121.7L501.1 122.6L499.6 123.9ZM503.6 119.9L505.3 119.9L507.0 120.1L508.7 119.9L510.0 118.9L512.0 117.7L513.9 117.8L515.4 116.7L517.2 117.0L518.7 115.5L520.5 115.9L522.2 115.6L523.8 115.0L525.5 115.0L527.1 114.5L528.6 114.0L527.0 113.8L525.4 114.1L523.9 113.8L522.1 113.9L520.5 114.3L518.8 114.7L517.2 115.3L515.4 115.3L513.7 115.4L511.6 115.9L509.5 116.4L508.0 117.4L506.1 117.2L504.4 118.5L503.6 119.9ZM572.8 110.5L574.5 110.6L576.2 111.2L577.9 110.8L579.9 110.0L582.1 110.0L581.2 108.8L579.2 107.9L577.0 108.1L574.9 108.6L572.8 108.8L570.3 109.5L572.8 110.5ZM580.4 112.2L582.6 112.4L584.6 111.8L586.3 111.2L588.1 111.5L589.7 110.8L587.9 110.9L586.3 110.0L584.3 110.8L582.1 110.6L580.4 112.2ZM644.5 117.2L646.2 117.5L649.6 117.4L653.8 117.2L655.5 116.2L650.5 115.5L646.2 115.9L644.5 117.2ZM652.1 165.9L654.5 164.7L653.5 163.4L654.0 160.9L656.4 160.9L654.3 158.4L654.3 155.8L654.0 153.7L653.3 152.0L652.7 153.3L651.8 155.3L652.3 157.5L652.3 160.0L652.1 162.6L652.1 165.9ZM649.3 173.5L650.8 173.0L650.3 171.8L651.8 171.6L654.3 172.6L656.4 171.0L658.4 170.5L657.4 169.1L654.7 168.8L652.1 166.9L651.6 168.4L651.0 170.5L649.3 170.6L648.6 172.1L649.3 173.5ZM633.4 186.1L635.1 186.1L636.1 185.6L637.8 185.4L639.8 184.9L640.8 185.1L640.5 186.2L641.7 186.9L642.5 185.9L643.5 185.4L644.0 185.1L645.7 185.1L646.7 184.2L646.7 185.0L647.4 184.1L648.4 184.4L648.4 183.4L648.9 183.6L648.6 184.5L649.4 184.1L650.2 183.1L649.8 181.9L650.5 180.2L651.3 178.9L652.1 176.8L651.8 175.5L651.1 173.6L650.3 174.2L649.3 174.0L648.8 175.0L648.8 176.5L648.3 178.2L647.8 179.0L646.2 180.4L644.2 181.4L644.2 180.2L643.2 180.9L643.0 181.7L642.0 182.7L641.8 183.4L640.7 183.4L639.1 183.4L637.3 183.4L636.3 183.9L634.4 185.1L633.4 185.6L633.4 186.1ZM635.9 186.9L637.0 185.9L639.0 185.5L639.8 186.3L639.0 187.3L637.3 187.4L636.4 188.1L635.9 186.9ZM631.4 187.4L632.6 186.8L633.6 186.2L634.8 186.9L635.1 188.1L634.3 189.9L633.1 191.1L632.2 190.6L632.2 189.1L631.6 188.3L631.4 187.4ZM615.2 204.4L616.4 206.3L617.4 204.6L618.2 201.5L617.7 200.8L616.7 201.2L615.3 203.2L615.2 204.4ZM595.9 210.9L597.3 212.5L599.0 211.6L599.8 210.2L598.6 209.4L596.8 209.9L595.9 210.9ZM615.5 216.2L615.7 213.8L616.2 212.1L618.2 212.5L618.7 214.1L618.7 215.8L617.7 216.7L617.9 218.8L619.2 219.3L621.6 220.0L621.9 222.0L620.6 221.4L619.2 220.2L617.9 219.8L616.2 219.8L616.0 218.8L615.2 218.3L614.7 216.2L615.5 216.2ZM618.4 231.4L618.9 229.9L620.6 228.8L622.3 228.9L624.3 227.9L624.3 226.7L625.6 228.6L626.0 230.9L625.5 232.6L624.3 231.8L624.1 233.8L622.1 232.6L621.8 230.9L620.6 230.6L618.4 231.4ZM610.3 229.1L612.1 227.7L614.2 225.4L613.8 224.0L612.5 226.1L610.5 228.1L610.3 229.1ZM596.4 240.7L597.5 239.8L598.6 240.3L600.2 240.8L600.5 239.2L603.0 238.0L604.7 235.6L606.6 234.8L608.3 233.1L609.4 231.4L611.1 232.4L611.1 233.3L613.7 234.1L612.3 235.0L611.0 236.1L611.5 237.7L611.3 240.0L613.3 241.5L611.5 241.9L610.8 244.5L609.1 245.7L608.9 248.1L608.6 249.9L605.9 250.1L605.6 248.9L603.2 248.6L601.2 249.1L598.5 248.1L598.1 245.9L596.4 243.9L596.4 240.7ZM573.3 233.8L577.0 234.5L578.4 236.1L581.1 238.2L582.6 239.5L585.0 240.8L587.0 242.4L587.7 244.9L588.8 246.2L591.2 247.9L591.4 248.7L591.0 252.9L589.0 252.9L587.7 251.6L585.1 249.9L583.4 247.7L581.9 244.9L579.7 242.7L579.1 240.3L577.4 239.2L575.3 237.0L573.5 235.1L573.3 233.8ZM590.0 254.6L591.5 253.1L593.1 253.2L595.6 254.3L599.0 254.8L599.6 254.0L602.5 254.8L605.7 256.3L605.6 257.8L602.4 257.3L598.1 256.8L594.8 256.3L592.1 255.6L590.0 254.6ZM609.6 257.5L611.5 256.8L613.3 257.1L613.3 257.9L611.3 258.2L609.6 258.3L609.6 257.5ZM614.7 257.3L617.5 257.5L620.1 257.1L619.7 257.8L616.7 258.2L614.8 258.0L614.7 257.3ZM620.9 260.5L622.4 259.0L624.3 257.6L627.3 257.3L626.0 258.3L623.5 259.3L621.9 260.3L620.9 260.5ZM614.7 241.9L616.4 241.0L620.1 241.7L622.6 241.2L623.8 240.5L622.3 242.5L620.1 242.4L617.2 242.4L615.2 244.2L616.2 245.6L617.7 244.7L620.7 244.5L619.6 245.9L617.9 246.4L618.9 248.9L620.4 251.1L619.2 252.3L618.4 251.1L617.7 250.1L616.5 249.1L615.7 251.3L615.7 252.6L614.2 252.4L614.2 249.1L613.0 247.9L613.8 245.4L614.7 243.2L614.7 241.9ZM627.8 239.5L628.5 241.2L629.7 240.7L628.5 242.4L629.4 244.5L628.3 243.7L627.5 241.5L627.8 239.5ZM628.3 248.6L631.0 247.9L633.2 248.9L631.0 249.1L628.5 249.2L628.3 248.6ZM633.6 244.5L636.1 243.9L638.6 244.5L639.0 247.2L640.3 248.7L642.9 246.9L645.4 245.9L648.8 247.2L650.5 247.6L653.0 248.6L656.4 249.6L658.6 251.4L659.7 252.6L661.9 253.6L660.6 254.6L661.8 256.5L663.1 258.3L665.6 260.3L667.0 260.5L664.8 260.6L662.3 260.3L660.6 259.2L658.9 256.8L656.4 256.0L654.7 257.0L653.8 258.5L651.3 258.7L648.8 257.0L645.7 257.3L644.9 255.6L646.7 255.0L645.4 252.4L642.0 250.9L638.6 249.8L637.0 250.1L636.6 248.7L635.3 248.1L638.1 247.4L636.1 246.9L633.6 245.6L633.6 244.5ZM662.8 252.8L664.8 252.4L667.3 251.6L669.4 250.3L669.4 251.6L667.7 253.1L665.6 253.8L663.1 253.3L662.8 252.8ZM689.3 277.0L691.8 278.6L694.3 280.7L693.2 280.5L691.0 279.2L689.3 277.5L689.3 277.0ZM711.7 272.9L713.9 272.8L713.8 273.8L711.9 273.8L711.7 272.9ZM104.1 272.9L106.2 272.8L106.1 273.8L104.2 273.8L104.1 272.9ZM604.4 281.2L605.2 279.8L607.4 278.5L609.6 277.8L613.3 276.8L616.7 276.1L618.9 273.6L618.7 271.9L621.1 272.4L621.1 270.8L622.6 270.4L623.8 268.6L625.5 267.1L626.8 266.6L628.9 268.1L631.0 268.2L631.4 266.0L633.1 264.2L635.3 263.7L636.3 262.4L637.8 263.0L640.7 263.7L643.4 263.7L642.0 265.4L641.2 268.1L643.4 269.9L645.7 271.4L647.9 272.6L650.1 272.6L651.1 270.4L651.5 267.6L651.5 264.7L652.5 261.7L653.2 261.2L654.7 264.4L654.8 267.2L656.5 267.4L657.7 268.9L658.4 271.4L659.2 274.8L661.4 275.8L663.6 277.3L664.8 280.5L667.0 281.2L667.0 282.8L669.0 284.4L670.9 285.7L671.1 288.6L671.7 291.2L670.9 294.1L670.0 297.6L668.2 299.1L667.0 302.0L665.6 304.7L665.5 306.2L662.6 306.9L659.6 308.9L658.1 307.5L656.9 306.9L654.8 308.4L651.3 307.7L649.4 306.9L648.3 305.2L647.4 303.2L645.6 303.2L646.2 301.5L645.1 298.6L644.5 300.5L643.7 302.3L642.0 301.8L641.3 301.5L640.7 300.0L638.6 298.3L636.1 297.0L633.6 296.1L630.2 296.5L626.8 297.3L624.3 298.0L621.8 298.8L620.9 300.2L617.5 300.2L614.7 300.3L611.6 302.0L609.1 302.0L606.7 300.8L607.8 299.1L607.8 296.6L606.7 294.3L605.9 291.6L604.9 289.1L603.7 287.2L604.7 286.0L604.0 284.4L604.4 281.2ZM656.7 311.6L659.7 312.2L662.6 311.7L662.8 313.8L662.1 315.8L660.2 316.4L658.6 315.9L657.7 314.3L656.7 312.4L656.7 311.6ZM704.0 301.0L705.3 302.0L706.8 302.5L707.3 304.2L708.9 304.9L709.4 306.4L711.6 307.0L713.4 306.4L713.6 307.5L712.7 309.1L711.2 309.4L711.1 310.6L709.9 312.1L708.4 313.1L707.3 312.6L708.2 310.7L707.2 310.1L705.8 309.2L707.2 308.4L707.5 306.2L706.7 304.5L705.0 302.8L704.0 301.0ZM96.3 301.0L97.6 302.0L99.2 302.5L99.7 304.2L101.2 304.9L101.7 306.4L103.9 307.0L105.7 306.4L105.9 307.5L105.1 309.1L103.5 309.4L103.4 310.6L102.2 312.1L100.7 313.1L99.7 312.6L100.5 310.7L99.5 310.1L98.1 309.2L99.5 308.4L99.8 306.2L99.0 304.5L97.3 302.8L96.3 301.0ZM704.0 311.2L704.8 312.4L706.7 313.3L705.3 314.9L704.1 316.1L704.6 317.0L701.6 317.6L700.8 320.1L699.1 321.3L696.7 321.5L694.3 320.8L693.5 320.0L695.7 318.0L697.4 317.0L700.3 315.4L701.6 313.8L703.0 311.9L704.0 311.2ZM100.2 374.7L108.6 374.7L125.5 375.2L142.4 374.6L147.4 372.9L155.9 373.1L162.6 371.9L166.0 370.0L176.1 369.5L184.6 368.5L196.4 367.5L209.9 367.5L220.0 367.9L226.8 368.9L238.6 369.5L242.8 367.2L247.0 364.2L252.1 365.3L260.5 365.5L269.0 366.2L277.4 366.2L284.2 365.5L287.5 363.8L290.9 361.3L294.3 358.8L297.7 356.6L301.0 354.6L304.4 352.4L309.5 350.7L313.7 349.5L316.2 350.0L313.7 351.6L310.3 353.2L307.8 354.9L305.3 357.4L307.8 360.0L309.5 362.5L310.3 365.8L308.6 368.4L311.2 370.0L319.6 371.7L328.1 373.4L336.5 374.2L344.9 374.6L351.7 374.2L356.7 373.1L361.8 371.7L366.9 370.5L371.9 368.4L378.7 366.7L385.4 365.5L392.2 363.3L397.3 362.1L404.0 362.1L412.4 360.5L420.9 361.1L429.3 360.8L437.8 360.5L446.2 361.0L454.6 361.1L463.1 359.6L468.2 358.6L473.2 360.1L476.6 360.6L480.0 359.1L485.0 357.1L490.1 356.6L495.2 355.8L500.2 354.1L505.3 354.4L508.7 355.4L513.7 356.6L518.8 356.6L525.5 357.1L528.9 358.3L532.3 359.6L537.4 360.3L540.7 359.6L544.1 358.1L549.2 356.6L554.2 355.4L559.3 355.3L564.4 355.1L569.4 354.9L574.5 354.4L577.9 353.4L582.9 353.7L589.7 354.9L594.8 355.4L599.8 354.4L604.9 354.4L609.9 355.8L615.0 355.4L621.8 354.9L628.5 355.6L635.3 354.4L642.0 354.6L648.8 355.3L653.8 355.8L658.9 356.9L664.0 358.1L669.0 358.6L674.1 359.3L679.2 359.6L684.2 361.3L689.3 362.0L694.3 362.3L699.9 363.2L699.4 365.0L697.7 366.7L694.3 368.4L691.0 370.0L688.4 372.6L691.0 373.9L696.0 373.7L702.8 374.2L709.5 374.6L716.3 374.7L724.7 374.9L724.7 399.4L100.2 399.4L100.2 374.7Z" fill="none" stroke="#000" stroke-width="0.55" stroke-linejoin="round"/>
<path d="M257.0 164.7L259.9 164.9L263.1 164.6L265.1 165.1L269.0 164.9L269.5 164.2L267.6 162.7L265.6 161.4L263.4 161.0L261.4 162.6L259.3 163.1L257.0 164.7ZM264.2 172.6L266.1 173.1L266.8 171.6L266.8 169.3L268.5 167.3L269.0 166.3L266.8 166.3L265.6 167.1L264.4 167.9L264.6 170.1L264.2 172.6ZM269.5 166.3L271.5 167.3L271.8 168.9L273.2 170.8L274.5 170.1L275.2 168.3L277.2 168.3L277.7 167.3L275.7 166.1L273.2 165.8L270.7 165.8L269.5 166.3ZM271.7 173.1L273.2 173.6L275.7 173.0L279.1 171.5L278.3 171.1L274.9 171.6L272.3 172.5L271.7 173.1ZM277.7 170.5L279.9 170.4L282.8 170.3L283.8 169.3L281.6 169.3L278.9 169.6L277.7 170.5ZM248.9 158.5L249.9 157.0L248.4 155.0L246.7 153.0L245.3 153.5L246.7 155.5L247.9 157.2L248.9 158.5ZM215.0 140.7L218.3 140.9L221.7 140.0L225.1 138.5L227.6 137.7L224.2 137.9L220.0 138.5L216.6 138.5L215.0 140.7ZM201.4 132.2L205.7 134.0L209.9 133.2L213.3 131.8L210.7 130.6L205.7 131.0L201.4 132.2ZM294.3 269.1L295.5 269.2L296.3 270.8L295.0 270.4L294.3 269.1ZM492.6 171.0L491.4 168.8L492.6 166.8L495.2 165.2L498.5 164.4L501.9 164.7L501.9 167.1L499.0 167.6L497.4 168.4L498.9 170.6L501.4 171.8L501.1 173.5L503.3 174.7L501.9 176.8L503.3 177.8L503.4 180.5L500.2 181.5L497.4 180.5L495.2 178.9L495.7 177.0L496.0 175.2L494.3 173.0L492.6 171.0ZM466.0 244.5L466.5 242.9L469.0 242.5L470.2 243.7L469.8 245.4L468.7 247.1L467.0 247.6L466.1 246.2L466.0 244.5ZM461.9 248.9L462.4 250.8L462.8 253.3L464.1 255.5L464.9 257.8L463.9 257.3L462.6 255.0L461.7 252.4L461.6 250.3L461.9 248.9ZM469.8 259.2L470.7 260.8L470.9 263.4L471.9 265.9L471.7 267.2L470.9 266.7L470.3 264.2L469.8 261.7L469.7 259.7L469.8 259.2ZM587.7 156.5L589.7 156.3L592.2 154.8L595.3 153.0L597.6 150.5L597.3 149.5L595.6 151.3L593.6 153.3L591.4 154.5L588.8 155.8L587.7 156.5ZM511.2 169.3L512.5 167.3L514.2 165.4L516.3 165.1L515.4 167.3L513.4 168.4L511.2 169.3ZM536.5 166.8L539.0 164.9L542.4 164.9L545.8 164.9L544.1 165.6L540.7 165.8L538.2 166.8L536.5 166.8ZM464.6 142.4L465.6 140.7L463.9 139.7L467.3 140.4L468.2 141.6L466.5 142.4L464.6 142.4ZM470.3 140.7L472.0 140.6L473.7 138.7L471.5 137.9L470.9 139.0L470.3 140.7ZM433.4 144.9L434.7 144.9L436.1 143.7L434.9 143.5L433.7 144.1L433.4 144.9ZM435.2 221.4L436.9 221.7L437.4 220.5L436.1 219.8L435.2 221.4Z" fill="none" stroke="#000" stroke-width="0.55" stroke-linejoin="round"/>
<path d="M174.4 126.2L174.4 141.9L177.6 142.2L180.3 144.1L183.7 142.8L186.3 144.4L187.9 147.4L190.0 148.3L193.0 149.3L192.7 150.8M204.7 160.9L251.8 160.9L251.8 160.2L252.8 161.4L255.5 161.6L258.0 162.4L261.2 162.6L263.2 162.1L269.1 164.4L270.0 165.1L271.5 165.9L273.2 167.1L273.4 171.0L272.2 172.1L273.2 173.1L279.1 171.3L279.0 170.8L278.8 170.2L282.8 170.0L283.7 168.9L285.9 167.6L291.8 167.6L292.9 166.9L293.8 166.1L294.3 164.7L295.6 163.5L297.2 163.7L298.0 164.2L298.0 166.4L298.6 167.1L299.4 167.8M214.8 188.6L218.8 188.3L225.1 190.6L229.8 190.6L229.8 189.8L232.7 189.8L236.1 193.5L238.4 194.5L239.6 193.1L241.3 193.1L243.1 195.7L244.5 197.0L245.2 198.8L248.4 199.6M256.8 218.8L256.8 217.5L257.7 216.2L259.9 216.2L258.8 214.2L258.8 213.3L262.0 213.3L261.9 216.5L262.4 216.5M262.0 213.1L263.4 212.1M263.4 216.8L261.9 219.0L260.4 220.1M261.7 219.0L264.2 220.7M265.1 221.4L266.1 220.0L267.8 219.8L269.5 218.5L272.0 218.0M267.8 224.6L271.2 224.9M272.5 229.6L273.0 227.1M281.0 231.1L281.8 228.6M291.4 210.1L291.4 212.0L291.3 213.3M292.1 223.4L290.1 224.6L289.2 227.7L290.2 229.1L290.2 230.8L292.6 231.4L294.3 231.6L295.3 233.0L298.5 232.8L298.0 235.6L298.8 237.5L298.0 238.5L299.5 241.2M299.5 241.2L301.9 241.9L304.4 240.0L305.4 239.5L304.4 236.3L306.4 236.5L309.5 235.6L310.0 234.5M310.0 234.5L308.8 233.3L309.3 231.9L310.7 231.3L311.5 229.3M310.0 234.5L311.2 234.8L311.5 235.6L311.8 237.3L311.3 239.3L312.9 241.0L314.5 240.7L317.1 240.0M316.1 233.3L315.7 234.8L314.7 236.5L314.5 237.3L315.7 237.7L317.1 240.0M321.3 233.5L320.6 234.8L321.3 237.2L320.3 239.3M317.1 240.0L318.1 239.0L320.3 239.3L323.2 239.5L324.0 237.8L325.2 236.3M299.5 241.2L298.8 240.0L297.3 240.2L294.6 240.3L294.6 241.4L295.6 242.2L294.3 242.4L294.3 243.5L295.3 245.0L294.4 250.3M294.4 250.3L293.1 249.6L294.3 247.7L291.9 247.1L289.4 247.2L288.0 245.4L285.3 243.4M285.3 243.4L283.7 242.5L281.6 242.5L280.4 241.5L279.3 240.8M285.3 243.4L284.8 245.9L283.1 247.6L280.4 248.9L280.1 249.6L279.1 251.6L278.1 250.8L276.6 250.6L276.9 248.9M294.4 250.3L292.8 250.6L289.4 251.9L288.9 253.4L288.0 255.5L289.2 258.7L290.6 260.0L293.3 259.2L293.3 261.7L295.0 261.7M295.0 261.7L296.5 264.4L296.0 266.0L296.1 267.2L295.3 268.9L295.6 269.6L296.0 270.4L295.0 272.3L295.1 272.6L293.6 274.0M295.0 261.7L296.5 261.7L300.0 259.8L302.2 259.7L302.2 262.9L303.7 264.0L306.4 265.0L308.1 265.9L310.3 266.4L310.8 270.6L313.9 270.6L314.0 272.3L315.4 273.8L314.7 276.6L314.2 277.1M314.2 277.1L312.7 275.6L308.3 276.1L307.3 277.8L306.8 280.5M306.8 280.5L303.9 280.3L303.6 281.5L302.4 280.3L300.7 279.8L299.0 281.5M299.0 281.5L297.7 279.8L297.3 279.0L296.8 277.0L296.5 276.0L296.0 275.0L295.1 272.6M299.0 281.5L299.4 281.8L297.0 284.4L296.8 287.4L294.8 291.1L294.6 293.9L293.4 296.1L294.3 299.1L294.6 300.8L293.6 302.5L292.6 304.5L292.4 307.0L291.3 310.4L291.4 313.8L290.9 316.6L291.9 318.8L290.9 322.2L290.1 325.5L288.4 328.4L290.4 328.4L290.2 330.1L291.1 330.6L294.3 330.6L297.0 331.2M296.7 331.7L296.7 335.4M306.8 280.5L309.5 283.2L311.2 283.5L313.2 284.9L315.2 285.9L313.5 289.1L316.2 289.4L317.9 289.1L320.3 286.2M314.2 277.1L314.9 280.3L318.4 280.8L318.9 283.5L320.8 283.7L320.3 286.2M320.3 286.2L321.6 287.2L321.8 288.4L318.3 290.9L315.2 293.9M315.2 293.9L318.6 295.1L321.3 296.8L322.8 298.1L322.3 299.9M315.2 293.9L314.2 297.8L313.9 300.2M390.2 196.7L397.8 196.7M397.8 197.3L397.8 199.5L392.2 199.5L392.2 203.9L390.5 204.7L390.3 207.4L383.9 207.4M408.7 184.2L409.6 185.2L410.3 188.9L407.4 189.6L406.2 191.3L403.5 193.0L401.1 193.6L397.8 195.0L397.8 197.3M397.8 197.3L404.3 201.2M404.3 201.2L401.5 207.9L403.0 215.5L403.5 217.2L396.8 217.2L394.4 217.3L393.0 217.0L391.9 218.3M391.9 218.3L389.7 216.2L388.0 215.3L384.9 215.5L384.6 216.3M391.9 218.3L392.2 221.4L393.2 222.4M393.2 222.4L389.3 222.0L387.1 221.9L384.3 222.5M384.3 220.4L387.1 220.0L389.2 220.5L387.1 221.0L384.3 221.2M389.3 222.0L389.3 223.5L387.1 224.7M393.2 222.4L395.1 222.7L396.8 222.2L398.4 224.0L398.9 226.1M390.0 228.0L391.3 226.6L393.5 226.4L394.6 227.6L395.1 228.9M395.1 228.9L393.0 231.5M395.1 228.9L396.6 230.8L398.1 230.4M398.1 230.4L398.4 232.3L399.8 233.5L399.8 235.8M398.1 230.4L398.9 228.9L399.5 227.2L398.9 226.1M398.9 226.1L402.0 225.4L403.2 225.7M403.2 225.7L404.9 226.9L407.9 227.1M407.7 224.7L407.9 227.1L407.7 229.8L407.0 231.9L407.6 234.6M407.7 224.7L412.1 224.6M412.1 224.6L413.3 226.4L413.5 228.9L413.5 231.4L414.5 233.0M414.0 224.7L414.8 227.2L415.2 228.1L415.2 232.8M412.1 224.6L414.0 224.7L416.5 222.5L418.5 223.5M418.5 223.5L418.9 225.6L417.2 228.1L417.0 232.4M403.2 225.7L403.7 223.7L405.0 221.9L405.7 220.7L407.7 219.3L409.1 218.3L411.3 217.8L412.8 218.0M412.8 218.0L414.1 220.7L416.2 222.4L416.5 222.5M412.8 218.0L418.4 217.3L419.5 214.8L419.5 211.0M404.3 201.2L415.5 209.1L417.9 209.9L418.0 211.3L419.5 211.0M419.5 211.0L422.2 210.4L425.1 208.1L432.7 203.7M418.5 223.5L418.7 222.2L419.4 220.5L421.7 219.8L424.1 221.4L427.1 221.5L429.3 220.9L433.6 221.2L435.4 220.2M435.4 220.2L435.2 219.0L438.6 214.8L438.8 209.8L439.3 208.9L437.8 204.6M432.7 203.7L436.4 205.2L437.8 204.6M432.7 203.7L429.3 202.0L428.5 199.0L429.2 195.7L428.5 192.5M428.5 192.5L427.6 189.4L426.5 188.4L425.1 186.4L426.5 184.9L426.3 181.9L427.0 181.2M428.5 192.5L429.8 189.9L431.9 188.8L431.9 187.5M455.0 190.1L454.1 192.8L454.6 194.1L454.6 206.2M454.6 206.2L454.6 209.6L453.0 209.6L453.0 210.4M437.8 204.6L453.0 210.4M454.6 206.2L474.7 206.2M453.0 210.4L453.0 216.8L451.1 217.2L450.4 219.7L449.9 221.9L451.1 224.7M451.1 224.7L449.1 225.4L446.9 227.9L444.4 228.4L441.1 230.3L438.6 230.6M438.6 230.6L438.4 226.6L436.4 226.4L437.9 224.9L437.8 222.9L436.4 221.7L435.4 220.2M427.0 235.1L428.1 232.6L430.3 231.4L432.4 231.4L433.2 229.1L434.9 226.6L435.7 224.7L437.1 223.9L436.4 222.4L436.3 221.4M438.6 230.6L436.9 233.1L436.9 234.8L439.1 238.0L439.6 239.5M439.6 239.5L434.9 239.5L431.5 239.5L429.0 239.3M429.0 241.5L431.5 241.5L431.5 239.5M434.9 239.5L436.8 240.8L435.9 242.9L436.9 244.2L436.8 246.4L434.4 247.2L433.6 248.1L432.0 247.2L431.2 249.8M443.8 237.3L443.0 239.3L442.5 242.7L441.0 245.2L439.8 246.9L439.3 249.8L438.1 250.4L436.8 251.4L435.1 251.3L434.1 250.6L432.7 251.6M439.6 239.5L440.3 237.8L443.8 237.3M443.8 237.3L443.7 236.0L445.4 234.6L447.1 235.6L450.3 236.3L453.6 234.6L455.2 234.8L458.7 234.6M451.1 224.7L452.5 228.1L453.8 229.4L455.0 230.6L457.0 232.1L458.7 234.6M452.5 227.6L454.6 225.9L457.4 227.2L459.7 227.6L461.4 226.9L463.1 226.1L465.1 226.7L467.1 223.5L468.5 222.7L468.5 225.1L469.7 226.9L469.8 227.2M469.8 227.2L470.3 225.6L471.5 223.4L473.4 221.9L474.1 219.2M474.1 219.2L473.9 218.0L474.9 214.6L477.6 213.0M474.1 219.2L476.4 218.2L478.3 218.7L480.3 219.0L482.7 220.7L484.0 222.2M484.0 222.2L485.2 221.9M484.0 222.2L483.0 223.5L483.0 224.7L484.9 224.9L485.5 223.9M484.9 224.9L486.7 228.1L491.8 229.8L493.5 229.8L488.2 235.0L485.9 235.1L483.2 236.6M483.2 236.6L481.7 238.5L481.7 243.2L481.7 244.7L482.6 246.0M483.2 236.6L481.3 236.1L479.1 237.3L476.8 237.2L474.7 235.8L473.2 235.7L473.0 235.5M469.8 227.2L469.7 229.1L468.2 229.9L469.8 230.9L471.0 231.9L472.0 234.1L473.0 235.5M473.0 235.5L469.8 236.1L469.0 236.9L467.1 237.0L465.1 236.8L464.4 237.3L462.6 235.5L460.4 236.0L458.7 234.6M469.8 236.1L470.7 238.0L471.5 240.0L470.7 241.4L469.8 242.7L469.7 244.9M464.4 237.3L464.6 239.2L465.3 239.7L463.9 241.2L462.9 242.2L462.4 244.2L462.4 245.6M462.4 245.6L463.9 245.0L469.7 244.9M469.7 244.9L475.9 248.2L476.1 249.1L478.6 251.1M462.4 245.6L461.4 247.7L461.7 250.6M463.9 245.0L464.4 247.2L463.9 249.1L462.6 250.7M461.4 247.7L463.9 247.2M464.4 257.1L468.0 259.0L469.8 259.2M471.4 262.7L473.2 262.9L475.8 262.9L477.4 262.4L480.7 260.8M464.4 257.1L461.2 257.5L460.4 258.7L460.7 260.8L460.4 263.0L461.4 264.0L462.8 263.7L462.8 265.8L461.4 265.7L460.4 264.2L458.4 262.7L456.3 263.2L455.2 262.0L453.6 262.2L453.0 261.5M453.0 261.5L449.9 262.0L450.1 260.8L449.2 255.5L447.1 255.0L445.4 256.5L442.2 256.8L440.5 253.1L435.1 253.1L433.0 253.1M453.0 261.5L453.0 265.0L449.6 265.0L449.6 270.4L451.9 272.8M432.4 272.2L435.2 272.4L436.4 272.4L443.5 272.4L447.9 273.4L451.9 272.8L455.1 273.1M447.9 273.9L447.9 280.2L446.2 280.2L446.2 284.9L446.2 290.9L444.5 291.8L442.0 291.4L440.3 291.2M447.9 273.9L452.1 274.1L453.8 273.4L455.1 273.1M446.2 284.9L447.6 288.2L449.1 288.2L450.8 286.7L451.3 285.7L453.8 286.4L455.7 286.2L457.9 283.0L459.2 282.2L462.1 280.5M462.1 280.5L459.7 279.3L459.2 277.6L456.7 276.0L455.1 273.1M455.1 273.1L458.0 273.4L461.2 270.1L463.8 269.4M463.8 269.4L463.4 268.2L468.5 266.7M468.5 266.7L467.6 266.0L468.2 264.2L468.7 261.5L468.0 259.0M468.5 266.7L470.7 267.6L470.5 269.9L472.0 271.6L472.0 270.2L473.0 268.2L471.4 265.9L470.9 262.7M463.8 269.4L468.0 271.3L468.2 272.6L467.6 275.1L468.2 276.5L467.3 279.0L465.3 280.8M462.1 280.5L465.3 280.8M465.3 280.8L466.5 284.4L466.3 286.5L466.6 288.2L468.0 288.4M466.3 286.5L466.6 288.2L464.8 289.1L464.4 287.6L465.3 286.4L466.3 286.5M458.0 292.9L460.1 291.4L461.9 292.1L462.1 293.1L460.4 294.6L458.7 294.1L458.0 292.9M397.5 172.8L398.6 172.5L401.3 172.8L402.0 173.3L400.8 174.3L400.6 176.5L399.8 176.7L400.6 179.0L400.0 180.7M409.4 170.4L411.3 171.1L413.6 171.3L415.3 171.8L417.8 171.9M425.1 169.6L425.4 168.9L424.1 168.6L424.3 166.1M424.3 166.1L422.7 165.6L422.7 165.2L424.3 163.4L425.3 163.2M425.3 163.2L426.3 160.9L423.3 160.0M423.3 160.0L422.2 160.0L420.7 159.2L419.5 159.2L417.9 157.9L416.8 157.4M418.1 156.9L419.7 156.8L420.9 156.8L422.4 157.4L422.1 157.9L422.6 157.9M422.6 157.9L422.6 156.2L423.9 155.9L424.4 155.2L424.6 153.7M422.6 157.9L422.9 158.7L422.7 159.0L423.4 159.5L423.3 160.0M427.1 151.0L428.5 151.1M436.4 152.6L436.8 153.8L436.3 154.5L437.2 155.0L437.3 156.2L437.8 157.4L437.4 157.8M437.4 157.8L436.6 157.5L434.2 158.5L432.9 158.7L433.6 159.4L435.7 161.2M435.7 161.2L434.4 162.1L434.1 163.1L434.4 163.4L433.0 163.2L430.2 163.4L428.7 163.3L427.0 163.1L425.3 163.2M424.3 166.1L425.8 165.9L426.6 165.2L427.6 166.2L428.1 165.2L429.5 165.4L430.1 164.5M430.1 164.5L428.7 164.1L428.7 163.3M430.1 164.5L433.0 164.2L433.4 164.7L435.6 165.1M435.6 165.1L435.4 166.1L435.7 166.6M435.6 165.1L437.8 164.8L439.6 164.5M439.6 164.5L440.3 163.6L441.3 162.6M435.7 161.2L437.8 160.9L441.0 161.4L441.3 162.6M437.4 157.8L439.8 158.2L441.0 158.7L442.3 158.7L444.3 160.0M444.3 160.0L441.5 161.1L441.1 161.6M444.3 160.0L446.2 160.5L447.9 160.2L450.6 160.7M441.3 162.6L444.2 162.9L445.7 162.2L447.1 161.7L449.8 161.9M449.8 161.9L450.6 160.7L450.8 159.9L453.0 158.4L452.3 156.7L452.3 154.8L452.8 154.7L452.1 152.6L450.9 151.9L446.0 151.7M450.9 151.9L450.6 150.8L448.1 150.3M452.1 152.6L455.5 152.1L456.0 151.0L457.4 149.6M448.0 149.0L451.1 148.4L454.5 148.4L457.4 149.6M457.4 149.6L460.0 148.9L459.4 146.9L458.7 146.5M453.6 145.9L455.7 145.8L457.2 146.5L458.7 146.5M458.7 146.5L458.9 145.3L458.7 144.4L459.2 143.6L459.9 143.3M459.4 141.5L462.2 139.9L465.1 138.2L465.6 137.5L463.1 136.2L463.9 135.2L462.6 134.3L463.1 132.8L461.4 130.8L463.1 129.5L460.7 128.6L460.6 127.4L461.2 127.2M461.2 127.2L463.1 126.4L464.5 125.9M461.2 127.2L461.6 126.1L459.5 125.4L456.3 126.1L455.8 126.9L454.5 128.0L451.3 127.8L449.1 126.8L447.2 127.2M447.2 127.2L448.9 128.0L452.1 129.1L452.3 130.3L452.8 132.0L453.2 132.7M447.2 127.2L446.2 128.3L443.0 128.1L442.7 129.0L440.1 129.8L439.6 130.6L438.4 131.5L436.9 132.2L437.1 133.5L435.6 134.7L436.3 135.3L433.9 135.7L432.9 136.5L433.0 138.5L433.2 139.7L434.1 140.2L433.6 141.9L432.4 142.9L432.2 144.1L431.4 143.9M449.8 161.9L451.1 162.6M451.1 162.6L448.9 164.4L448.2 165.2L446.7 165.7M446.7 165.7L444.4 166.1L442.2 166.0L440.3 165.1L439.6 164.5M440.3 165.1L438.8 165.6L438.3 166.8L436.9 166.8L435.4 166.8M444.4 166.1L444.7 167.6L444.5 167.9M444.5 167.9L442.5 167.5L440.0 167.3L439.1 167.3L439.1 168.1L439.8 168.9L441.1 170.1L442.2 170.9L443.6 171.7M444.5 167.9L445.2 168.8L444.9 170.1L444.0 170.6L443.6 171.7M444.9 170.1L446.7 171.2L446.4 171.7M446.7 165.7L448.7 167.3L448.6 167.9L450.4 168.1L450.8 168.9M450.8 168.9L450.3 170.1L451.3 170.6L450.3 172.1M450.8 168.9L451.3 169.6L455.5 169.9L458.0 169.1L460.7 169.7M451.1 162.6L454.5 163.1L457.4 162.1M457.4 162.1L459.9 164.4L460.1 166.8L462.6 167.3M457.4 162.1L459.4 161.9L461.7 162.7L463.1 165.1L460.1 166.8M452.3 156.7L455.5 156.0L458.9 156.7L464.1 157.0L466.1 155.7M466.1 155.7L469.5 155.3L472.4 157.5L472.2 158.5L475.8 158.7L476.6 159.4L480.1 159.9L479.6 162.9L476.9 164.1M466.1 155.7L465.6 153.8L467.6 153.5L464.4 151.1L464.6 149.8L460.0 148.9M446.2 176.5L447.7 174.6L451.1 173.8L453.8 173.5L456.3 173.8L456.9 173.1M456.9 173.1L457.4 173.8L456.4 174.7M456.9 173.1L458.5 172.5L459.7 172.6M445.2 172.9L445.7 171.6L446.4 171.7L447.2 172.8L447.1 173.8L447.7 174.6M450.3 172.1L451.1 173.8M450.3 172.1L448.7 172.2L447.2 172.8M400.1 150.7L399.6 151.5L398.8 151.7L400.1 152.2L401.8 152.4M473.0 182.9L474.4 182.2L474.4 181.4L475.8 181.5L477.4 181.3L481.3 180.9L483.9 180.9M483.9 180.9L485.9 180.6L488.1 180.8M488.1 180.8L487.2 178.9L487.4 177.0L488.1 176.5M488.1 176.5L486.2 175.8L486.0 174.2L484.2 173.6L482.5 173.5M480.0 170.3L484.2 170.6L486.7 171.6L489.6 171.8L490.9 173.0M490.9 173.0L493.1 174.0L494.5 172.9M486.0 174.2L488.4 173.9L490.9 173.0M488.4 173.9L489.9 175.5L490.9 176.8L490.9 177.8M488.1 176.5L490.9 177.8L493.5 176.5L495.0 178.6M503.4 180.5L506.1 179.4L509.0 178.9L512.5 180.2L514.4 181.6L515.8 181.7L515.7 183.9M515.7 183.9L514.7 186.1L515.2 190.3L515.2 193.1M515.2 193.1L516.8 195.2L518.5 195.7L518.5 197.5L519.3 198.5L516.4 200.9M488.1 180.8L489.1 182.7L490.4 184.1L489.1 186.1L490.3 187.8L493.1 189.8L494.5 192.8M493.4 192.9L493.0 192.6L491.0 194.3L492.6 195.3L494.1 195.2M491.0 194.3L487.9 194.1L483.5 191.0L480.6 189.5L478.6 189.2M478.6 189.2L477.9 187.1M477.9 187.1L481.7 185.4L482.2 182.0L483.9 180.9M478.6 189.2L474.9 190.3L476.6 192.0L475.8 192.8L473.4 194.1L471.4 193.9M477.9 187.1L474.6 188.9L472.6 188.3M472.6 188.3L472.5 190.3L471.4 193.6M470.3 190.6L471.4 193.6M471.7 187.6L473.0 187.3L474.2 185.7L473.1 185.0M484.6 215.6L485.5 213.8L487.6 214.0L491.3 214.2L495.2 212.0L500.2 211.3M500.2 211.3L502.1 215.2M500.2 211.3L505.3 209.6L506.4 206.2L505.6 205.1M505.6 205.1L501.2 204.6L499.6 202.5M505.6 205.1L506.6 202.5L507.1 201.7L507.6 201.3M515.8 183.4L517.6 183.9L519.0 183.0L521.3 182.2L524.7 180.5L526.9 180.7L529.4 180.9L530.9 180.0L532.1 178.6L533.3 181.5L534.8 181.0L538.9 180.6M538.9 180.6L538.2 181.0L534.0 181.7L533.3 182.0L532.6 184.9L532.3 186.0L529.8 187.6L529.4 189.6L527.2 189.9L524.5 191.3L524.4 193.1L518.0 193.8L515.2 193.1M495.3 165.2L493.8 163.1L492.0 162.1L490.9 161.9L491.4 160.4L492.3 158.7L494.5 158.2L498.2 156.3L502.6 156.7L504.4 157.5L509.5 157.4L511.4 157.4L512.9 158.3L516.1 157.9L514.1 155.8L515.4 154.2L517.3 154.2L516.3 152.6L522.5 151.9L527.6 150.8L528.9 150.1L532.0 150.3L532.6 152.3L536.5 152.5L538.0 153.2L542.3 151.8L543.9 153.7L547.5 157.8L549.9 157.9L553.2 157.5L556.3 159.9L559.0 159.5L559.9 160.7M559.9 160.7L557.1 162.1L556.8 164.2L552.6 163.9L551.4 166.8L547.7 167.6L548.8 170.7L548.0 172.3M548.0 172.3L544.8 173.6L542.3 174.3L539.0 175.2L537.0 176.3L536.9 177.0M536.9 177.0L538.9 178.5L538.9 180.6M501.0 173.1L505.1 172.6L506.1 173.8L507.0 173.8M507.0 173.8L507.0 167.6L511.4 166.6L515.4 168.6L517.1 170.1L522.0 169.8L524.0 171.0L523.9 172.6L527.4 174.3L532.1 172.2M532.1 172.2L536.5 171.8L536.7 170.9L540.2 171.3L546.0 171.3L548.0 172.3M507.0 173.8L508.7 172.8L511.4 171.4L513.9 173.6L516.9 174.2L518.0 176.0L521.2 177.8L524.7 179.4L524.7 180.5M526.9 180.7L527.7 179.0L526.2 177.2L528.2 175.8L531.5 175.7L532.1 175.7L535.8 174.7L533.5 173.5L530.9 173.5L532.1 172.2M531.5 176.0L536.9 177.0M560.7 160.5L563.7 159.4L568.3 157.9L572.1 159.2L576.7 159.6L578.4 155.8L585.0 157.0L585.0 158.4L587.3 158.9L592.6 158.7L595.6 160.4L599.3 160.6L605.4 158.8L609.4 159.5M560.7 160.5L562.0 162.2L565.9 164.4L565.9 167.3L570.3 167.7L573.5 168.9L575.2 171.4L581.2 171.5L584.3 171.8L589.7 173.3L593.9 171.9L597.3 171.9L601.2 169.8L601.3 167.4L604.2 168.0L609.4 165.3L614.5 164.9L612.5 162.6L607.6 162.7L609.4 159.5M609.4 159.5L611.3 160.0L613.8 159.0L615.2 154.8L616.7 153.7L621.1 153.2L625.1 154.6L627.7 158.9L633.1 161.0L633.6 163.1L639.8 161.9L637.1 167.4L634.9 167.1L634.1 170.1L632.9 172.0M632.9 172.0L631.7 171.0L628.7 172.6L626.7 173.0L622.4 176.2M625.3 179.8L626.8 178.9L629.1 178.4M594.8 207.1L592.6 206.2L592.4 204.7L590.2 204.1L587.8 205.4L585.0 205.6M585.0 205.6L584.1 207.7L583.2 207.0M583.2 207.0L579.9 206.1L580.4 204.7L579.4 204.2L577.1 203.0L577.4 201.0L579.1 199.7L579.1 196.8L576.8 195.7M576.8 195.7L574.8 193.8L573.5 194.4L572.1 194.0L567.9 196.5L567.2 196.6M567.2 196.6L564.9 195.8L563.7 195.9L562.5 197.3M562.5 197.3L562.7 198.2L564.0 198.3L567.9 198.0L567.9 197.0L567.2 196.6M562.5 197.3L562.3 196.1L561.2 196.4M561.2 196.4L557.6 196.2L556.1 195.2L554.2 194.1L551.0 192.2L549.2 192.5M549.2 192.5L547.7 194.8L550.7 196.3L553.1 197.3L555.3 197.3L557.3 198.5L561.2 198.8L561.2 196.4M549.2 192.5L546.1 190.6L544.8 188.4L546.6 188.2L545.3 185.9L544.1 183.6L540.7 182.9L538.9 180.6M527.6 203.3L528.6 202.4L532.3 202.2L530.8 199.7L531.1 196.3L533.8 196.2L536.3 193.0L538.4 191.0L538.2 188.2L539.7 188.9L537.4 187.4L537.2 185.1L542.1 183.6L544.1 183.6M562.8 206.4L562.5 204.2L562.2 202.4L561.2 201.5L562.5 200.7L561.7 199.0L564.0 199.6L564.0 200.7L567.7 200.9L568.4 201.4L566.4 202.9L566.7 204.4L567.6 203.7L568.8 206.3L568.8 207.4L568.3 208.4M568.8 206.3L569.8 205.8L570.1 202.9L572.3 200.5L573.1 198.5L576.4 197.7L576.8 195.7M583.2 207.0L581.4 209.0M581.4 209.0L579.5 210.0L577.5 212.0L576.8 212.1L579.4 215.6L578.2 217.7L579.9 221.0L580.6 223.4L579.1 225.7M581.4 209.0L582.3 210.4L583.4 210.4L582.9 213.6L584.8 212.6L587.0 212.3L589.2 213.8L589.3 215.5L590.7 216.8L590.5 219.0L590.0 219.2M590.0 219.2L586.3 219.3L585.2 220.4L586.1 223.5M581.4 232.4L582.8 233.5L583.1 233.7L584.3 233.5L584.8 232.8M585.0 205.6L586.3 208.1L588.2 208.0L589.5 209.9L588.0 210.6L590.0 212.0L592.2 214.6L594.1 217.7L593.9 218.5M593.9 218.5L591.4 219.8L590.0 219.2M593.9 218.5L594.1 222.4L591.4 223.5L591.2 224.9L588.8 225.7M597.5 239.8L598.1 241.2L601.2 241.5L603.2 240.8L605.9 240.8L606.9 238.3L607.8 236.1L611.0 236.1M650.5 247.6L650.5 258.5M623.5 257.8L623.6 259.0M605.1 235.5L606.1 236.5L607.1 235.0" fill="none" stroke="#000" stroke-width="1.00" stroke-linejoin="round"/>
<path d="M536.3,122.4 L537.7,126.3 L534.5,130.1 L524.9,132.4 L522.6,136.8 L529.3,140.6 L541.5,142 L549.4,144.6 L555.2,148.1M530.7,141.3 L527.5,145.2M549.9,118.9 L553.8,121 L557.6,126.3 L559.4,131.9 L562.5,132.4 L567.4,135.4M559.9,132.4 L561.1,138.2M580.9,123.1 L587,121.4 L595.8,118.9 L601,117.5M630.8,118.4 L626.4,122.8 L622,126.3 L620.3,131.5 L624.6,135 L632.5,135.9 L639.5,137.6 L641.3,142M602.8,142.9 L608,141.7 L615,141.7 L623.8,139.4 L630.8,137.6" fill="none" stroke="#000" stroke-width="0.55" stroke-linejoin="round"/>
</g>
<rect x="100.5" y="97.5" width="620" height="299" fill="none" stroke="#000" stroke-width="1"/>
<text x="410.5" y="90" font-size="20" text-anchor="middle">Nequick-Galileo VTEC : 19 Hour of 200 DOY [2019/07/19]</text>
<rect x="100.5" y="468.5" width="620" height="30.7" fill="url(#jet)" stroke="#000" stroke-width="1"/>
<line x1="164.82" y1="499.2" x2="164.82" y2="493.7" stroke="#000" stroke-width="0.8"/><text x="164.82" y="518.6" font-size="16.67" text-anchor="middle">0.25</text>
<line x1="229.65" y1="499.2" x2="229.65" y2="493.7" stroke="#000" stroke-width="0.8"/><text x="229.65" y="518.6" font-size="16.67" text-anchor="middle">0.50</text>
<line x1="294.48" y1="499.2" x2="294.48" y2="493.7" stroke="#000" stroke-width="0.8"/><text x="294.48" y="518.6" font-size="16.67" text-anchor="middle">0.75</text>
<line x1="359.30" y1="499.2" x2="359.30" y2="493.7" stroke="#000" stroke-width="0.8"/><text x="359.30" y="518.6" font-size="16.67" text-anchor="middle">1.00</text>
<line x1="424.12" y1="499.2" x2="424.12" y2="493.7" stroke="#000" stroke-width="0.8"/><text x="424.12" y="518.6" font-size="16.67" text-anchor="middle">1.25</text>
<line x1="488.95" y1="499.2" x2="488.95" y2="493.7" stroke="#000" stroke-width="0.8"/><text x="488.95" y="518.6" font-size="16.67" text-anchor="middle">1.50</text>
<line x1="553.78" y1="499.2" x2="553.78" y2="493.7" stroke="#000" stroke-width="0.8"/><text x="553.78" y="518.6" font-size="16.67" text-anchor="middle">1.75</text>
<line x1="618.60" y1="499.2" x2="618.60" y2="493.7" stroke="#000" stroke-width="0.8"/><text x="618.60" y="518.6" font-size="16.67" text-anchor="middle">2.00</text>
<line x1="683.42" y1="499.2" x2="683.42" y2="493.7" stroke="#000" stroke-width="0.8"/><text x="683.42" y="518.6" font-size="16.67" text-anchor="middle">2.25</text>
<text x="409.6" y="543.6" font-size="16.67" text-anchor="middle">VTEC</text>
<text x="719.4" y="541" font-size="16.67" text-anchor="end">1e17</text>
</svg>
</body></html>
